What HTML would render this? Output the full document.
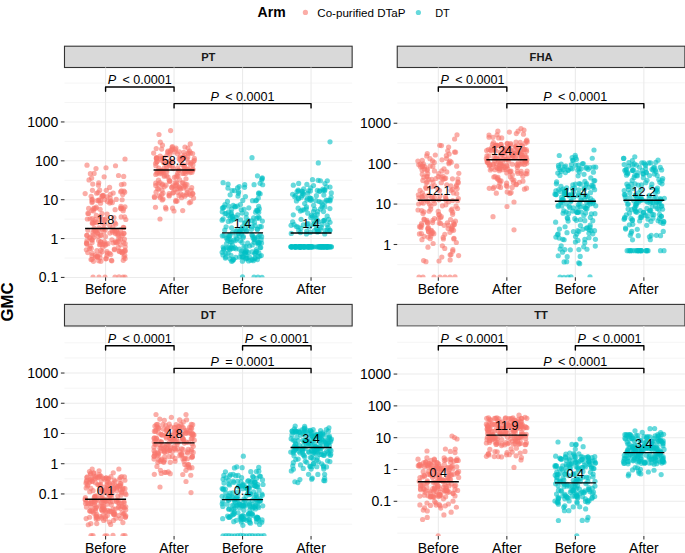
<!DOCTYPE html><html><head><meta charset="utf-8"><style>html,body{margin:0;padding:0;background:#fff;}svg{display:block;}</style></head><body>
<svg width="685" height="553" viewBox="0 0 685 553" font-family='"Liberation Sans", sans-serif'>
<rect width="685" height="553" fill="#fff"/>
<defs>
<clipPath id="c0"><rect x="64.49" y="67.5" width="287.65999999999997" height="209.8"/></clipPath>
<clipPath id="c1"><rect x="397.24" y="67.5" width="287.65999999999997" height="209.8"/></clipPath>
<clipPath id="c2"><rect x="64.49" y="326.0" width="287.65999999999997" height="209.89999999999998"/></clipPath>
<clipPath id="c3"><rect x="397.24" y="326.0" width="287.65999999999997" height="209.89999999999998"/></clipPath>
</defs>
<text x="257.6" y="17.1" font-size="14" font-weight="bold" fill="#000">Arm</text>
<circle cx="305.4" cy="12.4" r="2.6" fill="#F8766D" fill-opacity="0.6"/>
<text x="317.3" y="16.5" font-size="11.8" textLength="88.2" lengthAdjust="spacingAndGlyphs" fill="#000">Co-purified DTaP</text>
<circle cx="418.4" cy="12.5" r="2.6" fill="#00BFC4" fill-opacity="0.6"/>
<text x="435.2" y="16.5" font-size="11.8" textLength="14.6" lengthAdjust="spacingAndGlyphs" fill="#000">DT</text>
<text transform="translate(12.9,302) rotate(-90)" text-anchor="middle" font-size="16.8" font-weight="bold" fill="#000">GMC</text>
<rect x="64.49" y="46.2" width="287.65999999999997" height="21.299999999999997" fill="#D9D9D9" stroke="#333" stroke-width="1.1"/>
<text x="208.32" y="61.1" text-anchor="middle" font-size="11.2" font-weight="bold" fill="#1a1a1a">PT</text>
<line x1="64.49" x2="352.15" y1="258" y2="258" stroke="#EBEBEB" stroke-width="0.55"/><line x1="64.49" x2="352.15" y1="219.12" y2="219.12" stroke="#EBEBEB" stroke-width="0.55"/><line x1="64.49" x2="352.15" y1="180.25" y2="180.25" stroke="#EBEBEB" stroke-width="0.55"/><line x1="64.49" x2="352.15" y1="141.38" y2="141.38" stroke="#EBEBEB" stroke-width="0.55"/><line x1="64.49" x2="352.15" y1="102.52" y2="102.52" stroke="#EBEBEB" stroke-width="0.55"/><line x1="64.49" x2="352.15" y1="83.08" y2="83.08" stroke="#EBEBEB" stroke-width="0.55"/><line x1="64.49" x2="352.15" y1="277.43" y2="277.43" stroke="#EBEBEB" stroke-width="1.1"/><line x1="64.49" x2="352.15" y1="238.56" y2="238.56" stroke="#EBEBEB" stroke-width="1.1"/><line x1="64.49" x2="352.15" y1="199.69" y2="199.69" stroke="#EBEBEB" stroke-width="1.1"/><line x1="64.49" x2="352.15" y1="160.82" y2="160.82" stroke="#EBEBEB" stroke-width="1.1"/><line x1="64.49" x2="352.15" y1="121.95" y2="121.95" stroke="#EBEBEB" stroke-width="1.1"/><line x1="105.58" x2="105.58" y1="67.5" y2="277.3" stroke="#EBEBEB" stroke-width="1.1"/><line x1="174.07" x2="174.07" y1="67.5" y2="277.3" stroke="#EBEBEB" stroke-width="1.1"/><line x1="242.56" x2="242.56" y1="67.5" y2="277.3" stroke="#EBEBEB" stroke-width="1.1"/><line x1="311.05" x2="311.05" y1="67.5" y2="277.3" stroke="#EBEBEB" stroke-width="1.1"/>
<line x1="60.88999999999999" x2="64.49" y1="277.43" y2="277.43" stroke="#333" stroke-width="1.07"/>
<text x="58.28999999999999" y="282.43" text-anchor="end" font-size="14" fill="#000">0.1</text>
<line x1="60.88999999999999" x2="64.49" y1="238.56" y2="238.56" stroke="#333" stroke-width="1.07"/>
<text x="58.28999999999999" y="243.56" text-anchor="end" font-size="14" fill="#000">1</text>
<line x1="60.88999999999999" x2="64.49" y1="199.69" y2="199.69" stroke="#333" stroke-width="1.07"/>
<text x="58.28999999999999" y="204.69" text-anchor="end" font-size="14" fill="#000">10</text>
<line x1="60.88999999999999" x2="64.49" y1="160.82" y2="160.82" stroke="#333" stroke-width="1.07"/>
<text x="58.28999999999999" y="165.82" text-anchor="end" font-size="14" fill="#000">100</text>
<line x1="60.88999999999999" x2="64.49" y1="121.95" y2="121.95" stroke="#333" stroke-width="1.07"/>
<text x="58.28999999999999" y="126.95" text-anchor="end" font-size="14" fill="#000">1000</text>
<line x1="105.58" x2="105.58" y1="277.3" y2="280.8" stroke="#333" stroke-width="1.07"/>
<text x="105.58" y="294.4" text-anchor="middle" font-size="14" fill="#000">Before</text>
<line x1="174.07" x2="174.07" y1="277.3" y2="280.8" stroke="#333" stroke-width="1.07"/>
<text x="174.07" y="294.4" text-anchor="middle" font-size="14" fill="#000">After</text>
<line x1="242.56" x2="242.56" y1="277.3" y2="280.8" stroke="#333" stroke-width="1.07"/>
<text x="242.56" y="294.4" text-anchor="middle" font-size="14" fill="#000">Before</text>
<line x1="311.05" x2="311.05" y1="277.3" y2="280.8" stroke="#333" stroke-width="1.07"/>
<text x="311.05" y="294.4" text-anchor="middle" font-size="14" fill="#000">After</text>
<g clip-path="url(#c0)" fill="#F8766D" fill-opacity="0.6"><circle cx="115.38" cy="233.53" r="2.6"/><circle cx="92.47" cy="222.76" r="2.6"/><circle cx="123.45" cy="242.19" r="2.6"/><circle cx="123.88" cy="233.16" r="2.6"/><circle cx="123" cy="277.18" r="2.6"/><circle cx="99.01" cy="199.84" r="2.6"/><circle cx="87.36" cy="218.99" r="2.6"/><circle cx="96.3" cy="207.17" r="2.6"/><circle cx="118.31" cy="241.12" r="2.6"/><circle cx="91.77" cy="239.77" r="2.6"/><circle cx="96.64" cy="193.24" r="2.6"/><circle cx="114.4" cy="249.76" r="2.6"/><circle cx="95.18" cy="221.86" r="2.6"/><circle cx="97.28" cy="200.6" r="2.6"/><circle cx="96.87" cy="250.65" r="2.6"/><circle cx="94.02" cy="208.02" r="2.6"/><circle cx="118.23" cy="247.47" r="2.6"/><circle cx="118.53" cy="175.48" r="2.6"/><circle cx="95.08" cy="230.72" r="2.6"/><circle cx="92.31" cy="201.57" r="2.6"/><circle cx="110.69" cy="254.47" r="2.6"/><circle cx="124.97" cy="206.79" r="2.6"/><circle cx="116.94" cy="242.52" r="2.6"/><circle cx="86.57" cy="242.79" r="2.6"/><circle cx="110.85" cy="200.73" r="2.6"/><circle cx="97.07" cy="232.4" r="2.6"/><circle cx="115.51" cy="241.53" r="2.6"/><circle cx="104.81" cy="219.74" r="2.6"/><circle cx="91.64" cy="178.12" r="2.6"/><circle cx="98.77" cy="260.84" r="2.6"/><circle cx="92.96" cy="232.65" r="2.6"/><circle cx="123.52" cy="208.81" r="2.6"/><circle cx="112.35" cy="202.57" r="2.6"/><circle cx="120.46" cy="229.93" r="2.6"/><circle cx="99.49" cy="244.64" r="2.6"/><circle cx="116.74" cy="231.29" r="2.6"/><circle cx="115.74" cy="224.07" r="2.6"/><circle cx="121.04" cy="208.79" r="2.6"/><circle cx="96.3" cy="215.46" r="2.6"/><circle cx="114.29" cy="230.26" r="2.6"/><circle cx="100.58" cy="203.18" r="2.6"/><circle cx="92.25" cy="240.06" r="2.6"/><circle cx="125" cy="277.01" r="2.6"/><circle cx="90.24" cy="246.23" r="2.6"/><circle cx="95.22" cy="255.12" r="2.6"/><circle cx="114.35" cy="249.04" r="2.6"/><circle cx="93.44" cy="261.36" r="2.6"/><circle cx="98.9" cy="230.43" r="2.6"/><circle cx="92.42" cy="190.37" r="2.6"/><circle cx="100.72" cy="241.67" r="2.6"/><circle cx="103.01" cy="195.44" r="2.6"/><circle cx="87" cy="165.22" r="2.6"/><circle cx="104.15" cy="176.8" r="2.6"/><circle cx="89.65" cy="238.02" r="2.6"/><circle cx="123.92" cy="191.04" r="2.6"/><circle cx="109.75" cy="225.42" r="2.6"/><circle cx="122.25" cy="252.8" r="2.6"/><circle cx="119.59" cy="251.55" r="2.6"/><circle cx="100.28" cy="216.44" r="2.6"/><circle cx="110.36" cy="194.37" r="2.6"/><circle cx="100.13" cy="209.28" r="2.6"/><circle cx="121.31" cy="208.05" r="2.6"/><circle cx="103.16" cy="195.71" r="2.6"/><circle cx="123.76" cy="233.58" r="2.6"/><circle cx="98.73" cy="182.77" r="2.6"/><circle cx="104.61" cy="199.7" r="2.6"/><circle cx="108.03" cy="243.65" r="2.6"/><circle cx="100.1" cy="257.79" r="2.6"/><circle cx="92.39" cy="218.52" r="2.6"/><circle cx="102.54" cy="196.2" r="2.6"/><circle cx="93.69" cy="223.06" r="2.6"/><circle cx="98.47" cy="185.21" r="2.6"/><circle cx="113.16" cy="193.07" r="2.6"/><circle cx="113.22" cy="242.8" r="2.6"/><circle cx="93.43" cy="210.98" r="2.6"/><circle cx="118.8" cy="238.59" r="2.6"/><circle cx="120.68" cy="208.13" r="2.6"/><circle cx="100.61" cy="200.49" r="2.6"/><circle cx="96.88" cy="256.64" r="2.6"/><circle cx="107.11" cy="196.75" r="2.6"/><circle cx="124.63" cy="216.87" r="2.6"/><circle cx="106.03" cy="244.24" r="2.6"/><circle cx="115.11" cy="209.66" r="2.6"/><circle cx="99" cy="277.07" r="2.6"/><circle cx="111.41" cy="260.28" r="2.6"/><circle cx="103.81" cy="231.94" r="2.6"/><circle cx="94.93" cy="219.64" r="2.6"/><circle cx="125.13" cy="243.5" r="2.6"/><circle cx="101.17" cy="235.16" r="2.6"/><circle cx="87.03" cy="240.62" r="2.6"/><circle cx="116.23" cy="199.47" r="2.6"/><circle cx="122.12" cy="199.77" r="2.6"/><circle cx="91.97" cy="202.6" r="2.6"/><circle cx="118.24" cy="233.17" r="2.6"/><circle cx="94.14" cy="228.01" r="2.6"/><circle cx="92.1" cy="242.51" r="2.6"/><circle cx="120.62" cy="191.75" r="2.6"/><circle cx="85.14" cy="193.53" r="2.6"/><circle cx="102.41" cy="219.05" r="2.6"/><circle cx="106.86" cy="255.8" r="2.6"/><circle cx="111.86" cy="239.75" r="2.6"/><circle cx="87.77" cy="252.56" r="2.6"/><circle cx="97.63" cy="257.27" r="2.6"/><circle cx="96" cy="168.58" r="2.6"/><circle cx="119" cy="276.89" r="2.6"/><circle cx="93.79" cy="230.26" r="2.6"/><circle cx="92.02" cy="259.27" r="2.6"/><circle cx="113.93" cy="217.48" r="2.6"/><circle cx="105.52" cy="236.59" r="2.6"/><circle cx="122.23" cy="235.56" r="2.6"/><circle cx="89.01" cy="179.95" r="2.6"/><circle cx="100.84" cy="242.44" r="2.6"/><circle cx="124.69" cy="192.21" r="2.6"/><circle cx="86.5" cy="243.4" r="2.6"/><circle cx="124.81" cy="255.53" r="2.6"/><circle cx="88.59" cy="213.49" r="2.6"/><circle cx="110.14" cy="197.95" r="2.6"/><circle cx="107.1" cy="214.11" r="2.6"/><circle cx="89.55" cy="248.5" r="2.6"/><circle cx="121.74" cy="251.36" r="2.6"/><circle cx="111.81" cy="260.83" r="2.6"/><circle cx="102.64" cy="229.17" r="2.6"/><circle cx="106.96" cy="251.55" r="2.6"/><circle cx="92.04" cy="253.31" r="2.6"/><circle cx="96.98" cy="222.77" r="2.6"/><circle cx="92.87" cy="235.26" r="2.6"/><circle cx="112.79" cy="227.15" r="2.6"/><circle cx="92.74" cy="184.11" r="2.6"/><circle cx="107.26" cy="253.46" r="2.6"/><circle cx="100.89" cy="261.35" r="2.6"/><circle cx="102" cy="251.72" r="2.6"/><circle cx="117.98" cy="235.2" r="2.6"/><circle cx="112.07" cy="230.5" r="2.6"/><circle cx="125.02" cy="251.2" r="2.6"/><circle cx="105.75" cy="258.78" r="2.6"/><circle cx="87.87" cy="213.44" r="2.6"/><circle cx="122.71" cy="194.62" r="2.6"/><circle cx="115.5" cy="165.74" r="2.6"/><circle cx="86.87" cy="235.47" r="2.6"/><circle cx="95.45" cy="257.02" r="2.6"/><circle cx="120.61" cy="244.86" r="2.6"/><circle cx="125.1" cy="250.44" r="2.6"/><circle cx="99.06" cy="227.97" r="2.6"/><circle cx="121.43" cy="184.55" r="2.6"/><circle cx="105" cy="277.04" r="2.6"/><circle cx="92.35" cy="223.35" r="2.6"/><circle cx="106.21" cy="258.62" r="2.6"/><circle cx="121.18" cy="216.96" r="2.6"/><circle cx="100.75" cy="250.25" r="2.6"/><circle cx="110.43" cy="201.9" r="2.6"/><circle cx="100.37" cy="235.52" r="2.6"/><circle cx="120.96" cy="206.29" r="2.6"/><circle cx="115.85" cy="242.67" r="2.6"/><circle cx="102.81" cy="247.3" r="2.6"/><circle cx="123.75" cy="227.5" r="2.6"/><circle cx="98.06" cy="236.27" r="2.6"/><circle cx="112.49" cy="232.12" r="2.6"/><circle cx="99.97" cy="254.32" r="2.6"/><circle cx="91.27" cy="248.42" r="2.6"/><circle cx="115.07" cy="232.14" r="2.6"/><circle cx="91.88" cy="199.81" r="2.6"/><circle cx="123.18" cy="210.76" r="2.6"/><circle cx="105.1" cy="245.18" r="2.6"/><circle cx="121.26" cy="234" r="2.6"/><circle cx="101.84" cy="196.41" r="2.6"/><circle cx="115.94" cy="230.66" r="2.6"/><circle cx="94.11" cy="173.47" r="2.6"/><circle cx="105.25" cy="229.75" r="2.6"/><circle cx="90.39" cy="173.65" r="2.6"/><circle cx="93.77" cy="208.83" r="2.6"/><circle cx="86.37" cy="249.74" r="2.6"/><circle cx="103.91" cy="228.36" r="2.6"/><circle cx="98.75" cy="200.74" r="2.6"/><circle cx="91.96" cy="255.65" r="2.6"/><circle cx="109.86" cy="233.1" r="2.6"/><circle cx="90.01" cy="218.81" r="2.6"/><circle cx="121.44" cy="190.84" r="2.6"/><circle cx="123.35" cy="227.24" r="2.6"/><circle cx="99.33" cy="219.19" r="2.6"/><circle cx="106" cy="167.73" r="2.6"/><circle cx="104.38" cy="241.59" r="2.6"/><circle cx="117.98" cy="233.91" r="2.6"/><circle cx="123.98" cy="184.01" r="2.6"/><circle cx="123.99" cy="256.95" r="2.6"/><circle cx="120.46" cy="239.35" r="2.6"/><circle cx="104.83" cy="223.57" r="2.6"/><circle cx="91.03" cy="259.57" r="2.6"/><circle cx="115" cy="277.03" r="2.6"/><circle cx="106.25" cy="190.34" r="2.6"/><circle cx="99.65" cy="190.19" r="2.6"/><circle cx="105.72" cy="218.79" r="2.6"/><circle cx="97.6" cy="256.1" r="2.6"/><circle cx="109.62" cy="187.39" r="2.6"/><circle cx="125.21" cy="246.84" r="2.6"/><circle cx="93" cy="277.14" r="2.6"/><circle cx="97.52" cy="233.52" r="2.6"/><circle cx="98.04" cy="192.57" r="2.6"/><circle cx="124.37" cy="239.2" r="2.6"/><circle cx="95.78" cy="231.82" r="2.6"/><circle cx="102.41" cy="223.35" r="2.6"/><circle cx="93.82" cy="237.36" r="2.6"/><circle cx="87.91" cy="230.25" r="2.6"/><circle cx="102.05" cy="213.56" r="2.6"/><circle cx="91.11" cy="196.3" r="2.6"/><circle cx="109.56" cy="253.23" r="2.6"/><circle cx="104.03" cy="243.57" r="2.6"/><circle cx="123.29" cy="260.37" r="2.6"/><circle cx="90.2" cy="237.4" r="2.6"/><circle cx="109.71" cy="203.08" r="2.6"/><circle cx="123.76" cy="251.24" r="2.6"/><circle cx="95.76" cy="208.34" r="2.6"/><circle cx="86.91" cy="235.32" r="2.6"/><circle cx="125" cy="159" r="2.6"/><circle cx="100.41" cy="244.29" r="2.6"/><circle cx="125.11" cy="258.52" r="2.6"/><circle cx="98.65" cy="240.49" r="2.6"/><circle cx="102.49" cy="244.5" r="2.6"/><circle cx="114.8" cy="222.7" r="2.6"/><circle cx="92" cy="210.29" r="2.6"/><circle cx="87.06" cy="244.29" r="2.6"/><circle cx="88.66" cy="208.4" r="2.6"/><circle cx="92.23" cy="199.43" r="2.6"/><circle cx="125.81" cy="219.49" r="2.6"/><circle cx="122.08" cy="252.73" r="2.6"/><circle cx="118.98" cy="250.94" r="2.6"/><circle cx="123.69" cy="176.47" r="2.6"/><circle cx="107.46" cy="201.53" r="2.6"/></g>
<g clip-path="url(#c0)" fill="#F8766D" fill-opacity="0.6"><circle cx="180" cy="188.33" r="2.6"/><circle cx="170.09" cy="151.99" r="2.6"/><circle cx="179.33" cy="151.78" r="2.6"/><circle cx="156.23" cy="148.54" r="2.6"/><circle cx="192.94" cy="169.8" r="2.6"/><circle cx="160" cy="219" r="2.6"/><circle cx="166.03" cy="208.9" r="2.6"/><circle cx="169.17" cy="180.22" r="2.6"/><circle cx="172.34" cy="166.16" r="2.6"/><circle cx="174.6" cy="151.89" r="2.6"/><circle cx="191.99" cy="172.14" r="2.6"/><circle cx="156.06" cy="192.19" r="2.6"/><circle cx="166.16" cy="164.33" r="2.6"/><circle cx="174.97" cy="189.39" r="2.6"/><circle cx="156.94" cy="161.58" r="2.6"/><circle cx="177.2" cy="192.36" r="2.6"/><circle cx="169.97" cy="180.99" r="2.6"/><circle cx="159.68" cy="172.17" r="2.6"/><circle cx="159.15" cy="196.01" r="2.6"/><circle cx="184.1" cy="185.99" r="2.6"/><circle cx="166.79" cy="171.8" r="2.6"/><circle cx="175.89" cy="200.38" r="2.6"/><circle cx="187.97" cy="171.8" r="2.6"/><circle cx="192.78" cy="194.11" r="2.6"/><circle cx="162.01" cy="190.18" r="2.6"/><circle cx="163.45" cy="157.74" r="2.6"/><circle cx="188.36" cy="168.82" r="2.6"/><circle cx="169.59" cy="181.43" r="2.6"/><circle cx="192.7" cy="193.33" r="2.6"/><circle cx="160.33" cy="197.68" r="2.6"/><circle cx="185.59" cy="173.58" r="2.6"/><circle cx="167.78" cy="152.22" r="2.6"/><circle cx="178.79" cy="169.98" r="2.6"/><circle cx="181.02" cy="160.45" r="2.6"/><circle cx="168.03" cy="177.11" r="2.6"/><circle cx="163.03" cy="199.02" r="2.6"/><circle cx="180.78" cy="158.89" r="2.6"/><circle cx="172.4" cy="146.54" r="2.6"/><circle cx="190.95" cy="195.35" r="2.6"/><circle cx="176.18" cy="177.21" r="2.6"/><circle cx="155.51" cy="207.24" r="2.6"/><circle cx="158.22" cy="184.11" r="2.6"/><circle cx="180.55" cy="189.11" r="2.6"/><circle cx="185.11" cy="186.26" r="2.6"/><circle cx="164.21" cy="176.31" r="2.6"/><circle cx="164.15" cy="168.1" r="2.6"/><circle cx="183.57" cy="157.85" r="2.6"/><circle cx="155.61" cy="163.34" r="2.6"/><circle cx="160.34" cy="158.67" r="2.6"/><circle cx="184.94" cy="147.02" r="2.6"/><circle cx="183.78" cy="167.08" r="2.6"/><circle cx="175.46" cy="149.65" r="2.6"/><circle cx="184.65" cy="166.68" r="2.6"/><circle cx="169.57" cy="166.02" r="2.6"/><circle cx="169.73" cy="164.95" r="2.6"/><circle cx="167.87" cy="151" r="2.6"/><circle cx="155.86" cy="165.69" r="2.6"/><circle cx="189.58" cy="170.85" r="2.6"/><circle cx="188" cy="148.03" r="2.6"/><circle cx="171.87" cy="187.61" r="2.6"/><circle cx="164.63" cy="160.99" r="2.6"/><circle cx="172.36" cy="161.32" r="2.6"/><circle cx="169.17" cy="193.54" r="2.6"/><circle cx="184.44" cy="165.01" r="2.6"/><circle cx="158.8" cy="189.12" r="2.6"/><circle cx="166.41" cy="169.98" r="2.6"/><circle cx="170.6" cy="130.6" r="2.6"/><circle cx="162.2" cy="199.91" r="2.6"/><circle cx="156.7" cy="157.52" r="2.6"/><circle cx="186.96" cy="184.7" r="2.6"/><circle cx="158.32" cy="170.92" r="2.6"/><circle cx="191.9" cy="170.1" r="2.6"/><circle cx="156.88" cy="173.18" r="2.6"/><circle cx="184.78" cy="196.19" r="2.6"/><circle cx="177.22" cy="175.03" r="2.6"/><circle cx="169.97" cy="154.29" r="2.6"/><circle cx="192.9" cy="164.9" r="2.6"/><circle cx="192.8" cy="169.15" r="2.6"/><circle cx="190.96" cy="190.36" r="2.6"/><circle cx="187.18" cy="170.51" r="2.6"/><circle cx="177.91" cy="176.15" r="2.6"/><circle cx="180.05" cy="160.34" r="2.6"/><circle cx="177.11" cy="201.07" r="2.6"/><circle cx="173.28" cy="168.57" r="2.6"/><circle cx="193.38" cy="161.58" r="2.6"/><circle cx="164.25" cy="186.64" r="2.6"/><circle cx="186.01" cy="178.82" r="2.6"/><circle cx="177.49" cy="153.78" r="2.6"/><circle cx="177.78" cy="167.83" r="2.6"/><circle cx="190.52" cy="164.43" r="2.6"/><circle cx="161.65" cy="194.57" r="2.6"/><circle cx="190.59" cy="152.81" r="2.6"/><circle cx="176.71" cy="182.78" r="2.6"/><circle cx="170.66" cy="150.38" r="2.6"/><circle cx="163.71" cy="162.71" r="2.6"/><circle cx="166.35" cy="167.79" r="2.6"/><circle cx="176.58" cy="184.67" r="2.6"/><circle cx="182.92" cy="195.12" r="2.6"/><circle cx="194.33" cy="160.47" r="2.6"/><circle cx="172.1" cy="147.7" r="2.6"/><circle cx="183.85" cy="157.15" r="2.6"/><circle cx="187.72" cy="169.33" r="2.6"/><circle cx="190.24" cy="172.56" r="2.6"/><circle cx="174.37" cy="177.36" r="2.6"/><circle cx="153.65" cy="153.08" r="2.6"/><circle cx="179.67" cy="179.82" r="2.6"/><circle cx="181.88" cy="157.83" r="2.6"/><circle cx="158.84" cy="168.02" r="2.6"/><circle cx="166.51" cy="175.77" r="2.6"/><circle cx="183.39" cy="187.97" r="2.6"/><circle cx="187.06" cy="192.6" r="2.6"/><circle cx="193.61" cy="198.12" r="2.6"/><circle cx="162.43" cy="145.18" r="2.6"/><circle cx="176.81" cy="188.71" r="2.6"/><circle cx="191.7" cy="187.68" r="2.6"/><circle cx="180.3" cy="156.74" r="2.6"/><circle cx="163.02" cy="193.22" r="2.6"/><circle cx="188.54" cy="153.69" r="2.6"/><circle cx="179.09" cy="158.48" r="2.6"/><circle cx="183.83" cy="173.13" r="2.6"/><circle cx="173.05" cy="185.8" r="2.6"/><circle cx="192.64" cy="153.56" r="2.6"/><circle cx="183.82" cy="152.28" r="2.6"/><circle cx="188.41" cy="162.22" r="2.6"/><circle cx="161.03" cy="170.77" r="2.6"/><circle cx="175.27" cy="182.65" r="2.6"/><circle cx="156.68" cy="158.41" r="2.6"/><circle cx="162.71" cy="171.65" r="2.6"/><circle cx="185.22" cy="184.38" r="2.6"/><circle cx="182.72" cy="210.56" r="2.6"/><circle cx="165.54" cy="207.41" r="2.6"/><circle cx="183.86" cy="169.77" r="2.6"/><circle cx="181.53" cy="197.74" r="2.6"/><circle cx="156.95" cy="161.63" r="2.6"/><circle cx="154.36" cy="196.72" r="2.6"/><circle cx="194.32" cy="158.38" r="2.6"/><circle cx="175.45" cy="185.68" r="2.6"/><circle cx="162.24" cy="185.04" r="2.6"/><circle cx="169.13" cy="195.27" r="2.6"/><circle cx="179.38" cy="187.25" r="2.6"/><circle cx="185.06" cy="171.43" r="2.6"/><circle cx="159.87" cy="182.6" r="2.6"/><circle cx="169.22" cy="195.9" r="2.6"/><circle cx="171.84" cy="187.17" r="2.6"/><circle cx="180.83" cy="194.22" r="2.6"/><circle cx="186.77" cy="194.53" r="2.6"/><circle cx="161.67" cy="173.21" r="2.6"/><circle cx="174" cy="210.98" r="2.6"/><circle cx="157.22" cy="172.09" r="2.6"/><circle cx="159.84" cy="170.86" r="2.6"/><circle cx="156.29" cy="157.95" r="2.6"/><circle cx="179.35" cy="186.85" r="2.6"/><circle cx="161.59" cy="171.22" r="2.6"/><circle cx="157.44" cy="188.72" r="2.6"/><circle cx="155.73" cy="185.48" r="2.6"/><circle cx="162.44" cy="184.13" r="2.6"/><circle cx="154.51" cy="197.51" r="2.6"/><circle cx="160.17" cy="156.19" r="2.6"/><circle cx="182.37" cy="182.76" r="2.6"/><circle cx="188.06" cy="152.74" r="2.6"/><circle cx="161.62" cy="160.19" r="2.6"/><circle cx="178.98" cy="195.71" r="2.6"/><circle cx="172.84" cy="193.05" r="2.6"/><circle cx="155.78" cy="174.49" r="2.6"/><circle cx="161.93" cy="170.34" r="2.6"/><circle cx="161.62" cy="149.04" r="2.6"/><circle cx="159" cy="134.5" r="2.6"/><circle cx="175.76" cy="201.44" r="2.6"/><circle cx="177.69" cy="172.82" r="2.6"/><circle cx="175.97" cy="148.06" r="2.6"/><circle cx="173.14" cy="192.41" r="2.6"/><circle cx="160.29" cy="142.15" r="2.6"/><circle cx="178.79" cy="170.58" r="2.6"/><circle cx="189.3" cy="202.79" r="2.6"/><circle cx="187.01" cy="158.98" r="2.6"/><circle cx="163.16" cy="172.24" r="2.6"/><circle cx="189.54" cy="150.98" r="2.6"/><circle cx="159.62" cy="173.72" r="2.6"/><circle cx="190.74" cy="201.88" r="2.6"/><circle cx="169.14" cy="161.89" r="2.6"/><circle cx="164.23" cy="175.05" r="2.6"/><circle cx="183.7" cy="157.33" r="2.6"/><circle cx="170.29" cy="160.77" r="2.6"/><circle cx="166" cy="185.21" r="2.6"/><circle cx="155.74" cy="183.14" r="2.6"/><circle cx="184.23" cy="155.2" r="2.6"/><circle cx="183.16" cy="182.94" r="2.6"/><circle cx="167.03" cy="155.25" r="2.6"/><circle cx="181.88" cy="164.48" r="2.6"/><circle cx="190.25" cy="143.93" r="2.6"/><circle cx="156.41" cy="158.8" r="2.6"/><circle cx="172.58" cy="208.21" r="2.6"/><circle cx="189.21" cy="193.98" r="2.6"/><circle cx="190.91" cy="162.92" r="2.6"/><circle cx="172.16" cy="149.35" r="2.6"/><circle cx="187.04" cy="189.61" r="2.6"/><circle cx="158.46" cy="180.16" r="2.6"/><circle cx="187.76" cy="157.06" r="2.6"/><circle cx="182.52" cy="173.51" r="2.6"/></g>
<g clip-path="url(#c0)" fill="#00BFC4" fill-opacity="0.6"><circle cx="225" cy="213.71" r="2.6"/><circle cx="226.59" cy="243.54" r="2.6"/><circle cx="233.23" cy="248.51" r="2.6"/><circle cx="237.71" cy="214.88" r="2.6"/><circle cx="241.67" cy="251.18" r="2.6"/><circle cx="254.09" cy="184.71" r="2.6"/><circle cx="261.61" cy="236.72" r="2.6"/><circle cx="254.86" cy="257.93" r="2.6"/><circle cx="228.66" cy="206.17" r="2.6"/><circle cx="248.62" cy="225.91" r="2.6"/><circle cx="233.61" cy="259.6" r="2.6"/><circle cx="232.17" cy="216.52" r="2.6"/><circle cx="243.58" cy="256.84" r="2.6"/><circle cx="252.16" cy="220.9" r="2.6"/><circle cx="223.92" cy="235.53" r="2.6"/><circle cx="259.36" cy="208.85" r="2.6"/><circle cx="257.41" cy="259.57" r="2.6"/><circle cx="232.8" cy="216.31" r="2.6"/><circle cx="254.98" cy="258.64" r="2.6"/><circle cx="226.14" cy="248.07" r="2.6"/><circle cx="243.25" cy="236.27" r="2.6"/><circle cx="258.19" cy="236.66" r="2.6"/><circle cx="240.54" cy="229.58" r="2.6"/><circle cx="244.05" cy="209.29" r="2.6"/><circle cx="243.9" cy="251.53" r="2.6"/><circle cx="236.18" cy="217.36" r="2.6"/><circle cx="233.89" cy="240.1" r="2.6"/><circle cx="229.35" cy="236.38" r="2.6"/><circle cx="259.62" cy="256.13" r="2.6"/><circle cx="246.26" cy="213.82" r="2.6"/><circle cx="257.11" cy="229.16" r="2.6"/><circle cx="261.64" cy="179.83" r="2.6"/><circle cx="257.85" cy="242.66" r="2.6"/><circle cx="241.26" cy="209.73" r="2.6"/><circle cx="222.13" cy="220.15" r="2.6"/><circle cx="248.53" cy="220.45" r="2.6"/><circle cx="226.41" cy="238.17" r="2.6"/><circle cx="231.61" cy="227.82" r="2.6"/><circle cx="224.97" cy="204.64" r="2.6"/><circle cx="240.61" cy="219.83" r="2.6"/><circle cx="222.99" cy="254.97" r="2.6"/><circle cx="229.97" cy="249.86" r="2.6"/><circle cx="230.12" cy="239.57" r="2.6"/><circle cx="258.1" cy="256.51" r="2.6"/><circle cx="225.77" cy="256.96" r="2.6"/><circle cx="258.84" cy="252.95" r="2.6"/><circle cx="249.62" cy="245.99" r="2.6"/><circle cx="244.37" cy="223.11" r="2.6"/><circle cx="256.06" cy="251.68" r="2.6"/><circle cx="228.33" cy="247.65" r="2.6"/><circle cx="230.98" cy="255.36" r="2.6"/><circle cx="232.5" cy="232.67" r="2.6"/><circle cx="259.25" cy="218.19" r="2.6"/><circle cx="231.11" cy="212.69" r="2.6"/><circle cx="260.69" cy="247.46" r="2.6"/><circle cx="262" cy="277.27" r="2.6"/><circle cx="228.09" cy="184.19" r="2.6"/><circle cx="260.07" cy="183.32" r="2.6"/><circle cx="248.83" cy="207.83" r="2.6"/><circle cx="249.5" cy="257.13" r="2.6"/><circle cx="233.06" cy="259.44" r="2.6"/><circle cx="222.42" cy="208.08" r="2.6"/><circle cx="245.86" cy="246.63" r="2.6"/><circle cx="231.72" cy="209.21" r="2.6"/><circle cx="244.72" cy="184.71" r="2.6"/><circle cx="232.62" cy="219.19" r="2.6"/><circle cx="228.31" cy="221.43" r="2.6"/><circle cx="242.11" cy="213.08" r="2.6"/><circle cx="235.77" cy="257.38" r="2.6"/><circle cx="228.1" cy="253.22" r="2.6"/><circle cx="258.56" cy="193.63" r="2.6"/><circle cx="239.41" cy="249.22" r="2.6"/><circle cx="238.3" cy="233.62" r="2.6"/><circle cx="239.59" cy="257.11" r="2.6"/><circle cx="232.58" cy="260.78" r="2.6"/><circle cx="234.82" cy="247.69" r="2.6"/><circle cx="262.37" cy="221.05" r="2.6"/><circle cx="258" cy="277.18" r="2.6"/><circle cx="237.54" cy="187.97" r="2.6"/><circle cx="242.77" cy="200.41" r="2.6"/><circle cx="229.41" cy="248.67" r="2.6"/><circle cx="262.66" cy="184.75" r="2.6"/><circle cx="242.42" cy="261.21" r="2.6"/><circle cx="253.03" cy="237.68" r="2.6"/><circle cx="239.46" cy="236.21" r="2.6"/><circle cx="224.75" cy="230.01" r="2.6"/><circle cx="245.28" cy="222.33" r="2.6"/><circle cx="258.65" cy="206.34" r="2.6"/><circle cx="230.14" cy="241.85" r="2.6"/><circle cx="231.33" cy="214.17" r="2.6"/><circle cx="231.37" cy="248.03" r="2.6"/><circle cx="222.29" cy="211.73" r="2.6"/><circle cx="242.3" cy="256.88" r="2.6"/><circle cx="253.98" cy="239.4" r="2.6"/><circle cx="245.89" cy="258.95" r="2.6"/><circle cx="256.8" cy="218.21" r="2.6"/><circle cx="227.97" cy="238.31" r="2.6"/><circle cx="229.97" cy="258.8" r="2.6"/><circle cx="233.89" cy="219.33" r="2.6"/><circle cx="260.16" cy="247.87" r="2.6"/><circle cx="252" cy="157.7" r="2.6"/><circle cx="245.06" cy="253.09" r="2.6"/><circle cx="253.45" cy="260.74" r="2.6"/><circle cx="256.16" cy="249.52" r="2.6"/><circle cx="235.98" cy="236.03" r="2.6"/><circle cx="252.3" cy="244.89" r="2.6"/><circle cx="236.95" cy="230.97" r="2.6"/><circle cx="247.6" cy="243.03" r="2.6"/><circle cx="231.15" cy="220.79" r="2.6"/><circle cx="246.53" cy="251.21" r="2.6"/><circle cx="255.55" cy="212.26" r="2.6"/><circle cx="229.99" cy="235.34" r="2.6"/><circle cx="227.64" cy="240.34" r="2.6"/><circle cx="254" cy="277.16" r="2.6"/><circle cx="226.22" cy="213.59" r="2.6"/><circle cx="261.56" cy="243.06" r="2.6"/><circle cx="224.1" cy="207.07" r="2.6"/><circle cx="228.52" cy="211.79" r="2.6"/><circle cx="223.22" cy="207.67" r="2.6"/><circle cx="242.5" cy="276.87" r="2.6"/><circle cx="255.63" cy="200.73" r="2.6"/><circle cx="246.19" cy="217.64" r="2.6"/><circle cx="252.2" cy="226.65" r="2.6"/><circle cx="262.15" cy="178.64" r="2.6"/><circle cx="238.72" cy="191.53" r="2.6"/><circle cx="234.84" cy="206.52" r="2.6"/><circle cx="255" cy="225.5" r="2.6"/><circle cx="232.47" cy="244.9" r="2.6"/><circle cx="237.96" cy="196.1" r="2.6"/><circle cx="254.8" cy="239.95" r="2.6"/><circle cx="254.28" cy="242.34" r="2.6"/><circle cx="225.35" cy="258.1" r="2.6"/><circle cx="251.92" cy="234.8" r="2.6"/><circle cx="237.37" cy="206.06" r="2.6"/><circle cx="241.1" cy="253.82" r="2.6"/><circle cx="230.79" cy="247.12" r="2.6"/><circle cx="261.3" cy="226.67" r="2.6"/><circle cx="258.44" cy="217.11" r="2.6"/><circle cx="236.91" cy="238.82" r="2.6"/><circle cx="258.85" cy="242.93" r="2.6"/><circle cx="227.92" cy="188.08" r="2.6"/><circle cx="254.42" cy="237.66" r="2.6"/><circle cx="222.15" cy="252.32" r="2.6"/><circle cx="258.9" cy="192.95" r="2.6"/><circle cx="223.07" cy="182.63" r="2.6"/><circle cx="255.13" cy="253.27" r="2.6"/><circle cx="242.27" cy="226.95" r="2.6"/><circle cx="242.14" cy="256.63" r="2.6"/><circle cx="232.04" cy="190.56" r="2.6"/><circle cx="241.43" cy="233.92" r="2.6"/><circle cx="257" cy="237.91" r="2.6"/><circle cx="262.27" cy="177.78" r="2.6"/><circle cx="260.04" cy="234.87" r="2.6"/><circle cx="246.86" cy="230.93" r="2.6"/><circle cx="260.18" cy="193.8" r="2.6"/><circle cx="261.3" cy="255.48" r="2.6"/><circle cx="223.17" cy="247.03" r="2.6"/><circle cx="235.38" cy="206.82" r="2.6"/><circle cx="242.59" cy="231.7" r="2.6"/><circle cx="235.93" cy="248.85" r="2.6"/><circle cx="254.92" cy="253.62" r="2.6"/><circle cx="257.45" cy="175.82" r="2.6"/><circle cx="261.15" cy="239.71" r="2.6"/><circle cx="239.23" cy="186.5" r="2.6"/><circle cx="235.89" cy="230.77" r="2.6"/><circle cx="238.44" cy="193.3" r="2.6"/><circle cx="246.06" cy="254.55" r="2.6"/><circle cx="258.3" cy="198.05" r="2.6"/><circle cx="250.75" cy="260.13" r="2.6"/><circle cx="254.43" cy="222.2" r="2.6"/><circle cx="227.45" cy="201.41" r="2.6"/><circle cx="225.87" cy="253.38" r="2.6"/><circle cx="256.3" cy="210.29" r="2.6"/><circle cx="251.46" cy="229.32" r="2.6"/><circle cx="248.61" cy="260.89" r="2.6"/><circle cx="259.68" cy="226.66" r="2.6"/><circle cx="256.52" cy="200.28" r="2.6"/><circle cx="223.52" cy="249.85" r="2.6"/><circle cx="235.6" cy="240.58" r="2.6"/><circle cx="231.55" cy="261.37" r="2.6"/><circle cx="222.31" cy="235.8" r="2.6"/><circle cx="248.12" cy="252.43" r="2.6"/><circle cx="230.11" cy="194.87" r="2.6"/><circle cx="245.46" cy="196.55" r="2.6"/><circle cx="259.49" cy="242.75" r="2.6"/><circle cx="230.36" cy="217.39" r="2.6"/><circle cx="231.41" cy="242.06" r="2.6"/><circle cx="252.55" cy="235.79" r="2.6"/><circle cx="252.55" cy="259.56" r="2.6"/><circle cx="228.49" cy="215.77" r="2.6"/><circle cx="234.41" cy="190.6" r="2.6"/><circle cx="239.36" cy="231.85" r="2.6"/><circle cx="252.53" cy="200.7" r="2.6"/><circle cx="252.07" cy="251.93" r="2.6"/><circle cx="241.6" cy="229.2" r="2.6"/><circle cx="257.55" cy="229.23" r="2.6"/><circle cx="240.38" cy="204.62" r="2.6"/><circle cx="246.28" cy="230.86" r="2.6"/><circle cx="245.55" cy="251.22" r="2.6"/><circle cx="243.18" cy="237.62" r="2.6"/><circle cx="243.99" cy="246.71" r="2.6"/><circle cx="258.73" cy="212.33" r="2.6"/><circle cx="256.81" cy="251.62" r="2.6"/><circle cx="253.61" cy="217.93" r="2.6"/><circle cx="257.38" cy="210.7" r="2.6"/><circle cx="223.14" cy="218.9" r="2.6"/><circle cx="247.02" cy="258.04" r="2.6"/><circle cx="244.57" cy="187.32" r="2.6"/><circle cx="223.82" cy="248.55" r="2.6"/><circle cx="258.4" cy="242.68" r="2.6"/><circle cx="245.19" cy="228.32" r="2.6"/><circle cx="233.28" cy="205.44" r="2.6"/><circle cx="245.41" cy="252.79" r="2.6"/><circle cx="226.09" cy="226.76" r="2.6"/><circle cx="257.96" cy="244.13" r="2.6"/><circle cx="240.33" cy="240.71" r="2.6"/><circle cx="242.11" cy="242.38" r="2.6"/><circle cx="228.29" cy="235.51" r="2.6"/><circle cx="257.83" cy="210.72" r="2.6"/><circle cx="246.2" cy="258.24" r="2.6"/></g>
<g clip-path="url(#c0)" fill="#00BFC4" fill-opacity="0.6"><circle cx="313.49" cy="185.59" r="2.6"/><circle cx="326.59" cy="186.94" r="2.6"/><circle cx="330.08" cy="199.8" r="2.6"/><circle cx="302.25" cy="193.29" r="2.6"/><circle cx="292.49" cy="246.8" r="2.6"/><circle cx="304.35" cy="246.8" r="2.6"/><circle cx="316.75" cy="246.8" r="2.6"/><circle cx="330.01" cy="222.3" r="2.6"/><circle cx="303.68" cy="188.97" r="2.6"/><circle cx="295.44" cy="246.8" r="2.6"/><circle cx="318.3" cy="162.9" r="2.6"/><circle cx="326.64" cy="246.8" r="2.6"/><circle cx="308.57" cy="246.8" r="2.6"/><circle cx="318.63" cy="221.58" r="2.6"/><circle cx="318.3" cy="231.42" r="2.6"/><circle cx="311.74" cy="246.8" r="2.6"/><circle cx="311.32" cy="246.8" r="2.6"/><circle cx="319.76" cy="190.94" r="2.6"/><circle cx="314.45" cy="230.66" r="2.6"/><circle cx="301.73" cy="191.04" r="2.6"/><circle cx="311.49" cy="215.36" r="2.6"/><circle cx="321.24" cy="227.44" r="2.6"/><circle cx="291.01" cy="246.8" r="2.6"/><circle cx="327.46" cy="246.8" r="2.6"/><circle cx="295.74" cy="246.8" r="2.6"/><circle cx="296.44" cy="200.93" r="2.6"/><circle cx="312.51" cy="216.27" r="2.6"/><circle cx="324.73" cy="233.93" r="2.6"/><circle cx="317.7" cy="211.72" r="2.6"/><circle cx="320.41" cy="209.11" r="2.6"/><circle cx="315.89" cy="200.66" r="2.6"/><circle cx="312.79" cy="246.8" r="2.6"/><circle cx="298.66" cy="183.43" r="2.6"/><circle cx="325.08" cy="202.2" r="2.6"/><circle cx="327.47" cy="246.8" r="2.6"/><circle cx="326.69" cy="246.8" r="2.6"/><circle cx="324.75" cy="206.94" r="2.6"/><circle cx="301.01" cy="246.8" r="2.6"/><circle cx="327.31" cy="230.09" r="2.6"/><circle cx="323.35" cy="220.78" r="2.6"/><circle cx="303.2" cy="246.8" r="2.6"/><circle cx="322.04" cy="224.44" r="2.6"/><circle cx="307.76" cy="193.25" r="2.6"/><circle cx="322.02" cy="206.82" r="2.6"/><circle cx="301.27" cy="197.25" r="2.6"/><circle cx="326.27" cy="200.05" r="2.6"/><circle cx="300.8" cy="228.4" r="2.6"/><circle cx="304.15" cy="246.8" r="2.6"/><circle cx="318.11" cy="180.37" r="2.6"/><circle cx="331.45" cy="246.8" r="2.6"/><circle cx="294.7" cy="196.64" r="2.6"/><circle cx="295.69" cy="195.3" r="2.6"/><circle cx="291.08" cy="225.35" r="2.6"/><circle cx="322.44" cy="246.8" r="2.6"/><circle cx="309.54" cy="246.8" r="2.6"/><circle cx="300.43" cy="232.57" r="2.6"/><circle cx="327.19" cy="216.03" r="2.6"/><circle cx="320.9" cy="202.35" r="2.6"/><circle cx="306.19" cy="208.76" r="2.6"/><circle cx="302.33" cy="246.8" r="2.6"/><circle cx="307.74" cy="213.15" r="2.6"/><circle cx="294.1" cy="224.71" r="2.6"/><circle cx="292.08" cy="246.8" r="2.6"/><circle cx="319.46" cy="246.8" r="2.6"/><circle cx="310.26" cy="232.39" r="2.6"/><circle cx="299.66" cy="246.8" r="2.6"/><circle cx="321.28" cy="246.8" r="2.6"/><circle cx="320.59" cy="246.8" r="2.6"/><circle cx="327.3" cy="180.76" r="2.6"/><circle cx="304.65" cy="203.6" r="2.6"/><circle cx="300.4" cy="211.08" r="2.6"/><circle cx="298.12" cy="246.8" r="2.6"/><circle cx="319.01" cy="246.8" r="2.6"/><circle cx="301.94" cy="210.2" r="2.6"/><circle cx="308.1" cy="246.8" r="2.6"/><circle cx="310.11" cy="200.05" r="2.6"/><circle cx="313.51" cy="211.5" r="2.6"/><circle cx="319.09" cy="201.52" r="2.6"/><circle cx="321.1" cy="246.8" r="2.6"/><circle cx="314.36" cy="223.7" r="2.6"/><circle cx="300.8" cy="246.8" r="2.6"/><circle cx="306.88" cy="184.43" r="2.6"/><circle cx="312.52" cy="179.72" r="2.6"/><circle cx="300.65" cy="246.8" r="2.6"/><circle cx="329.95" cy="200.97" r="2.6"/><circle cx="320.42" cy="180.76" r="2.6"/><circle cx="327.95" cy="200.4" r="2.6"/><circle cx="291.27" cy="233.38" r="2.6"/><circle cx="322.73" cy="204.97" r="2.6"/><circle cx="298.73" cy="198.13" r="2.6"/><circle cx="307.99" cy="246.8" r="2.6"/><circle cx="317.33" cy="190.43" r="2.6"/><circle cx="330" cy="141.8" r="2.6"/><circle cx="313.66" cy="205.37" r="2.6"/><circle cx="303.67" cy="194.08" r="2.6"/><circle cx="303.44" cy="246.8" r="2.6"/><circle cx="325.3" cy="246.8" r="2.6"/><circle cx="313.82" cy="220.84" r="2.6"/><circle cx="303.35" cy="224.88" r="2.6"/><circle cx="319.38" cy="191.35" r="2.6"/><circle cx="313.48" cy="224.48" r="2.6"/><circle cx="306.44" cy="206.88" r="2.6"/><circle cx="298.04" cy="227.01" r="2.6"/><circle cx="324.95" cy="183.6" r="2.6"/><circle cx="292.62" cy="194.27" r="2.6"/><circle cx="330" cy="246.8" r="2.6"/><circle cx="325.27" cy="230.71" r="2.6"/><circle cx="310.65" cy="246.8" r="2.6"/><circle cx="302.23" cy="195.52" r="2.6"/><circle cx="297.07" cy="191.52" r="2.6"/><circle cx="325.89" cy="246.8" r="2.6"/><circle cx="306.85" cy="199.98" r="2.6"/><circle cx="323.7" cy="246.8" r="2.6"/><circle cx="324.14" cy="246.8" r="2.6"/><circle cx="300.2" cy="246.8" r="2.6"/><circle cx="324.7" cy="220.08" r="2.6"/><circle cx="303.92" cy="209.83" r="2.6"/><circle cx="321.8" cy="246.8" r="2.6"/><circle cx="324.64" cy="246.8" r="2.6"/><circle cx="331.12" cy="246.8" r="2.6"/><circle cx="298.34" cy="198.82" r="2.6"/><circle cx="303.96" cy="246.8" r="2.6"/><circle cx="311.29" cy="198.63" r="2.6"/><circle cx="311.07" cy="246.8" r="2.6"/><circle cx="324.83" cy="189.87" r="2.6"/><circle cx="327" cy="246.8" r="2.6"/><circle cx="331.3" cy="192.9" r="2.6"/><circle cx="295.08" cy="246.8" r="2.6"/><circle cx="291.77" cy="246.8" r="2.6"/><circle cx="298.12" cy="190.05" r="2.6"/><circle cx="307.04" cy="224.11" r="2.6"/><circle cx="302.86" cy="191.67" r="2.6"/><circle cx="299.43" cy="246.8" r="2.6"/><circle cx="314.58" cy="209.13" r="2.6"/><circle cx="298.81" cy="246.8" r="2.6"/><circle cx="308.53" cy="190.79" r="2.6"/><circle cx="292.66" cy="221.74" r="2.6"/><circle cx="327.25" cy="224.86" r="2.6"/><circle cx="295.37" cy="246.8" r="2.6"/><circle cx="309.73" cy="246.8" r="2.6"/><circle cx="290.92" cy="246.8" r="2.6"/><circle cx="303.87" cy="246.8" r="2.6"/><circle cx="319.01" cy="246.8" r="2.6"/><circle cx="316.39" cy="195.64" r="2.6"/><circle cx="298.7" cy="230.57" r="2.6"/><circle cx="328.02" cy="227.33" r="2.6"/><circle cx="310.39" cy="190.97" r="2.6"/><circle cx="331.02" cy="197.32" r="2.6"/><circle cx="294.15" cy="246.8" r="2.6"/><circle cx="327.04" cy="246.8" r="2.6"/><circle cx="314.22" cy="246.8" r="2.6"/><circle cx="310.66" cy="187.76" r="2.6"/><circle cx="323.54" cy="211.59" r="2.6"/><circle cx="328.69" cy="246.8" r="2.6"/><circle cx="323.24" cy="190.37" r="2.6"/><circle cx="310.78" cy="217.49" r="2.6"/><circle cx="296.89" cy="246.8" r="2.6"/><circle cx="306.67" cy="231.1" r="2.6"/><circle cx="321.83" cy="246.8" r="2.6"/><circle cx="323.83" cy="195.11" r="2.6"/><circle cx="316.53" cy="228.18" r="2.6"/><circle cx="310.15" cy="198.01" r="2.6"/><circle cx="324.08" cy="220.71" r="2.6"/><circle cx="323.83" cy="246.8" r="2.6"/><circle cx="320.3" cy="229.47" r="2.6"/><circle cx="317.2" cy="214.38" r="2.6"/><circle cx="324.25" cy="246.8" r="2.6"/><circle cx="317.73" cy="246.8" r="2.6"/><circle cx="293.31" cy="185.21" r="2.6"/><circle cx="300.17" cy="246.8" r="2.6"/><circle cx="324.61" cy="190.71" r="2.6"/><circle cx="327.32" cy="246.8" r="2.6"/><circle cx="315.93" cy="218.33" r="2.6"/><circle cx="301.07" cy="219.31" r="2.6"/><circle cx="323.39" cy="246.8" r="2.6"/><circle cx="317.15" cy="219.9" r="2.6"/><circle cx="296.39" cy="226.56" r="2.6"/><circle cx="307.15" cy="246.8" r="2.6"/><circle cx="308.5" cy="246.8" r="2.6"/><circle cx="298.49" cy="191.1" r="2.6"/><circle cx="329.95" cy="230.02" r="2.6"/><circle cx="308.19" cy="223.51" r="2.6"/><circle cx="295.47" cy="246.8" r="2.6"/><circle cx="306.4" cy="233.93" r="2.6"/><circle cx="308.53" cy="246.8" r="2.6"/><circle cx="322.6" cy="246.8" r="2.6"/><circle cx="299.53" cy="246.8" r="2.6"/><circle cx="319.73" cy="246.8" r="2.6"/><circle cx="294.68" cy="246.8" r="2.6"/><circle cx="311.25" cy="200.27" r="2.6"/><circle cx="330.02" cy="187.07" r="2.6"/><circle cx="309.23" cy="246.8" r="2.6"/><circle cx="299.86" cy="246.8" r="2.6"/><circle cx="318.26" cy="231.55" r="2.6"/><circle cx="306.56" cy="246.8" r="2.6"/><circle cx="293.31" cy="214.82" r="2.6"/><circle cx="309.73" cy="198.08" r="2.6"/><circle cx="298.16" cy="208.15" r="2.6"/><circle cx="328.82" cy="246.8" r="2.6"/><circle cx="317.32" cy="229.08" r="2.6"/><circle cx="301.23" cy="246.8" r="2.6"/><circle cx="295.59" cy="246.8" r="2.6"/><circle cx="314.68" cy="215.72" r="2.6"/><circle cx="328.59" cy="219.28" r="2.6"/><circle cx="320.88" cy="246.8" r="2.6"/><circle cx="317.18" cy="231.88" r="2.6"/><circle cx="329.89" cy="208.55" r="2.6"/><circle cx="311.83" cy="246.8" r="2.6"/><circle cx="305.62" cy="246.8" r="2.6"/><circle cx="304.91" cy="246.8" r="2.6"/><circle cx="300.75" cy="246.8" r="2.6"/><circle cx="297.23" cy="246.8" r="2.6"/><circle cx="322.82" cy="189.08" r="2.6"/><circle cx="329.46" cy="246.8" r="2.6"/><circle cx="307.18" cy="198.29" r="2.6"/><circle cx="309.39" cy="226.97" r="2.6"/><circle cx="329.78" cy="230.58" r="2.6"/><circle cx="291.23" cy="246.8" r="2.6"/></g>
<line x1="85.08" x2="126.08" y1="228.5" y2="228.5" stroke="#000" stroke-width="1.4"/>
<text x="105.58" y="223.7" text-anchor="middle" font-size="12.6" fill="#000">1.8</text>
<line x1="153.57" x2="194.57" y1="170.0" y2="170.0" stroke="#000" stroke-width="1.4"/>
<text x="174.07" y="165.2" text-anchor="middle" font-size="12.6" fill="#000">58.2</text>
<line x1="222.06" x2="263.06" y1="232.9" y2="232.9" stroke="#000" stroke-width="1.4"/>
<text x="242.56" y="228.1" text-anchor="middle" font-size="12.6" fill="#000">1.4</text>
<line x1="290.55" x2="331.55" y1="233.0" y2="233.0" stroke="#000" stroke-width="1.4"/>
<text x="311.05" y="228.2" text-anchor="middle" font-size="12.6" fill="#000">1.4</text>
<path d="M105.58 91.3V87.0H174.07V91.3" fill="none" stroke="#000" stroke-width="1.4" stroke-linecap="round" stroke-linejoin="round"/>
<text x="139.825" y="84.1" text-anchor="middle" font-size="12.6" fill="#000"><tspan font-style="italic">P</tspan><tspan dx="6.2">< 0.0001</tspan></text>
<path d="M174.07 107.89999999999999V103.6H311.05V107.89999999999999" fill="none" stroke="#000" stroke-width="1.4" stroke-linecap="round" stroke-linejoin="round"/>
<text x="242.56" y="100.7" text-anchor="middle" font-size="12.6" fill="#000"><tspan font-style="italic">P</tspan><tspan dx="6.2">< 0.0001</tspan></text>
<rect x="397.24" y="46.2" width="287.65999999999997" height="21.299999999999997" fill="#D9D9D9" stroke="#333" stroke-width="1.1"/>
<text x="541.0699999999999" y="61.1" text-anchor="middle" font-size="11.2" font-weight="bold" fill="#1a1a1a">FHA</text>
<line x1="397.24" x2="684.9" y1="264.71" y2="264.71" stroke="#EBEBEB" stroke-width="0.55"/><line x1="397.24" x2="684.9" y1="224.29" y2="224.29" stroke="#EBEBEB" stroke-width="0.55"/><line x1="397.24" x2="684.9" y1="183.87" y2="183.87" stroke="#EBEBEB" stroke-width="0.55"/><line x1="397.24" x2="684.9" y1="143.45" y2="143.45" stroke="#EBEBEB" stroke-width="0.55"/><line x1="397.24" x2="684.9" y1="103.03" y2="103.03" stroke="#EBEBEB" stroke-width="0.55"/><line x1="397.24" x2="684.9" y1="82.82" y2="82.82" stroke="#EBEBEB" stroke-width="0.55"/><line x1="397.24" x2="684.9" y1="244.5" y2="244.5" stroke="#EBEBEB" stroke-width="1.1"/><line x1="397.24" x2="684.9" y1="204.08" y2="204.08" stroke="#EBEBEB" stroke-width="1.1"/><line x1="397.24" x2="684.9" y1="163.66" y2="163.66" stroke="#EBEBEB" stroke-width="1.1"/><line x1="397.24" x2="684.9" y1="123.24" y2="123.24" stroke="#EBEBEB" stroke-width="1.1"/><line x1="438.33" x2="438.33" y1="67.5" y2="277.3" stroke="#EBEBEB" stroke-width="1.1"/><line x1="506.84" x2="506.84" y1="67.5" y2="277.3" stroke="#EBEBEB" stroke-width="1.1"/><line x1="575.36" x2="575.36" y1="67.5" y2="277.3" stroke="#EBEBEB" stroke-width="1.1"/><line x1="643.87" x2="643.87" y1="67.5" y2="277.3" stroke="#EBEBEB" stroke-width="1.1"/>
<line x1="393.64" x2="397.24" y1="244.5" y2="244.5" stroke="#333" stroke-width="1.07"/>
<text x="391.04" y="249.5" text-anchor="end" font-size="14" fill="#000">1</text>
<line x1="393.64" x2="397.24" y1="204.08" y2="204.08" stroke="#333" stroke-width="1.07"/>
<text x="391.04" y="209.08" text-anchor="end" font-size="14" fill="#000">10</text>
<line x1="393.64" x2="397.24" y1="163.66" y2="163.66" stroke="#333" stroke-width="1.07"/>
<text x="391.04" y="168.66" text-anchor="end" font-size="14" fill="#000">100</text>
<line x1="393.64" x2="397.24" y1="123.24" y2="123.24" stroke="#333" stroke-width="1.07"/>
<text x="391.04" y="128.24" text-anchor="end" font-size="14" fill="#000">1000</text>
<line x1="438.33" x2="438.33" y1="277.3" y2="280.8" stroke="#333" stroke-width="1.07"/>
<text x="438.33" y="294.4" text-anchor="middle" font-size="14" fill="#000">Before</text>
<line x1="506.84" x2="506.84" y1="277.3" y2="280.8" stroke="#333" stroke-width="1.07"/>
<text x="506.84" y="294.4" text-anchor="middle" font-size="14" fill="#000">After</text>
<line x1="575.36" x2="575.36" y1="277.3" y2="280.8" stroke="#333" stroke-width="1.07"/>
<text x="575.36" y="294.4" text-anchor="middle" font-size="14" fill="#000">Before</text>
<line x1="643.87" x2="643.87" y1="277.3" y2="280.8" stroke="#333" stroke-width="1.07"/>
<text x="643.87" y="294.4" text-anchor="middle" font-size="14" fill="#000">After</text>
<g clip-path="url(#c1)" fill="#F8766D" fill-opacity="0.6"><circle cx="422.29" cy="160.47" r="2.6"/><circle cx="445.87" cy="198.49" r="2.6"/><circle cx="448.13" cy="228.49" r="2.6"/><circle cx="444.61" cy="178.7" r="2.6"/><circle cx="446.36" cy="155.72" r="2.6"/><circle cx="433.14" cy="243.51" r="2.6"/><circle cx="451" cy="190.33" r="2.6"/><circle cx="452.63" cy="214.29" r="2.6"/><circle cx="441.34" cy="182.67" r="2.6"/><circle cx="440.47" cy="217.86" r="2.6"/><circle cx="454.12" cy="224.28" r="2.6"/><circle cx="442.36" cy="245.77" r="2.6"/><circle cx="434.42" cy="203.61" r="2.6"/><circle cx="417.89" cy="161.07" r="2.6"/><circle cx="430.19" cy="166.04" r="2.6"/><circle cx="418.66" cy="203.98" r="2.6"/><circle cx="423" cy="277.19" r="2.6"/><circle cx="422.45" cy="166.38" r="2.6"/><circle cx="422.26" cy="197.1" r="2.6"/><circle cx="456.7" cy="166.15" r="2.6"/><circle cx="455.54" cy="152.18" r="2.6"/><circle cx="439.04" cy="214.48" r="2.6"/><circle cx="426.25" cy="182.85" r="2.6"/><circle cx="444.81" cy="234.29" r="2.6"/><circle cx="457.57" cy="208.48" r="2.6"/><circle cx="439.6" cy="190.5" r="2.6"/><circle cx="447.74" cy="150.79" r="2.6"/><circle cx="438.96" cy="214.48" r="2.6"/><circle cx="438.04" cy="189.66" r="2.6"/><circle cx="458.25" cy="182.63" r="2.6"/><circle cx="452.72" cy="212.32" r="2.6"/><circle cx="445" cy="277" r="2.6"/><circle cx="431.77" cy="179.43" r="2.6"/><circle cx="430.5" cy="230.52" r="2.6"/><circle cx="435.32" cy="155.02" r="2.6"/><circle cx="430.86" cy="233.98" r="2.6"/><circle cx="451.31" cy="228.78" r="2.6"/><circle cx="431.76" cy="198.06" r="2.6"/><circle cx="418.36" cy="194.85" r="2.6"/><circle cx="450.6" cy="219.5" r="2.6"/><circle cx="439.94" cy="195.94" r="2.6"/><circle cx="446.08" cy="200.2" r="2.6"/><circle cx="421.38" cy="202.41" r="2.6"/><circle cx="423.01" cy="213.59" r="2.6"/><circle cx="423.86" cy="177.17" r="2.6"/><circle cx="428.69" cy="179.35" r="2.6"/><circle cx="424.01" cy="236.37" r="2.6"/><circle cx="452.68" cy="189.41" r="2.6"/><circle cx="432.83" cy="220.33" r="2.6"/><circle cx="427.7" cy="173.68" r="2.6"/><circle cx="434" cy="277.22" r="2.6"/><circle cx="427.15" cy="170.38" r="2.6"/><circle cx="424.43" cy="169.2" r="2.6"/><circle cx="450.14" cy="259.95" r="2.6"/><circle cx="428.33" cy="195.47" r="2.6"/><circle cx="452.02" cy="228.22" r="2.6"/><circle cx="432.79" cy="232.08" r="2.6"/><circle cx="441.46" cy="145.57" r="2.6"/><circle cx="423.84" cy="195.71" r="2.6"/><circle cx="434.47" cy="218.6" r="2.6"/><circle cx="426.97" cy="220.3" r="2.6"/><circle cx="448.62" cy="147.1" r="2.6"/><circle cx="441.71" cy="170.89" r="2.6"/><circle cx="432.86" cy="166.38" r="2.6"/><circle cx="452.22" cy="226.56" r="2.6"/><circle cx="426.86" cy="176.88" r="2.6"/><circle cx="439.75" cy="145.34" r="2.6"/><circle cx="443.05" cy="179.19" r="2.6"/><circle cx="449.13" cy="162.38" r="2.6"/><circle cx="427.97" cy="228.22" r="2.6"/><circle cx="443.41" cy="238.98" r="2.6"/><circle cx="421.96" cy="239.68" r="2.6"/><circle cx="450.13" cy="254.78" r="2.6"/><circle cx="426.74" cy="221.77" r="2.6"/><circle cx="420.07" cy="190.4" r="2.6"/><circle cx="432.51" cy="160.92" r="2.6"/><circle cx="449.98" cy="161.03" r="2.6"/><circle cx="431.92" cy="233.38" r="2.6"/><circle cx="445.62" cy="178.18" r="2.6"/><circle cx="448.35" cy="225.22" r="2.6"/><circle cx="446.77" cy="171.95" r="2.6"/><circle cx="451.03" cy="254.48" r="2.6"/><circle cx="440" cy="277.07" r="2.6"/><circle cx="427.29" cy="181.91" r="2.6"/><circle cx="427.85" cy="229.01" r="2.6"/><circle cx="429.96" cy="158.67" r="2.6"/><circle cx="434.23" cy="162.45" r="2.6"/><circle cx="443.18" cy="237.42" r="2.6"/><circle cx="424.75" cy="166.48" r="2.6"/><circle cx="447.43" cy="222.86" r="2.6"/><circle cx="427.21" cy="169.13" r="2.6"/><circle cx="427.71" cy="222.46" r="2.6"/><circle cx="428.48" cy="231.55" r="2.6"/><circle cx="457" cy="134.8" r="2.6"/><circle cx="438.6" cy="218.52" r="2.6"/><circle cx="432.63" cy="222.62" r="2.6"/><circle cx="452.45" cy="178.8" r="2.6"/><circle cx="420.58" cy="164.2" r="2.6"/><circle cx="454.6" cy="139" r="2.6"/><circle cx="418.79" cy="164.83" r="2.6"/><circle cx="433.83" cy="233.68" r="2.6"/><circle cx="449.19" cy="154.07" r="2.6"/><circle cx="441.97" cy="159.85" r="2.6"/><circle cx="421.01" cy="227.63" r="2.6"/><circle cx="420.57" cy="226.49" r="2.6"/><circle cx="452.9" cy="249.63" r="2.6"/><circle cx="422.36" cy="192.86" r="2.6"/><circle cx="421.97" cy="196.8" r="2.6"/><circle cx="455.45" cy="221.13" r="2.6"/><circle cx="425.97" cy="261.67" r="2.6"/><circle cx="451.19" cy="162.13" r="2.6"/><circle cx="457.55" cy="200.72" r="2.6"/><circle cx="421.5" cy="223.71" r="2.6"/><circle cx="422.07" cy="170.05" r="2.6"/><circle cx="446.74" cy="184.73" r="2.6"/><circle cx="456.08" cy="206.13" r="2.6"/><circle cx="439.01" cy="260.99" r="2.6"/><circle cx="427.69" cy="223.21" r="2.6"/><circle cx="455.98" cy="186.49" r="2.6"/><circle cx="422.86" cy="180.4" r="2.6"/><circle cx="432.33" cy="196.99" r="2.6"/><circle cx="431.43" cy="230.4" r="2.6"/><circle cx="452.68" cy="251.18" r="2.6"/><circle cx="448.95" cy="163.63" r="2.6"/><circle cx="434.47" cy="170.89" r="2.6"/><circle cx="456.63" cy="185.04" r="2.6"/><circle cx="422.64" cy="165.95" r="2.6"/><circle cx="451.19" cy="210.3" r="2.6"/><circle cx="427.27" cy="153.67" r="2.6"/><circle cx="450" cy="277.03" r="2.6"/><circle cx="444.1" cy="225.31" r="2.6"/><circle cx="420.68" cy="166.99" r="2.6"/><circle cx="427.94" cy="247.15" r="2.6"/><circle cx="457.83" cy="178.85" r="2.6"/><circle cx="442.94" cy="176.26" r="2.6"/><circle cx="428.03" cy="237.06" r="2.6"/><circle cx="450.79" cy="185.79" r="2.6"/><circle cx="453.58" cy="222.81" r="2.6"/><circle cx="456.74" cy="193.69" r="2.6"/><circle cx="428.65" cy="231.56" r="2.6"/><circle cx="430.78" cy="236.16" r="2.6"/><circle cx="456.31" cy="242.51" r="2.6"/><circle cx="455" cy="276.97" r="2.6"/><circle cx="421.67" cy="210.57" r="2.6"/><circle cx="441.29" cy="216.66" r="2.6"/><circle cx="433.04" cy="182.05" r="2.6"/><circle cx="427.49" cy="201.6" r="2.6"/><circle cx="441.81" cy="257.03" r="2.6"/><circle cx="435.88" cy="178.52" r="2.6"/><circle cx="453.57" cy="230.35" r="2.6"/><circle cx="458.82" cy="173.29" r="2.6"/><circle cx="431.38" cy="186.66" r="2.6"/><circle cx="422.29" cy="174.2" r="2.6"/><circle cx="448.72" cy="201.69" r="2.6"/><circle cx="438.77" cy="173.58" r="2.6"/><circle cx="454.52" cy="151.98" r="2.6"/><circle cx="425.83" cy="187.32" r="2.6"/><circle cx="430.2" cy="238.77" r="2.6"/><circle cx="419" cy="277.17" r="2.6"/><circle cx="453.96" cy="238.24" r="2.6"/><circle cx="451.89" cy="230.04" r="2.6"/><circle cx="434.39" cy="197.32" r="2.6"/><circle cx="457.85" cy="181.89" r="2.6"/><circle cx="418.8" cy="197.89" r="2.6"/><circle cx="429.45" cy="203.89" r="2.6"/><circle cx="426.98" cy="176.21" r="2.6"/><circle cx="429.17" cy="211.27" r="2.6"/><circle cx="419.42" cy="233.88" r="2.6"/><circle cx="453.37" cy="192.88" r="2.6"/><circle cx="441.13" cy="177.43" r="2.6"/><circle cx="458.61" cy="255.53" r="2.6"/><circle cx="430.72" cy="209.2" r="2.6"/><circle cx="424.39" cy="219.69" r="2.6"/><circle cx="426.09" cy="188.44" r="2.6"/><circle cx="426.22" cy="199.96" r="2.6"/><circle cx="454.16" cy="224.85" r="2.6"/><circle cx="457.16" cy="188.58" r="2.6"/><circle cx="452.03" cy="209" r="2.6"/><circle cx="452.69" cy="200.52" r="2.6"/><circle cx="444.03" cy="168.83" r="2.6"/><circle cx="423.8" cy="211.83" r="2.6"/><circle cx="430.87" cy="206.15" r="2.6"/><circle cx="434.64" cy="185.91" r="2.6"/><circle cx="449.95" cy="232.28" r="2.6"/><circle cx="438.35" cy="176.7" r="2.6"/><circle cx="418.03" cy="210.02" r="2.6"/><circle cx="419.5" cy="226.72" r="2.6"/><circle cx="428.45" cy="227.72" r="2.6"/><circle cx="458.36" cy="198.6" r="2.6"/><circle cx="421.77" cy="225.17" r="2.6"/><circle cx="423.13" cy="203.2" r="2.6"/><circle cx="445.55" cy="196.8" r="2.6"/><circle cx="421.4" cy="233.51" r="2.6"/><circle cx="444.74" cy="248.43" r="2.6"/><circle cx="442.42" cy="205.84" r="2.6"/><circle cx="453.86" cy="238.88" r="2.6"/><circle cx="423.94" cy="219.13" r="2.6"/><circle cx="445.88" cy="204.8" r="2.6"/><circle cx="440.56" cy="223.45" r="2.6"/><circle cx="423.59" cy="260.59" r="2.6"/><circle cx="433.66" cy="200.59" r="2.6"/><circle cx="426.7" cy="155.94" r="2.6"/><circle cx="438.24" cy="211.43" r="2.6"/><circle cx="423.35" cy="163.89" r="2.6"/><circle cx="446.66" cy="158.49" r="2.6"/><circle cx="439.27" cy="223.02" r="2.6"/><circle cx="438.9" cy="199.84" r="2.6"/></g>
<g clip-path="url(#c1)" fill="#F8766D" fill-opacity="0.6"><circle cx="524.76" cy="154.98" r="2.6"/><circle cx="495.79" cy="150.97" r="2.6"/><circle cx="526.69" cy="163.28" r="2.6"/><circle cx="514" cy="202" r="2.6"/><circle cx="516.31" cy="133.57" r="2.6"/><circle cx="524.26" cy="149.26" r="2.6"/><circle cx="489.56" cy="164.8" r="2.6"/><circle cx="509.86" cy="171.85" r="2.6"/><circle cx="507.09" cy="143.75" r="2.6"/><circle cx="522.2" cy="161.92" r="2.6"/><circle cx="489.32" cy="165.65" r="2.6"/><circle cx="501.13" cy="144.38" r="2.6"/><circle cx="524" cy="130" r="2.6"/><circle cx="499.4" cy="170.69" r="2.6"/><circle cx="526.57" cy="151.32" r="2.6"/><circle cx="512.66" cy="156.35" r="2.6"/><circle cx="504.98" cy="167.47" r="2.6"/><circle cx="520.13" cy="150.63" r="2.6"/><circle cx="526.2" cy="156.73" r="2.6"/><circle cx="522.78" cy="157.36" r="2.6"/><circle cx="493.92" cy="149.14" r="2.6"/><circle cx="497.6" cy="168.21" r="2.6"/><circle cx="509.36" cy="132.12" r="2.6"/><circle cx="516.08" cy="146.13" r="2.6"/><circle cx="514.18" cy="153.39" r="2.6"/><circle cx="494.67" cy="160.44" r="2.6"/><circle cx="493.16" cy="188.47" r="2.6"/><circle cx="496.33" cy="193.13" r="2.6"/><circle cx="494.98" cy="169.67" r="2.6"/><circle cx="507.4" cy="143.36" r="2.6"/><circle cx="513.46" cy="182.41" r="2.6"/><circle cx="494.07" cy="187" r="2.6"/><circle cx="526.33" cy="149.69" r="2.6"/><circle cx="511.9" cy="151.13" r="2.6"/><circle cx="492.98" cy="137.33" r="2.6"/><circle cx="497.85" cy="131.13" r="2.6"/><circle cx="506.31" cy="185.59" r="2.6"/><circle cx="500.61" cy="163.26" r="2.6"/><circle cx="524.44" cy="189.13" r="2.6"/><circle cx="501.99" cy="165.87" r="2.6"/><circle cx="504.93" cy="148.54" r="2.6"/><circle cx="502.28" cy="165.5" r="2.6"/><circle cx="490.3" cy="169.98" r="2.6"/><circle cx="518.09" cy="131.14" r="2.6"/><circle cx="512.7" cy="155.56" r="2.6"/><circle cx="498.27" cy="159.37" r="2.6"/><circle cx="513.49" cy="153.5" r="2.6"/><circle cx="490.54" cy="150.09" r="2.6"/><circle cx="521.13" cy="171.29" r="2.6"/><circle cx="503.04" cy="163.55" r="2.6"/><circle cx="517.19" cy="152.2" r="2.6"/><circle cx="508.39" cy="148.05" r="2.6"/><circle cx="518.47" cy="153.28" r="2.6"/><circle cx="498.44" cy="161.88" r="2.6"/><circle cx="492.58" cy="144.28" r="2.6"/><circle cx="504.27" cy="152.69" r="2.6"/><circle cx="487.99" cy="162.42" r="2.6"/><circle cx="500.41" cy="151.95" r="2.6"/><circle cx="497.2" cy="178.44" r="2.6"/><circle cx="508.16" cy="158.95" r="2.6"/><circle cx="515.44" cy="156.49" r="2.6"/><circle cx="518.2" cy="162.88" r="2.6"/><circle cx="514" cy="229.8" r="2.6"/><circle cx="516.86" cy="164.64" r="2.6"/><circle cx="493.8" cy="177.02" r="2.6"/><circle cx="500.72" cy="144.55" r="2.6"/><circle cx="511" cy="171.02" r="2.6"/><circle cx="520.89" cy="145.24" r="2.6"/><circle cx="500.51" cy="156.96" r="2.6"/><circle cx="516.12" cy="151.89" r="2.6"/><circle cx="516.02" cy="142.13" r="2.6"/><circle cx="511.08" cy="192.4" r="2.6"/><circle cx="521.66" cy="157.31" r="2.6"/><circle cx="521" cy="128.6" r="2.6"/><circle cx="522.92" cy="181.13" r="2.6"/><circle cx="509.91" cy="193.47" r="2.6"/><circle cx="521.61" cy="151.07" r="2.6"/><circle cx="506.39" cy="152.34" r="2.6"/><circle cx="494.01" cy="157.38" r="2.6"/><circle cx="522.88" cy="176.14" r="2.6"/><circle cx="493.22" cy="164.63" r="2.6"/><circle cx="500.07" cy="168.88" r="2.6"/><circle cx="487.06" cy="161.64" r="2.6"/><circle cx="499.27" cy="168.92" r="2.6"/><circle cx="501.92" cy="154.29" r="2.6"/><circle cx="514.94" cy="146.87" r="2.6"/><circle cx="504.8" cy="148.73" r="2.6"/><circle cx="526.31" cy="141.05" r="2.6"/><circle cx="495.06" cy="176.67" r="2.6"/><circle cx="524.1" cy="149.53" r="2.6"/><circle cx="499.34" cy="168.23" r="2.6"/><circle cx="495.49" cy="145.45" r="2.6"/><circle cx="524.94" cy="161.27" r="2.6"/><circle cx="521.07" cy="173.55" r="2.6"/><circle cx="517.67" cy="148.6" r="2.6"/><circle cx="493.4" cy="164.1" r="2.6"/><circle cx="512.53" cy="155.07" r="2.6"/><circle cx="510.67" cy="143.52" r="2.6"/><circle cx="488.8" cy="155.89" r="2.6"/><circle cx="521.09" cy="155.17" r="2.6"/><circle cx="506.64" cy="183.08" r="2.6"/><circle cx="496.47" cy="167.43" r="2.6"/><circle cx="510.22" cy="176.87" r="2.6"/><circle cx="519.89" cy="164.35" r="2.6"/><circle cx="512.43" cy="164.23" r="2.6"/><circle cx="498.56" cy="186.43" r="2.6"/><circle cx="526.92" cy="173.82" r="2.6"/><circle cx="498.14" cy="179.56" r="2.6"/><circle cx="487.27" cy="160.35" r="2.6"/><circle cx="504.63" cy="156.35" r="2.6"/><circle cx="511.02" cy="150.21" r="2.6"/><circle cx="525.85" cy="161.29" r="2.6"/><circle cx="499.26" cy="165.67" r="2.6"/><circle cx="491.34" cy="150.91" r="2.6"/><circle cx="525.97" cy="158.15" r="2.6"/><circle cx="503.29" cy="159.2" r="2.6"/><circle cx="517.89" cy="165.73" r="2.6"/><circle cx="510.81" cy="144.85" r="2.6"/><circle cx="523.47" cy="134.19" r="2.6"/><circle cx="499.69" cy="180.87" r="2.6"/><circle cx="516" cy="147.41" r="2.6"/><circle cx="509.68" cy="149.31" r="2.6"/><circle cx="511.84" cy="154.84" r="2.6"/><circle cx="508.66" cy="161.24" r="2.6"/><circle cx="510.18" cy="171.55" r="2.6"/><circle cx="515.25" cy="157.76" r="2.6"/><circle cx="486.36" cy="158.54" r="2.6"/><circle cx="517.85" cy="173.28" r="2.6"/><circle cx="491.74" cy="147.5" r="2.6"/><circle cx="488.35" cy="149.5" r="2.6"/><circle cx="522.39" cy="163.84" r="2.6"/><circle cx="512.82" cy="156.28" r="2.6"/><circle cx="500.22" cy="164.4" r="2.6"/><circle cx="500.53" cy="187.47" r="2.6"/><circle cx="499.84" cy="183.02" r="2.6"/><circle cx="497.07" cy="134.8" r="2.6"/><circle cx="527.2" cy="141.94" r="2.6"/><circle cx="489.99" cy="164.77" r="2.6"/><circle cx="509.03" cy="145.3" r="2.6"/><circle cx="522.4" cy="146.21" r="2.6"/><circle cx="517.3" cy="171.29" r="2.6"/><circle cx="494.67" cy="149.79" r="2.6"/><circle cx="507.17" cy="186.52" r="2.6"/><circle cx="526.82" cy="140" r="2.6"/><circle cx="504.49" cy="151.16" r="2.6"/><circle cx="520.17" cy="142.36" r="2.6"/><circle cx="525.71" cy="173.59" r="2.6"/><circle cx="517.29" cy="167.3" r="2.6"/><circle cx="505.87" cy="159.53" r="2.6"/><circle cx="526.87" cy="159.75" r="2.6"/><circle cx="501.7" cy="137.93" r="2.6"/><circle cx="486.93" cy="155.96" r="2.6"/><circle cx="506.89" cy="165.54" r="2.6"/><circle cx="512.11" cy="179.32" r="2.6"/><circle cx="513.91" cy="180.22" r="2.6"/><circle cx="519.91" cy="157.89" r="2.6"/><circle cx="503.82" cy="167.22" r="2.6"/><circle cx="506.2" cy="150.37" r="2.6"/><circle cx="487.9" cy="162.68" r="2.6"/><circle cx="496.43" cy="157.51" r="2.6"/><circle cx="524.49" cy="164.38" r="2.6"/><circle cx="489.08" cy="137.27" r="2.6"/><circle cx="493.43" cy="142.57" r="2.6"/><circle cx="508.45" cy="156.98" r="2.6"/><circle cx="497.3" cy="145.35" r="2.6"/><circle cx="498.66" cy="137.92" r="2.6"/><circle cx="522.49" cy="155.47" r="2.6"/><circle cx="489.25" cy="188.35" r="2.6"/><circle cx="501.69" cy="147.08" r="2.6"/><circle cx="504.27" cy="151.89" r="2.6"/><circle cx="496.3" cy="145.12" r="2.6"/><circle cx="502.91" cy="169.67" r="2.6"/><circle cx="489.02" cy="135.03" r="2.6"/><circle cx="486.65" cy="150.56" r="2.6"/><circle cx="493" cy="216.7" r="2.6"/><circle cx="525.54" cy="161.87" r="2.6"/><circle cx="506.99" cy="165.98" r="2.6"/><circle cx="506.07" cy="169.6" r="2.6"/><circle cx="507" cy="206.5" r="2.6"/><circle cx="526.53" cy="188.2" r="2.6"/><circle cx="496.48" cy="163.74" r="2.6"/><circle cx="497.96" cy="177.4" r="2.6"/><circle cx="512.32" cy="174.92" r="2.6"/><circle cx="519.3" cy="182.32" r="2.6"/><circle cx="495.89" cy="145.49" r="2.6"/><circle cx="521.23" cy="153.22" r="2.6"/><circle cx="502.58" cy="153.57" r="2.6"/><circle cx="501.03" cy="180.97" r="2.6"/><circle cx="495.84" cy="158.31" r="2.6"/><circle cx="516.06" cy="184.65" r="2.6"/><circle cx="507.8" cy="168.92" r="2.6"/><circle cx="507.18" cy="191.91" r="2.6"/><circle cx="512.16" cy="187.45" r="2.6"/><circle cx="506.81" cy="172.95" r="2.6"/><circle cx="516.3" cy="184.27" r="2.6"/><circle cx="491.53" cy="168.62" r="2.6"/><circle cx="525.24" cy="143.2" r="2.6"/><circle cx="527.07" cy="171.09" r="2.6"/></g>
<g clip-path="url(#c1)" fill="#00BFC4" fill-opacity="0.6"><circle cx="580.44" cy="219.67" r="2.6"/><circle cx="563.33" cy="169.46" r="2.6"/><circle cx="561.18" cy="164.19" r="2.6"/><circle cx="572.35" cy="168.84" r="2.6"/><circle cx="586.93" cy="208.68" r="2.6"/><circle cx="560.15" cy="249.1" r="2.6"/><circle cx="574.82" cy="218.64" r="2.6"/><circle cx="575.65" cy="165.14" r="2.6"/><circle cx="581.16" cy="168.78" r="2.6"/><circle cx="583.82" cy="206.57" r="2.6"/><circle cx="574.62" cy="188.07" r="2.6"/><circle cx="590" cy="276.87" r="2.6"/><circle cx="587.72" cy="196.53" r="2.6"/><circle cx="564.49" cy="167.14" r="2.6"/><circle cx="556.37" cy="183.87" r="2.6"/><circle cx="581.18" cy="199.79" r="2.6"/><circle cx="577.27" cy="212.41" r="2.6"/><circle cx="578.89" cy="249.57" r="2.6"/><circle cx="593.54" cy="202.07" r="2.6"/><circle cx="587.27" cy="227.95" r="2.6"/><circle cx="577.82" cy="170.06" r="2.6"/><circle cx="582.39" cy="163.75" r="2.6"/><circle cx="560.96" cy="186.46" r="2.6"/><circle cx="592.77" cy="220.67" r="2.6"/><circle cx="581.57" cy="194.69" r="2.6"/><circle cx="583.68" cy="246.82" r="2.6"/><circle cx="561.48" cy="200.25" r="2.6"/><circle cx="569.9" cy="207.69" r="2.6"/><circle cx="592.71" cy="203.56" r="2.6"/><circle cx="578.36" cy="204.51" r="2.6"/><circle cx="560" cy="277.22" r="2.6"/><circle cx="592.86" cy="200.49" r="2.6"/><circle cx="572.76" cy="211.1" r="2.6"/><circle cx="594" cy="150" r="2.6"/><circle cx="568.04" cy="170.34" r="2.6"/><circle cx="584.08" cy="188.17" r="2.6"/><circle cx="572.14" cy="157.61" r="2.6"/><circle cx="591.16" cy="230.52" r="2.6"/><circle cx="579.18" cy="183.56" r="2.6"/><circle cx="572.48" cy="195.04" r="2.6"/><circle cx="555.87" cy="237.07" r="2.6"/><circle cx="581.08" cy="212" r="2.6"/><circle cx="588.22" cy="169.3" r="2.6"/><circle cx="563.76" cy="210.85" r="2.6"/><circle cx="590.22" cy="225.16" r="2.6"/><circle cx="558.29" cy="205.26" r="2.6"/><circle cx="589.22" cy="229.97" r="2.6"/><circle cx="588.93" cy="233.27" r="2.6"/><circle cx="587.68" cy="205.66" r="2.6"/><circle cx="590.36" cy="217.46" r="2.6"/><circle cx="579.7" cy="263.63" r="2.6"/><circle cx="594.77" cy="180.49" r="2.6"/><circle cx="564.15" cy="239.77" r="2.6"/><circle cx="590.48" cy="192.66" r="2.6"/><circle cx="589.95" cy="227.19" r="2.6"/><circle cx="589.99" cy="167.53" r="2.6"/><circle cx="562.64" cy="199.47" r="2.6"/><circle cx="575.49" cy="157.47" r="2.6"/><circle cx="568.65" cy="213.38" r="2.6"/><circle cx="570.72" cy="201.55" r="2.6"/><circle cx="571.08" cy="194.16" r="2.6"/><circle cx="595.73" cy="205.86" r="2.6"/><circle cx="576.14" cy="211.49" r="2.6"/><circle cx="558.25" cy="255.73" r="2.6"/><circle cx="564.75" cy="192.88" r="2.6"/><circle cx="590.82" cy="177.96" r="2.6"/><circle cx="572.79" cy="160.33" r="2.6"/><circle cx="585.97" cy="168.09" r="2.6"/><circle cx="576.78" cy="234.07" r="2.6"/><circle cx="555.61" cy="222.2" r="2.6"/><circle cx="567" cy="232.67" r="2.6"/><circle cx="579.05" cy="168.41" r="2.6"/><circle cx="563.03" cy="200.74" r="2.6"/><circle cx="564.15" cy="194.59" r="2.6"/><circle cx="559.93" cy="169.68" r="2.6"/><circle cx="564.79" cy="249.6" r="2.6"/><circle cx="556.63" cy="181.93" r="2.6"/><circle cx="588.89" cy="187.32" r="2.6"/><circle cx="570.76" cy="168.3" r="2.6"/><circle cx="561.66" cy="197.13" r="2.6"/><circle cx="564.48" cy="190.73" r="2.6"/><circle cx="562.49" cy="252.15" r="2.6"/><circle cx="563.1" cy="199.32" r="2.6"/><circle cx="555.89" cy="194.6" r="2.6"/><circle cx="581.05" cy="199.81" r="2.6"/><circle cx="590.73" cy="198.49" r="2.6"/><circle cx="573.22" cy="160.36" r="2.6"/><circle cx="567.28" cy="217.68" r="2.6"/><circle cx="554.95" cy="194.15" r="2.6"/><circle cx="563.12" cy="189.05" r="2.6"/><circle cx="584.34" cy="189.28" r="2.6"/><circle cx="583.26" cy="163.54" r="2.6"/><circle cx="565.69" cy="166.09" r="2.6"/><circle cx="572.85" cy="184.97" r="2.6"/><circle cx="578.14" cy="175.8" r="2.6"/><circle cx="584.76" cy="242.69" r="2.6"/><circle cx="568.12" cy="221.06" r="2.6"/><circle cx="578.02" cy="207.18" r="2.6"/><circle cx="584.35" cy="199.28" r="2.6"/><circle cx="559.93" cy="175.45" r="2.6"/><circle cx="573.44" cy="231.56" r="2.6"/><circle cx="564.91" cy="193.94" r="2.6"/><circle cx="586.74" cy="202.49" r="2.6"/><circle cx="564" cy="277.28" r="2.6"/><circle cx="555.89" cy="190.93" r="2.6"/><circle cx="556.13" cy="194.57" r="2.6"/><circle cx="560.97" cy="201.58" r="2.6"/><circle cx="569.61" cy="195.26" r="2.6"/><circle cx="571.46" cy="164.49" r="2.6"/><circle cx="559.47" cy="229.12" r="2.6"/><circle cx="563.1" cy="213.25" r="2.6"/><circle cx="561.18" cy="171.47" r="2.6"/><circle cx="569.03" cy="195.94" r="2.6"/><circle cx="566.1" cy="212.08" r="2.6"/><circle cx="580.14" cy="206.78" r="2.6"/><circle cx="594.55" cy="230.69" r="2.6"/><circle cx="575.41" cy="242.08" r="2.6"/><circle cx="589.07" cy="201.51" r="2.6"/><circle cx="575.51" cy="236.58" r="2.6"/><circle cx="576.47" cy="159.36" r="2.6"/><circle cx="562.77" cy="239.23" r="2.6"/><circle cx="557.49" cy="234.56" r="2.6"/><circle cx="573.6" cy="191.83" r="2.6"/><circle cx="571" cy="276.94" r="2.6"/><circle cx="586.7" cy="167.25" r="2.6"/><circle cx="557.77" cy="173.06" r="2.6"/><circle cx="565.08" cy="226.76" r="2.6"/><circle cx="579.25" cy="172.11" r="2.6"/><circle cx="585.61" cy="196.63" r="2.6"/><circle cx="577.82" cy="230.63" r="2.6"/><circle cx="578.35" cy="194.03" r="2.6"/><circle cx="570.3" cy="249.78" r="2.6"/><circle cx="582.84" cy="229.37" r="2.6"/><circle cx="595.43" cy="239.35" r="2.6"/><circle cx="558.23" cy="233.89" r="2.6"/><circle cx="565.42" cy="172.59" r="2.6"/><circle cx="584.84" cy="220.65" r="2.6"/><circle cx="578.34" cy="165.19" r="2.6"/><circle cx="586.96" cy="249.25" r="2.6"/><circle cx="586.05" cy="184.89" r="2.6"/><circle cx="572.53" cy="188.69" r="2.6"/><circle cx="578.81" cy="189.77" r="2.6"/><circle cx="593.64" cy="167.11" r="2.6"/><circle cx="561.81" cy="206.07" r="2.6"/><circle cx="588.98" cy="237.75" r="2.6"/><circle cx="577.41" cy="212.5" r="2.6"/><circle cx="592.99" cy="185.54" r="2.6"/><circle cx="592.28" cy="158.26" r="2.6"/><circle cx="573.32" cy="207.84" r="2.6"/><circle cx="594.63" cy="189.67" r="2.6"/><circle cx="580.43" cy="225.6" r="2.6"/><circle cx="575.37" cy="184.08" r="2.6"/><circle cx="576.32" cy="220.28" r="2.6"/><circle cx="595.29" cy="246.11" r="2.6"/><circle cx="593.21" cy="187.21" r="2.6"/><circle cx="585.88" cy="208.15" r="2.6"/><circle cx="585.6" cy="212.96" r="2.6"/><circle cx="586.04" cy="195" r="2.6"/><circle cx="565.96" cy="190.25" r="2.6"/><circle cx="566.38" cy="193.76" r="2.6"/><circle cx="560.41" cy="191.45" r="2.6"/><circle cx="561.2" cy="245.86" r="2.6"/><circle cx="561.26" cy="202.57" r="2.6"/><circle cx="595.71" cy="167.15" r="2.6"/><circle cx="567.21" cy="256.64" r="2.6"/><circle cx="585.1" cy="208.12" r="2.6"/><circle cx="578.82" cy="231.54" r="2.6"/><circle cx="569.17" cy="206.22" r="2.6"/><circle cx="568.45" cy="170.07" r="2.6"/><circle cx="558.05" cy="206.38" r="2.6"/><circle cx="578.41" cy="211.97" r="2.6"/><circle cx="594.93" cy="213.71" r="2.6"/><circle cx="584.84" cy="239.4" r="2.6"/><circle cx="558.51" cy="165.41" r="2.6"/><circle cx="566.67" cy="187.89" r="2.6"/><circle cx="583.83" cy="215.61" r="2.6"/><circle cx="580.49" cy="184.21" r="2.6"/><circle cx="567.66" cy="218.59" r="2.6"/><circle cx="577.94" cy="240.4" r="2.6"/><circle cx="580.2" cy="256.38" r="2.6"/><circle cx="575.2" cy="155.26" r="2.6"/><circle cx="566.7" cy="261.71" r="2.6"/><circle cx="573.74" cy="197.18" r="2.6"/><circle cx="571.22" cy="200.62" r="2.6"/><circle cx="586.49" cy="228.2" r="2.6"/><circle cx="584.03" cy="174.28" r="2.6"/><circle cx="593.41" cy="172.19" r="2.6"/><circle cx="592.81" cy="233.86" r="2.6"/><circle cx="559.26" cy="155.51" r="2.6"/><circle cx="586.54" cy="183.49" r="2.6"/><circle cx="559.1" cy="238.04" r="2.6"/><circle cx="591.46" cy="213.82" r="2.6"/><circle cx="568" cy="277.17" r="2.6"/><circle cx="578.36" cy="195.79" r="2.6"/><circle cx="593.98" cy="180.91" r="2.6"/><circle cx="584.87" cy="181.39" r="2.6"/><circle cx="578.69" cy="262.81" r="2.6"/><circle cx="590.2" cy="203.99" r="2.6"/><circle cx="590.25" cy="201.92" r="2.6"/><circle cx="558.74" cy="167.43" r="2.6"/><circle cx="566.25" cy="203.84" r="2.6"/><circle cx="564.11" cy="261.9" r="2.6"/><circle cx="558.65" cy="189.78" r="2.6"/><circle cx="591.76" cy="185.37" r="2.6"/><circle cx="579.87" cy="203.49" r="2.6"/></g>
<g clip-path="url(#c1)" fill="#00BFC4" fill-opacity="0.6"><circle cx="638.34" cy="185.07" r="2.6"/><circle cx="641.76" cy="162.79" r="2.6"/><circle cx="645.62" cy="168.85" r="2.6"/><circle cx="634.77" cy="250.7" r="2.6"/><circle cx="635.5" cy="204.82" r="2.6"/><circle cx="631.02" cy="218.39" r="2.6"/><circle cx="647.25" cy="215.88" r="2.6"/><circle cx="648.93" cy="162.95" r="2.6"/><circle cx="659.95" cy="182.29" r="2.6"/><circle cx="658.45" cy="202.24" r="2.6"/><circle cx="636.48" cy="175.24" r="2.6"/><circle cx="659.2" cy="203.9" r="2.6"/><circle cx="634.51" cy="208.75" r="2.6"/><circle cx="658.05" cy="160.22" r="2.6"/><circle cx="627.64" cy="204.48" r="2.6"/><circle cx="660.79" cy="199.54" r="2.6"/><circle cx="662.68" cy="178.49" r="2.6"/><circle cx="655.65" cy="206.33" r="2.6"/><circle cx="641.01" cy="250.7" r="2.6"/><circle cx="663.26" cy="231.4" r="2.6"/><circle cx="660.63" cy="222.16" r="2.6"/><circle cx="635.38" cy="195.18" r="2.6"/><circle cx="653.77" cy="214.72" r="2.6"/><circle cx="645.59" cy="165.6" r="2.6"/><circle cx="646.92" cy="208.42" r="2.6"/><circle cx="650.58" cy="201.32" r="2.6"/><circle cx="660.28" cy="167.38" r="2.6"/><circle cx="647.03" cy="180.35" r="2.6"/><circle cx="652.1" cy="214.39" r="2.6"/><circle cx="653.72" cy="167.82" r="2.6"/><circle cx="635.05" cy="183.87" r="2.6"/><circle cx="641.62" cy="199.17" r="2.6"/><circle cx="660.34" cy="198.62" r="2.6"/><circle cx="631.16" cy="184.21" r="2.6"/><circle cx="660.5" cy="250.7" r="2.6"/><circle cx="656.1" cy="190.03" r="2.6"/><circle cx="656.6" cy="202.19" r="2.6"/><circle cx="636.33" cy="203.7" r="2.6"/><circle cx="650.05" cy="202.94" r="2.6"/><circle cx="645.21" cy="215.22" r="2.6"/><circle cx="649.38" cy="195.42" r="2.6"/><circle cx="646.19" cy="201.03" r="2.6"/><circle cx="636.1" cy="205.78" r="2.6"/><circle cx="628.3" cy="203.73" r="2.6"/><circle cx="647.72" cy="202.11" r="2.6"/><circle cx="657.19" cy="175.51" r="2.6"/><circle cx="658.1" cy="220.75" r="2.6"/><circle cx="635.66" cy="211.77" r="2.6"/><circle cx="624.22" cy="164.51" r="2.6"/><circle cx="643.37" cy="177.65" r="2.6"/><circle cx="643.45" cy="174.07" r="2.6"/><circle cx="645.21" cy="164.25" r="2.6"/><circle cx="626.22" cy="169.26" r="2.6"/><circle cx="632.73" cy="224.37" r="2.6"/><circle cx="624.41" cy="194.51" r="2.6"/><circle cx="632.4" cy="165.15" r="2.6"/><circle cx="662.03" cy="183.86" r="2.6"/><circle cx="645.67" cy="182.67" r="2.6"/><circle cx="628.72" cy="166.01" r="2.6"/><circle cx="650.76" cy="210.81" r="2.6"/><circle cx="636.89" cy="212.32" r="2.6"/><circle cx="643.46" cy="212.7" r="2.6"/><circle cx="642.5" cy="170.4" r="2.6"/><circle cx="632.32" cy="170.49" r="2.6"/><circle cx="658.96" cy="209.54" r="2.6"/><circle cx="648.03" cy="219.15" r="2.6"/><circle cx="630.63" cy="250.7" r="2.6"/><circle cx="623.53" cy="158.38" r="2.6"/><circle cx="630.25" cy="250.7" r="2.6"/><circle cx="664" cy="250.7" r="2.6"/><circle cx="651.95" cy="169.24" r="2.6"/><circle cx="634.23" cy="163.88" r="2.6"/><circle cx="661.63" cy="169.96" r="2.6"/><circle cx="653.04" cy="169.89" r="2.6"/><circle cx="635.34" cy="195.61" r="2.6"/><circle cx="660.54" cy="235.64" r="2.6"/><circle cx="628.89" cy="250.7" r="2.6"/><circle cx="632.51" cy="239.83" r="2.6"/><circle cx="640.31" cy="217.47" r="2.6"/><circle cx="635.87" cy="210.81" r="2.6"/><circle cx="650.31" cy="239.66" r="2.6"/><circle cx="632.23" cy="220.38" r="2.6"/><circle cx="625.17" cy="194.94" r="2.6"/><circle cx="655.27" cy="169.98" r="2.6"/><circle cx="664.32" cy="198.33" r="2.6"/><circle cx="659.44" cy="218.38" r="2.6"/><circle cx="657.09" cy="201.72" r="2.6"/><circle cx="628.53" cy="189.58" r="2.6"/><circle cx="624.69" cy="217.41" r="2.6"/><circle cx="661.14" cy="206.16" r="2.6"/><circle cx="636.82" cy="203" r="2.6"/><circle cx="623.8" cy="158.34" r="2.6"/><circle cx="634.82" cy="207.67" r="2.6"/><circle cx="638.28" cy="235.72" r="2.6"/><circle cx="636.66" cy="250.7" r="2.6"/><circle cx="637.32" cy="197.61" r="2.6"/><circle cx="630.06" cy="197.5" r="2.6"/><circle cx="624.77" cy="170.27" r="2.6"/><circle cx="655.31" cy="192.45" r="2.6"/><circle cx="651.27" cy="187.46" r="2.6"/><circle cx="654.29" cy="174" r="2.6"/><circle cx="638.58" cy="201.89" r="2.6"/><circle cx="639.65" cy="221" r="2.6"/><circle cx="631.71" cy="231.34" r="2.6"/><circle cx="646.33" cy="250.7" r="2.6"/><circle cx="634.71" cy="175.41" r="2.6"/><circle cx="646.04" cy="250.7" r="2.6"/><circle cx="631.1" cy="233.04" r="2.6"/><circle cx="655.95" cy="171.7" r="2.6"/><circle cx="650.63" cy="162.88" r="2.6"/><circle cx="625.67" cy="229.11" r="2.6"/><circle cx="651.19" cy="235.44" r="2.6"/><circle cx="631.75" cy="209.64" r="2.6"/><circle cx="650.96" cy="221.38" r="2.6"/><circle cx="625.52" cy="228" r="2.6"/><circle cx="656.73" cy="189.81" r="2.6"/><circle cx="654.4" cy="167.09" r="2.6"/><circle cx="636.46" cy="165.11" r="2.6"/><circle cx="659.66" cy="201.14" r="2.6"/><circle cx="624.68" cy="218.26" r="2.6"/><circle cx="634.78" cy="156.76" r="2.6"/><circle cx="636.98" cy="198.76" r="2.6"/><circle cx="656.44" cy="235.34" r="2.6"/><circle cx="628.08" cy="209.06" r="2.6"/><circle cx="641.35" cy="250.7" r="2.6"/><circle cx="627.84" cy="186.43" r="2.6"/><circle cx="643.65" cy="212.32" r="2.6"/><circle cx="646.29" cy="172.33" r="2.6"/><circle cx="640.74" cy="189.73" r="2.6"/><circle cx="661.2" cy="216.32" r="2.6"/><circle cx="641.47" cy="184.88" r="2.6"/><circle cx="662.11" cy="180.59" r="2.6"/><circle cx="637.26" cy="229.34" r="2.6"/><circle cx="648.09" cy="250.7" r="2.6"/><circle cx="629.45" cy="213.22" r="2.6"/><circle cx="628.63" cy="186.39" r="2.6"/><circle cx="640.19" cy="200.41" r="2.6"/><circle cx="640.92" cy="196.69" r="2.6"/><circle cx="639.43" cy="167.23" r="2.6"/><circle cx="652.14" cy="206.59" r="2.6"/><circle cx="634.03" cy="177.53" r="2.6"/><circle cx="626.12" cy="169.94" r="2.6"/><circle cx="640.25" cy="210.54" r="2.6"/><circle cx="649.23" cy="197.18" r="2.6"/><circle cx="654.19" cy="198.45" r="2.6"/><circle cx="661.41" cy="216.24" r="2.6"/><circle cx="653.22" cy="202.62" r="2.6"/><circle cx="632.19" cy="180.45" r="2.6"/><circle cx="661.81" cy="205.93" r="2.6"/><circle cx="626.28" cy="200.6" r="2.6"/><circle cx="632.42" cy="250.7" r="2.6"/><circle cx="637.87" cy="250.7" r="2.6"/><circle cx="649.43" cy="236.79" r="2.6"/><circle cx="649.52" cy="175.57" r="2.6"/><circle cx="637.84" cy="172.58" r="2.6"/><circle cx="638.43" cy="192.8" r="2.6"/><circle cx="627.71" cy="173.85" r="2.6"/><circle cx="650.13" cy="210.26" r="2.6"/><circle cx="626.51" cy="175.23" r="2.6"/><circle cx="630.27" cy="235.33" r="2.6"/><circle cx="651.84" cy="184.15" r="2.6"/><circle cx="657.61" cy="191.86" r="2.6"/><circle cx="639.74" cy="198.85" r="2.6"/><circle cx="633.58" cy="170.22" r="2.6"/><circle cx="628.89" cy="162.51" r="2.6"/><circle cx="642.31" cy="200.04" r="2.6"/><circle cx="627.13" cy="250.7" r="2.6"/><circle cx="626.33" cy="214.79" r="2.6"/><circle cx="632.98" cy="188.62" r="2.6"/><circle cx="655.96" cy="197.3" r="2.6"/><circle cx="643.9" cy="162.84" r="2.6"/><circle cx="638.9" cy="250.7" r="2.6"/><circle cx="642.87" cy="173.44" r="2.6"/><circle cx="663.06" cy="223.48" r="2.6"/><circle cx="663.5" cy="221.47" r="2.6"/><circle cx="663.91" cy="221.82" r="2.6"/><circle cx="637.42" cy="175.81" r="2.6"/><circle cx="624.09" cy="219.37" r="2.6"/><circle cx="627.74" cy="172.79" r="2.6"/><circle cx="633.69" cy="200.8" r="2.6"/><circle cx="652.97" cy="218.18" r="2.6"/><circle cx="626.82" cy="183.99" r="2.6"/><circle cx="647.19" cy="250.7" r="2.6"/><circle cx="659.63" cy="214.43" r="2.6"/><circle cx="641.51" cy="215.93" r="2.6"/><circle cx="632.49" cy="219.94" r="2.6"/><circle cx="637.72" cy="250.7" r="2.6"/><circle cx="662.58" cy="209.24" r="2.6"/><circle cx="652.55" cy="202.22" r="2.6"/><circle cx="657.45" cy="188.09" r="2.6"/><circle cx="624.2" cy="190.57" r="2.6"/><circle cx="625.26" cy="196.96" r="2.6"/><circle cx="641.39" cy="250.7" r="2.6"/><circle cx="658.83" cy="179.62" r="2.6"/><circle cx="629.37" cy="224.8" r="2.6"/><circle cx="639.71" cy="250.7" r="2.6"/><circle cx="655.8" cy="162.31" r="2.6"/><circle cx="657.11" cy="208.41" r="2.6"/><circle cx="632.36" cy="160.66" r="2.6"/><circle cx="625.98" cy="172.47" r="2.6"/><circle cx="646.73" cy="225.36" r="2.6"/><circle cx="649.48" cy="210.88" r="2.6"/><circle cx="629.82" cy="192.74" r="2.6"/><circle cx="632.67" cy="170.36" r="2.6"/><circle cx="641.39" cy="217.46" r="2.6"/><circle cx="646.22" cy="172.79" r="2.6"/></g>
<line x1="417.83" x2="458.83" y1="200.2" y2="200.2" stroke="#000" stroke-width="1.4"/>
<text x="438.33" y="195.4" text-anchor="middle" font-size="12.6" fill="#000">12.1</text>
<line x1="486.34" x2="527.3399999999999" y1="159.7" y2="159.7" stroke="#000" stroke-width="1.4"/>
<text x="506.84" y="154.9" text-anchor="middle" font-size="12.6" fill="#000">124.7</text>
<line x1="554.86" x2="595.86" y1="201.3" y2="201.3" stroke="#000" stroke-width="1.4"/>
<text x="575.36" y="196.5" text-anchor="middle" font-size="12.6" fill="#000">11.4</text>
<line x1="623.37" x2="664.37" y1="200.3" y2="200.3" stroke="#000" stroke-width="1.4"/>
<text x="643.87" y="195.5" text-anchor="middle" font-size="12.6" fill="#000">12.2</text>
<path d="M438.33 91.3V87.0H506.84V91.3" fill="none" stroke="#000" stroke-width="1.4" stroke-linecap="round" stroke-linejoin="round"/>
<text x="472.585" y="84.1" text-anchor="middle" font-size="12.6" fill="#000"><tspan font-style="italic">P</tspan><tspan dx="6.2">< 0.0001</tspan></text>
<path d="M506.84 107.89999999999999V103.6H643.87V107.89999999999999" fill="none" stroke="#000" stroke-width="1.4" stroke-linecap="round" stroke-linejoin="round"/>
<text x="575.355" y="100.7" text-anchor="middle" font-size="12.6" fill="#000"><tspan font-style="italic">P</tspan><tspan dx="6.2">< 0.0001</tspan></text>
<rect x="64.49" y="304.4" width="287.65999999999997" height="21.600000000000023" fill="#D9D9D9" stroke="#333" stroke-width="1.1"/>
<text x="208.32" y="319.29999999999995" text-anchor="middle" font-size="11.2" font-weight="bold" fill="#1a1a1a">DT</text>
<line x1="64.49" x2="352.15" y1="524.18" y2="524.18" stroke="#EBEBEB" stroke-width="0.55"/><line x1="64.49" x2="352.15" y1="509.07" y2="509.07" stroke="#EBEBEB" stroke-width="0.55"/><line x1="64.49" x2="352.15" y1="478.84" y2="478.84" stroke="#EBEBEB" stroke-width="0.55"/><line x1="64.49" x2="352.15" y1="448.61" y2="448.61" stroke="#EBEBEB" stroke-width="0.55"/><line x1="64.49" x2="352.15" y1="418.38" y2="418.38" stroke="#EBEBEB" stroke-width="0.55"/><line x1="64.49" x2="352.15" y1="388.15" y2="388.15" stroke="#EBEBEB" stroke-width="0.55"/><line x1="64.49" x2="352.15" y1="357.92" y2="357.92" stroke="#EBEBEB" stroke-width="0.55"/><line x1="64.49" x2="352.15" y1="342.8" y2="342.8" stroke="#EBEBEB" stroke-width="0.55"/><line x1="64.49" x2="352.15" y1="327.69" y2="327.69" stroke="#EBEBEB" stroke-width="0.55"/><line x1="64.49" x2="352.15" y1="493.95" y2="493.95" stroke="#EBEBEB" stroke-width="1.1"/><line x1="64.49" x2="352.15" y1="463.72" y2="463.72" stroke="#EBEBEB" stroke-width="1.1"/><line x1="64.49" x2="352.15" y1="433.49" y2="433.49" stroke="#EBEBEB" stroke-width="1.1"/><line x1="64.49" x2="352.15" y1="403.26" y2="403.26" stroke="#EBEBEB" stroke-width="1.1"/><line x1="64.49" x2="352.15" y1="373.03" y2="373.03" stroke="#EBEBEB" stroke-width="1.1"/><line x1="105.58" x2="105.58" y1="326.0" y2="535.9" stroke="#EBEBEB" stroke-width="1.1"/><line x1="174.07" x2="174.07" y1="326.0" y2="535.9" stroke="#EBEBEB" stroke-width="1.1"/><line x1="242.56" x2="242.56" y1="326.0" y2="535.9" stroke="#EBEBEB" stroke-width="1.1"/><line x1="311.05" x2="311.05" y1="326.0" y2="535.9" stroke="#EBEBEB" stroke-width="1.1"/>
<line x1="60.88999999999999" x2="64.49" y1="493.95" y2="493.95" stroke="#333" stroke-width="1.07"/>
<text x="58.28999999999999" y="498.95" text-anchor="end" font-size="14" fill="#000">0.1</text>
<line x1="60.88999999999999" x2="64.49" y1="463.72" y2="463.72" stroke="#333" stroke-width="1.07"/>
<text x="58.28999999999999" y="468.72" text-anchor="end" font-size="14" fill="#000">1</text>
<line x1="60.88999999999999" x2="64.49" y1="433.49" y2="433.49" stroke="#333" stroke-width="1.07"/>
<text x="58.28999999999999" y="438.49" text-anchor="end" font-size="14" fill="#000">10</text>
<line x1="60.88999999999999" x2="64.49" y1="403.26" y2="403.26" stroke="#333" stroke-width="1.07"/>
<text x="58.28999999999999" y="408.26" text-anchor="end" font-size="14" fill="#000">100</text>
<line x1="60.88999999999999" x2="64.49" y1="373.03" y2="373.03" stroke="#333" stroke-width="1.07"/>
<text x="58.28999999999999" y="378.03" text-anchor="end" font-size="14" fill="#000">1000</text>
<line x1="105.58" x2="105.58" y1="535.9" y2="539.4" stroke="#333" stroke-width="1.07"/>
<text x="105.58" y="553" text-anchor="middle" font-size="14" fill="#000">Before</text>
<line x1="174.07" x2="174.07" y1="535.9" y2="539.4" stroke="#333" stroke-width="1.07"/>
<text x="174.07" y="553" text-anchor="middle" font-size="14" fill="#000">After</text>
<line x1="242.56" x2="242.56" y1="535.9" y2="539.4" stroke="#333" stroke-width="1.07"/>
<text x="242.56" y="553" text-anchor="middle" font-size="14" fill="#000">Before</text>
<line x1="311.05" x2="311.05" y1="535.9" y2="539.4" stroke="#333" stroke-width="1.07"/>
<text x="311.05" y="553" text-anchor="middle" font-size="14" fill="#000">After</text>
<g clip-path="url(#c2)" fill="#F8766D" fill-opacity="0.6"><circle cx="98.37" cy="477.15" r="2.6"/><circle cx="116.03" cy="485.9" r="2.6"/><circle cx="111.98" cy="485.32" r="2.6"/><circle cx="110.37" cy="501.98" r="2.6"/><circle cx="101.29" cy="480.51" r="2.6"/><circle cx="99.06" cy="470.81" r="2.6"/><circle cx="93.05" cy="490.63" r="2.6"/><circle cx="91.03" cy="506.64" r="2.6"/><circle cx="99.68" cy="476.47" r="2.6"/><circle cx="90.87" cy="488.23" r="2.6"/><circle cx="103.75" cy="502.49" r="2.6"/><circle cx="118.85" cy="469" r="2.6"/><circle cx="123.33" cy="514.27" r="2.6"/><circle cx="122.75" cy="489.25" r="2.6"/><circle cx="107.35" cy="515.56" r="2.6"/><circle cx="102.13" cy="496.24" r="2.6"/><circle cx="110.61" cy="510.99" r="2.6"/><circle cx="120.44" cy="508.52" r="2.6"/><circle cx="123.9" cy="507.19" r="2.6"/><circle cx="118" cy="486.07" r="2.6"/><circle cx="107.77" cy="510.31" r="2.6"/><circle cx="101.77" cy="510.08" r="2.6"/><circle cx="114.13" cy="512.38" r="2.6"/><circle cx="100.94" cy="476.1" r="2.6"/><circle cx="86.17" cy="488" r="2.6"/><circle cx="124.87" cy="480.24" r="2.6"/><circle cx="125.37" cy="517.23" r="2.6"/><circle cx="86.8" cy="477.61" r="2.6"/><circle cx="113.12" cy="508.73" r="2.6"/><circle cx="120.38" cy="483.65" r="2.6"/><circle cx="91.41" cy="501.43" r="2.6"/><circle cx="122.98" cy="488.07" r="2.6"/><circle cx="102.97" cy="478.11" r="2.6"/><circle cx="117.31" cy="486.61" r="2.6"/><circle cx="104.7" cy="487.22" r="2.6"/><circle cx="120.53" cy="518.62" r="2.6"/><circle cx="106.03" cy="478.06" r="2.6"/><circle cx="103.22" cy="490.68" r="2.6"/><circle cx="114.24" cy="480.17" r="2.6"/><circle cx="94.77" cy="504.72" r="2.6"/><circle cx="90.63" cy="474.04" r="2.6"/><circle cx="103.12" cy="500.46" r="2.6"/><circle cx="120.96" cy="495.24" r="2.6"/><circle cx="86.44" cy="507.11" r="2.6"/><circle cx="90.81" cy="523.56" r="2.6"/><circle cx="105.49" cy="516.5" r="2.6"/><circle cx="110.66" cy="492.22" r="2.6"/><circle cx="93" cy="535.55" r="2.6"/><circle cx="109.47" cy="511.47" r="2.6"/><circle cx="109.33" cy="491.01" r="2.6"/><circle cx="89.73" cy="491.76" r="2.6"/><circle cx="93.7" cy="473.26" r="2.6"/><circle cx="113.65" cy="489.2" r="2.6"/><circle cx="109.42" cy="522.11" r="2.6"/><circle cx="125.69" cy="509.78" r="2.6"/><circle cx="85.09" cy="499.43" r="2.6"/><circle cx="110.64" cy="524.46" r="2.6"/><circle cx="123" cy="535.61" r="2.6"/><circle cx="122.07" cy="512.79" r="2.6"/><circle cx="86.14" cy="518.56" r="2.6"/><circle cx="100.53" cy="497.48" r="2.6"/><circle cx="102.76" cy="490.99" r="2.6"/><circle cx="105.5" cy="518.96" r="2.6"/><circle cx="86.89" cy="480.45" r="2.6"/><circle cx="108.03" cy="479.1" r="2.6"/><circle cx="112.02" cy="493.63" r="2.6"/><circle cx="96.22" cy="506.81" r="2.6"/><circle cx="94.91" cy="496.47" r="2.6"/><circle cx="100.66" cy="484.51" r="2.6"/><circle cx="85.56" cy="503.46" r="2.6"/><circle cx="108.04" cy="488.68" r="2.6"/><circle cx="110.95" cy="476.67" r="2.6"/><circle cx="89.63" cy="482.07" r="2.6"/><circle cx="124.46" cy="476.82" r="2.6"/><circle cx="119.76" cy="485.9" r="2.6"/><circle cx="100" cy="506.07" r="2.6"/><circle cx="105.53" cy="501.47" r="2.6"/><circle cx="108.58" cy="500.63" r="2.6"/><circle cx="120.3" cy="489.94" r="2.6"/><circle cx="90.07" cy="480.2" r="2.6"/><circle cx="94.15" cy="502.23" r="2.6"/><circle cx="89.6" cy="517.24" r="2.6"/><circle cx="112.79" cy="483.58" r="2.6"/><circle cx="103.81" cy="506.67" r="2.6"/><circle cx="121.83" cy="492.86" r="2.6"/><circle cx="91.67" cy="501.42" r="2.6"/><circle cx="118.78" cy="515.49" r="2.6"/><circle cx="98.01" cy="518.69" r="2.6"/><circle cx="99.24" cy="474.71" r="2.6"/><circle cx="122.91" cy="522.54" r="2.6"/><circle cx="91.87" cy="481.09" r="2.6"/><circle cx="96.74" cy="523.61" r="2.6"/><circle cx="101.93" cy="498.18" r="2.6"/><circle cx="124.09" cy="502.96" r="2.6"/><circle cx="117.92" cy="502.56" r="2.6"/><circle cx="106.9" cy="490.72" r="2.6"/><circle cx="98.86" cy="484.99" r="2.6"/><circle cx="125.34" cy="516.78" r="2.6"/><circle cx="100.48" cy="491.07" r="2.6"/><circle cx="116.88" cy="500.26" r="2.6"/><circle cx="122.12" cy="506.51" r="2.6"/><circle cx="104.22" cy="499.34" r="2.6"/><circle cx="121.83" cy="503.34" r="2.6"/><circle cx="125.15" cy="493.19" r="2.6"/><circle cx="86.05" cy="483.24" r="2.6"/><circle cx="108.7" cy="478.3" r="2.6"/><circle cx="107.89" cy="498.74" r="2.6"/><circle cx="123.88" cy="501.49" r="2.6"/><circle cx="104.7" cy="500.67" r="2.6"/><circle cx="94.32" cy="497.38" r="2.6"/><circle cx="125.77" cy="506.73" r="2.6"/><circle cx="89.47" cy="471.58" r="2.6"/><circle cx="103.86" cy="508.28" r="2.6"/><circle cx="95.72" cy="476.44" r="2.6"/><circle cx="119.41" cy="503.6" r="2.6"/><circle cx="124.1" cy="513.72" r="2.6"/><circle cx="95.44" cy="510.39" r="2.6"/><circle cx="113" cy="535.43" r="2.6"/><circle cx="110.06" cy="496.29" r="2.6"/><circle cx="87" cy="502.83" r="2.6"/><circle cx="113.98" cy="488.45" r="2.6"/><circle cx="111.32" cy="504.69" r="2.6"/><circle cx="94.6" cy="477.13" r="2.6"/><circle cx="113.92" cy="513.68" r="2.6"/><circle cx="112.6" cy="501.5" r="2.6"/><circle cx="118.94" cy="506.35" r="2.6"/><circle cx="101.58" cy="518.09" r="2.6"/><circle cx="95.13" cy="496.26" r="2.6"/><circle cx="116.89" cy="490.75" r="2.6"/><circle cx="94.53" cy="500.31" r="2.6"/><circle cx="111.83" cy="497.72" r="2.6"/><circle cx="90.36" cy="503.44" r="2.6"/><circle cx="97.22" cy="477.71" r="2.6"/><circle cx="102.59" cy="511.05" r="2.6"/><circle cx="96.92" cy="516.55" r="2.6"/><circle cx="85.39" cy="497.56" r="2.6"/><circle cx="92.76" cy="511.19" r="2.6"/><circle cx="95" cy="501.97" r="2.6"/><circle cx="96.23" cy="517.39" r="2.6"/><circle cx="95.01" cy="497.97" r="2.6"/><circle cx="116.34" cy="501.38" r="2.6"/><circle cx="105" cy="535.86" r="2.6"/><circle cx="113.72" cy="514.2" r="2.6"/><circle cx="115.86" cy="518.15" r="2.6"/><circle cx="87.27" cy="476.76" r="2.6"/><circle cx="89.8" cy="511.1" r="2.6"/><circle cx="121.62" cy="476.48" r="2.6"/><circle cx="113.52" cy="520.45" r="2.6"/><circle cx="95.1" cy="508.57" r="2.6"/><circle cx="125" cy="535.57" r="2.6"/><circle cx="108.03" cy="494.12" r="2.6"/><circle cx="87.94" cy="484.85" r="2.6"/><circle cx="96.17" cy="518.98" r="2.6"/><circle cx="100.13" cy="485.15" r="2.6"/><circle cx="99.19" cy="501.1" r="2.6"/><circle cx="100.28" cy="489.3" r="2.6"/><circle cx="92.09" cy="503.34" r="2.6"/><circle cx="107.32" cy="486.56" r="2.6"/><circle cx="110.43" cy="494.62" r="2.6"/><circle cx="117.78" cy="495.98" r="2.6"/><circle cx="106.26" cy="477.75" r="2.6"/><circle cx="85.78" cy="499.98" r="2.6"/><circle cx="115.32" cy="509.08" r="2.6"/><circle cx="93.67" cy="513.12" r="2.6"/><circle cx="95.44" cy="482.69" r="2.6"/><circle cx="97.7" cy="484.49" r="2.6"/><circle cx="95.81" cy="515.72" r="2.6"/><circle cx="96.78" cy="499.51" r="2.6"/><circle cx="88.52" cy="503.43" r="2.6"/><circle cx="106.28" cy="491.89" r="2.6"/><circle cx="120.28" cy="485.85" r="2.6"/><circle cx="124.93" cy="488.66" r="2.6"/><circle cx="104.52" cy="479.07" r="2.6"/><circle cx="120.15" cy="477.56" r="2.6"/><circle cx="119.5" cy="479.51" r="2.6"/><circle cx="96.65" cy="514.42" r="2.6"/><circle cx="109.79" cy="495.24" r="2.6"/><circle cx="101.59" cy="502.3" r="2.6"/><circle cx="107.02" cy="481.95" r="2.6"/><circle cx="91.81" cy="478.18" r="2.6"/><circle cx="115.1" cy="481.54" r="2.6"/><circle cx="118.37" cy="500.37" r="2.6"/><circle cx="124.33" cy="507.98" r="2.6"/><circle cx="86.35" cy="481.44" r="2.6"/><circle cx="109.58" cy="483.45" r="2.6"/><circle cx="113.27" cy="472.74" r="2.6"/><circle cx="107" cy="504.14" r="2.6"/><circle cx="87.37" cy="485.94" r="2.6"/><circle cx="120.95" cy="483.55" r="2.6"/><circle cx="104.03" cy="509.72" r="2.6"/><circle cx="96.15" cy="507.97" r="2.6"/><circle cx="88.31" cy="524.77" r="2.6"/><circle cx="125.79" cy="515.77" r="2.6"/><circle cx="101.75" cy="509.44" r="2.6"/><circle cx="95.32" cy="478.71" r="2.6"/><circle cx="103.67" cy="520.48" r="2.6"/><circle cx="92.45" cy="481.44" r="2.6"/><circle cx="102" cy="505.49" r="2.6"/><circle cx="107.18" cy="484.61" r="2.6"/><circle cx="104.98" cy="511.15" r="2.6"/><circle cx="93.95" cy="472.94" r="2.6"/><circle cx="91" cy="535.51" r="2.6"/><circle cx="102.81" cy="507.03" r="2.6"/><circle cx="114" cy="514.39" r="2.6"/><circle cx="105.95" cy="512.06" r="2.6"/><circle cx="114.89" cy="514.03" r="2.6"/><circle cx="92.18" cy="469" r="2.6"/><circle cx="90" cy="510.85" r="2.6"/><circle cx="108.13" cy="481.97" r="2.6"/><circle cx="117.03" cy="487.99" r="2.6"/><circle cx="112.95" cy="490.24" r="2.6"/><circle cx="111.29" cy="511.97" r="2.6"/><circle cx="121.77" cy="491.76" r="2.6"/><circle cx="126.01" cy="494.54" r="2.6"/><circle cx="107" cy="535.86" r="2.6"/><circle cx="118.2" cy="507.75" r="2.6"/><circle cx="90.87" cy="479.51" r="2.6"/><circle cx="90.58" cy="473.41" r="2.6"/><circle cx="102.48" cy="490.36" r="2.6"/><circle cx="104.71" cy="492.1" r="2.6"/><circle cx="96.57" cy="495.96" r="2.6"/><circle cx="102.82" cy="515.81" r="2.6"/><circle cx="100.41" cy="516.58" r="2.6"/><circle cx="91.51" cy="511.15" r="2.6"/><circle cx="106.51" cy="488.84" r="2.6"/></g>
<g clip-path="url(#c2)" fill="#F8766D" fill-opacity="0.6"><circle cx="176.99" cy="434.1" r="2.6"/><circle cx="159.82" cy="419.07" r="2.6"/><circle cx="161.09" cy="442.09" r="2.6"/><circle cx="179.22" cy="429.5" r="2.6"/><circle cx="160.01" cy="444.79" r="2.6"/><circle cx="182.77" cy="474.49" r="2.6"/><circle cx="183.41" cy="427.8" r="2.6"/><circle cx="156" cy="414.5" r="2.6"/><circle cx="191.29" cy="438.68" r="2.6"/><circle cx="182.29" cy="437.78" r="2.6"/><circle cx="175.69" cy="450.02" r="2.6"/><circle cx="175.1" cy="458.4" r="2.6"/><circle cx="193.9" cy="434.93" r="2.6"/><circle cx="182.61" cy="438.33" r="2.6"/><circle cx="181.57" cy="434.9" r="2.6"/><circle cx="191.65" cy="457.61" r="2.6"/><circle cx="178.46" cy="441.63" r="2.6"/><circle cx="154.05" cy="456.18" r="2.6"/><circle cx="166.08" cy="472.51" r="2.6"/><circle cx="173.98" cy="439.85" r="2.6"/><circle cx="160.74" cy="450.78" r="2.6"/><circle cx="185.79" cy="433.19" r="2.6"/><circle cx="186.63" cy="430.41" r="2.6"/><circle cx="170.23" cy="462.28" r="2.6"/><circle cx="192.21" cy="443.98" r="2.6"/><circle cx="163.75" cy="462.31" r="2.6"/><circle cx="172.38" cy="456.42" r="2.6"/><circle cx="177.05" cy="433.04" r="2.6"/><circle cx="180.93" cy="424.46" r="2.6"/><circle cx="166.08" cy="447.57" r="2.6"/><circle cx="181.81" cy="453.63" r="2.6"/><circle cx="166.95" cy="429.64" r="2.6"/><circle cx="160.93" cy="460.01" r="2.6"/><circle cx="178.36" cy="426.38" r="2.6"/><circle cx="177.24" cy="444.1" r="2.6"/><circle cx="179.62" cy="419.94" r="2.6"/><circle cx="176.15" cy="424.69" r="2.6"/><circle cx="173.11" cy="440" r="2.6"/><circle cx="155.89" cy="444.64" r="2.6"/><circle cx="192.94" cy="435.22" r="2.6"/><circle cx="185.94" cy="470.34" r="2.6"/><circle cx="184.1" cy="461.46" r="2.6"/><circle cx="192.18" cy="438.47" r="2.6"/><circle cx="167.5" cy="428.2" r="2.6"/><circle cx="169.84" cy="450.41" r="2.6"/><circle cx="191.66" cy="428.46" r="2.6"/><circle cx="181.82" cy="454.52" r="2.6"/><circle cx="172.16" cy="451.53" r="2.6"/><circle cx="193.16" cy="452.41" r="2.6"/><circle cx="157.12" cy="426.81" r="2.6"/><circle cx="154.34" cy="474.29" r="2.6"/><circle cx="174.44" cy="446.08" r="2.6"/><circle cx="182.94" cy="449.47" r="2.6"/><circle cx="161.89" cy="434.65" r="2.6"/><circle cx="159.04" cy="441.07" r="2.6"/><circle cx="183.52" cy="439.15" r="2.6"/><circle cx="189.75" cy="468" r="2.6"/><circle cx="190.78" cy="475.25" r="2.6"/><circle cx="164.73" cy="446.96" r="2.6"/><circle cx="185.99" cy="433.13" r="2.6"/><circle cx="165.75" cy="425.27" r="2.6"/><circle cx="161.55" cy="459.15" r="2.6"/><circle cx="187.7" cy="432.14" r="2.6"/><circle cx="193.27" cy="446.35" r="2.6"/><circle cx="177.36" cy="431.24" r="2.6"/><circle cx="187.4" cy="458.73" r="2.6"/><circle cx="184.78" cy="430.84" r="2.6"/><circle cx="189.83" cy="433.23" r="2.6"/><circle cx="184.28" cy="458.52" r="2.6"/><circle cx="179.75" cy="455.64" r="2.6"/><circle cx="160" cy="487" r="2.6"/><circle cx="166.36" cy="434.13" r="2.6"/><circle cx="153.99" cy="459.12" r="2.6"/><circle cx="162.38" cy="445.45" r="2.6"/><circle cx="174.15" cy="448.34" r="2.6"/><circle cx="161.27" cy="473.42" r="2.6"/><circle cx="164.36" cy="450.65" r="2.6"/><circle cx="157.89" cy="462.31" r="2.6"/><circle cx="191.41" cy="451.4" r="2.6"/><circle cx="188.7" cy="467.11" r="2.6"/><circle cx="188.53" cy="464.54" r="2.6"/><circle cx="191.29" cy="449.5" r="2.6"/><circle cx="154.13" cy="438.4" r="2.6"/><circle cx="186.51" cy="442.14" r="2.6"/><circle cx="171.39" cy="417.32" r="2.6"/><circle cx="186.59" cy="419.85" r="2.6"/><circle cx="185.12" cy="458.05" r="2.6"/><circle cx="182.5" cy="439.04" r="2.6"/><circle cx="192.42" cy="456.67" r="2.6"/><circle cx="184.8" cy="464.55" r="2.6"/><circle cx="174.3" cy="431.87" r="2.6"/><circle cx="166.21" cy="436.65" r="2.6"/><circle cx="191.27" cy="424.43" r="2.6"/><circle cx="155.9" cy="430.01" r="2.6"/><circle cx="191.69" cy="434.35" r="2.6"/><circle cx="164.48" cy="472.33" r="2.6"/><circle cx="169.16" cy="456.71" r="2.6"/><circle cx="175.26" cy="431.87" r="2.6"/><circle cx="167.36" cy="448.91" r="2.6"/><circle cx="170.56" cy="426.9" r="2.6"/><circle cx="154.88" cy="454.06" r="2.6"/><circle cx="154.98" cy="452.58" r="2.6"/><circle cx="164.69" cy="452.36" r="2.6"/><circle cx="158.72" cy="428.43" r="2.6"/><circle cx="191" cy="492.6" r="2.6"/><circle cx="190.05" cy="430.57" r="2.6"/><circle cx="154.35" cy="437.82" r="2.6"/><circle cx="161.3" cy="441.8" r="2.6"/><circle cx="188.75" cy="442.24" r="2.6"/><circle cx="183.3" cy="421.94" r="2.6"/><circle cx="169.3" cy="450.3" r="2.6"/><circle cx="157.46" cy="452.83" r="2.6"/><circle cx="154.93" cy="426.04" r="2.6"/><circle cx="181.07" cy="454.85" r="2.6"/><circle cx="188.12" cy="464.71" r="2.6"/><circle cx="153.98" cy="447.18" r="2.6"/><circle cx="164.33" cy="420.32" r="2.6"/><circle cx="175.07" cy="461.24" r="2.6"/><circle cx="179.44" cy="426.76" r="2.6"/><circle cx="155.5" cy="431.4" r="2.6"/><circle cx="179.96" cy="451.79" r="2.6"/><circle cx="169.42" cy="442.51" r="2.6"/><circle cx="162.3" cy="435.27" r="2.6"/><circle cx="183" cy="458.94" r="2.6"/><circle cx="191.01" cy="427.54" r="2.6"/><circle cx="159.86" cy="448.17" r="2.6"/><circle cx="181.89" cy="434.14" r="2.6"/><circle cx="192.69" cy="424.63" r="2.6"/><circle cx="157.55" cy="424.27" r="2.6"/><circle cx="169.2" cy="424.17" r="2.6"/><circle cx="167.45" cy="451.87" r="2.6"/><circle cx="170.58" cy="447.19" r="2.6"/><circle cx="174.99" cy="448.63" r="2.6"/><circle cx="168.29" cy="471.9" r="2.6"/><circle cx="192.09" cy="433.47" r="2.6"/><circle cx="183.61" cy="440.45" r="2.6"/><circle cx="176.48" cy="438.6" r="2.6"/><circle cx="164.06" cy="451.3" r="2.6"/><circle cx="158.37" cy="454.78" r="2.6"/><circle cx="186.93" cy="466.13" r="2.6"/><circle cx="192.74" cy="433.97" r="2.6"/><circle cx="163.57" cy="461.54" r="2.6"/><circle cx="175.36" cy="433.87" r="2.6"/><circle cx="161.11" cy="448.09" r="2.6"/><circle cx="170.19" cy="473.65" r="2.6"/><circle cx="182.15" cy="426.79" r="2.6"/><circle cx="162.76" cy="424.65" r="2.6"/><circle cx="154.26" cy="441.94" r="2.6"/><circle cx="158.69" cy="433" r="2.6"/><circle cx="189.6" cy="427.3" r="2.6"/><circle cx="187.08" cy="451.88" r="2.6"/><circle cx="171.71" cy="435.02" r="2.6"/><circle cx="174.97" cy="427.39" r="2.6"/><circle cx="163.72" cy="448.91" r="2.6"/><circle cx="176.98" cy="442.55" r="2.6"/><circle cx="176.91" cy="430.35" r="2.6"/><circle cx="192.18" cy="456.38" r="2.6"/><circle cx="167.83" cy="444.98" r="2.6"/><circle cx="158.63" cy="453.22" r="2.6"/><circle cx="186" cy="481.5" r="2.6"/><circle cx="171.79" cy="435.63" r="2.6"/><circle cx="169.62" cy="438.38" r="2.6"/><circle cx="156.35" cy="438.14" r="2.6"/><circle cx="157.22" cy="455.74" r="2.6"/><circle cx="155.85" cy="440.4" r="2.6"/><circle cx="164.82" cy="459.98" r="2.6"/><circle cx="174.43" cy="437.98" r="2.6"/><circle cx="163.41" cy="429.27" r="2.6"/><circle cx="174.41" cy="427.93" r="2.6"/><circle cx="154.24" cy="456.17" r="2.6"/><circle cx="166.83" cy="444.3" r="2.6"/><circle cx="188.23" cy="449.45" r="2.6"/><circle cx="174.09" cy="438.53" r="2.6"/><circle cx="171.95" cy="440.7" r="2.6"/><circle cx="177.95" cy="432.36" r="2.6"/><circle cx="154.93" cy="444.02" r="2.6"/><circle cx="184.37" cy="443.06" r="2.6"/><circle cx="158.73" cy="459.91" r="2.6"/><circle cx="156.34" cy="438.62" r="2.6"/><circle cx="160.67" cy="461.39" r="2.6"/><circle cx="181.57" cy="448.74" r="2.6"/><circle cx="166.2" cy="430.32" r="2.6"/><circle cx="191.96" cy="467.65" r="2.6"/><circle cx="187.66" cy="453.05" r="2.6"/><circle cx="161" cy="434.31" r="2.6"/><circle cx="160.47" cy="470.37" r="2.6"/><circle cx="158.56" cy="427.88" r="2.6"/><circle cx="156.39" cy="424.63" r="2.6"/><circle cx="170.54" cy="438.03" r="2.6"/><circle cx="186" cy="414.5" r="2.6"/><circle cx="166.22" cy="438.06" r="2.6"/><circle cx="169.86" cy="437.97" r="2.6"/><circle cx="177.67" cy="448.44" r="2.6"/><circle cx="170.45" cy="448.5" r="2.6"/><circle cx="154.37" cy="431.22" r="2.6"/><circle cx="164.71" cy="456.86" r="2.6"/><circle cx="194.28" cy="440.21" r="2.6"/><circle cx="156.97" cy="466.42" r="2.6"/><circle cx="154.07" cy="450.7" r="2.6"/></g>
<g clip-path="url(#c2)" fill="#00BFC4" fill-opacity="0.6"><circle cx="258.58" cy="519.58" r="2.6"/><circle cx="262.75" cy="505.86" r="2.6"/><circle cx="260.14" cy="498.49" r="2.6"/><circle cx="257.77" cy="502.86" r="2.6"/><circle cx="239.02" cy="504.38" r="2.6"/><circle cx="237.6" cy="481.36" r="2.6"/><circle cx="250.44" cy="523.15" r="2.6"/><circle cx="232.34" cy="496.89" r="2.6"/><circle cx="243.07" cy="502.65" r="2.6"/><circle cx="234.71" cy="535.88" r="2.6"/><circle cx="250.68" cy="494.01" r="2.6"/><circle cx="233.18" cy="481.22" r="2.6"/><circle cx="247.65" cy="481.3" r="2.6"/><circle cx="238.02" cy="499.4" r="2.6"/><circle cx="232.83" cy="492.82" r="2.6"/><circle cx="247.61" cy="493.52" r="2.6"/><circle cx="222.11" cy="496.35" r="2.6"/><circle cx="232.29" cy="514.98" r="2.6"/><circle cx="255.21" cy="535.89" r="2.6"/><circle cx="243.3" cy="456.2" r="2.6"/><circle cx="257.77" cy="506.14" r="2.6"/><circle cx="236.82" cy="466.87" r="2.6"/><circle cx="227.57" cy="515.98" r="2.6"/><circle cx="238.19" cy="475.4" r="2.6"/><circle cx="245.33" cy="504.13" r="2.6"/><circle cx="250.49" cy="481.97" r="2.6"/><circle cx="255.49" cy="486.12" r="2.6"/><circle cx="240.1" cy="504.31" r="2.6"/><circle cx="262.29" cy="495.31" r="2.6"/><circle cx="243.5" cy="535.59" r="2.6"/><circle cx="236.33" cy="520.36" r="2.6"/><circle cx="259.52" cy="476" r="2.6"/><circle cx="261.76" cy="522.23" r="2.6"/><circle cx="256.38" cy="494.24" r="2.6"/><circle cx="249.72" cy="504.06" r="2.6"/><circle cx="242.71" cy="485.9" r="2.6"/><circle cx="243.74" cy="505.38" r="2.6"/><circle cx="252.18" cy="513.51" r="2.6"/><circle cx="222.77" cy="506.44" r="2.6"/><circle cx="243.92" cy="510.34" r="2.6"/><circle cx="263.03" cy="484.52" r="2.6"/><circle cx="260.49" cy="476.31" r="2.6"/><circle cx="231.62" cy="509.98" r="2.6"/><circle cx="246.1" cy="495.89" r="2.6"/><circle cx="228.76" cy="483.95" r="2.6"/><circle cx="257.58" cy="517.37" r="2.6"/><circle cx="245.24" cy="505.89" r="2.6"/><circle cx="228.65" cy="517.29" r="2.6"/><circle cx="253.34" cy="477.04" r="2.6"/><circle cx="259.74" cy="500.42" r="2.6"/><circle cx="260.58" cy="500.74" r="2.6"/><circle cx="226.08" cy="477.93" r="2.6"/><circle cx="237.72" cy="495.94" r="2.6"/><circle cx="252.52" cy="500.16" r="2.6"/><circle cx="222.7" cy="501.46" r="2.6"/><circle cx="230.11" cy="493.09" r="2.6"/><circle cx="232.45" cy="505.46" r="2.6"/><circle cx="250.79" cy="471.68" r="2.6"/><circle cx="234.71" cy="499.76" r="2.6"/><circle cx="262.5" cy="479.94" r="2.6"/><circle cx="254.93" cy="485.96" r="2.6"/><circle cx="237.64" cy="535.51" r="2.6"/><circle cx="249.51" cy="488.5" r="2.6"/><circle cx="238.98" cy="503.56" r="2.6"/><circle cx="246.48" cy="520.35" r="2.6"/><circle cx="231.79" cy="535.84" r="2.6"/><circle cx="255.45" cy="508.96" r="2.6"/><circle cx="254.45" cy="507.51" r="2.6"/><circle cx="239.79" cy="507.97" r="2.6"/><circle cx="249.36" cy="535.66" r="2.6"/><circle cx="258.7" cy="467.44" r="2.6"/><circle cx="227.19" cy="504.21" r="2.6"/><circle cx="256.35" cy="519.01" r="2.6"/><circle cx="225.2" cy="497.18" r="2.6"/><circle cx="248.5" cy="493.33" r="2.6"/><circle cx="255.14" cy="482.24" r="2.6"/><circle cx="240.19" cy="486.07" r="2.6"/><circle cx="258.81" cy="471.21" r="2.6"/><circle cx="246.43" cy="535.83" r="2.6"/><circle cx="241.69" cy="516.91" r="2.6"/><circle cx="225.71" cy="492.75" r="2.6"/><circle cx="248.72" cy="514.1" r="2.6"/><circle cx="241.61" cy="516.44" r="2.6"/><circle cx="249.68" cy="505.52" r="2.6"/><circle cx="259.66" cy="524.42" r="2.6"/><circle cx="233.49" cy="514.2" r="2.6"/><circle cx="225.45" cy="471.73" r="2.6"/><circle cx="228.86" cy="535.48" r="2.6"/><circle cx="244.1" cy="485.42" r="2.6"/><circle cx="222.18" cy="488.62" r="2.6"/><circle cx="227.78" cy="498.43" r="2.6"/><circle cx="245.56" cy="487.49" r="2.6"/><circle cx="233.91" cy="505.68" r="2.6"/><circle cx="225.38" cy="489.05" r="2.6"/><circle cx="256.61" cy="478.27" r="2.6"/><circle cx="242.97" cy="484.23" r="2.6"/><circle cx="240.12" cy="517.12" r="2.6"/><circle cx="242.15" cy="467.66" r="2.6"/><circle cx="257.96" cy="518.44" r="2.6"/><circle cx="243.05" cy="488.68" r="2.6"/><circle cx="223.1" cy="479.13" r="2.6"/><circle cx="256.84" cy="497.63" r="2.6"/><circle cx="234.1" cy="513.74" r="2.6"/><circle cx="230.41" cy="474.58" r="2.6"/><circle cx="249.59" cy="494.53" r="2.6"/><circle cx="256.36" cy="486.58" r="2.6"/><circle cx="247.37" cy="488.87" r="2.6"/><circle cx="261.07" cy="535.81" r="2.6"/><circle cx="257.43" cy="500.78" r="2.6"/><circle cx="229.12" cy="499.65" r="2.6"/><circle cx="240.95" cy="481.92" r="2.6"/><circle cx="254.93" cy="482.34" r="2.6"/><circle cx="233.23" cy="497.57" r="2.6"/><circle cx="222.2" cy="503.87" r="2.6"/><circle cx="258.14" cy="535.63" r="2.6"/><circle cx="228.73" cy="509.24" r="2.6"/><circle cx="250.33" cy="485.61" r="2.6"/><circle cx="257.76" cy="484.71" r="2.6"/><circle cx="253.63" cy="491.76" r="2.6"/><circle cx="252.72" cy="515.43" r="2.6"/><circle cx="253.28" cy="506.59" r="2.6"/><circle cx="250.19" cy="513.1" r="2.6"/><circle cx="234.3" cy="500.51" r="2.6"/><circle cx="223.15" cy="489.59" r="2.6"/><circle cx="251.95" cy="514.13" r="2.6"/><circle cx="243.48" cy="519.2" r="2.6"/><circle cx="241.19" cy="517.82" r="2.6"/><circle cx="257.63" cy="486.75" r="2.6"/><circle cx="247.67" cy="489.3" r="2.6"/><circle cx="255.1" cy="506.79" r="2.6"/><circle cx="241.26" cy="521.93" r="2.6"/><circle cx="236.86" cy="505.74" r="2.6"/><circle cx="264" cy="535.64" r="2.6"/><circle cx="228.48" cy="480.33" r="2.6"/><circle cx="233.54" cy="509.66" r="2.6"/><circle cx="223.39" cy="488.85" r="2.6"/><circle cx="249.88" cy="509.92" r="2.6"/><circle cx="257.69" cy="517.51" r="2.6"/><circle cx="248.72" cy="487.47" r="2.6"/><circle cx="243.89" cy="499.17" r="2.6"/><circle cx="244.99" cy="500.05" r="2.6"/><circle cx="242.19" cy="505.65" r="2.6"/><circle cx="254.31" cy="497.55" r="2.6"/><circle cx="238.7" cy="486.11" r="2.6"/><circle cx="230.36" cy="516.41" r="2.6"/><circle cx="242.8" cy="515.51" r="2.6"/><circle cx="223.96" cy="483.03" r="2.6"/><circle cx="252.29" cy="535.64" r="2.6"/><circle cx="259.4" cy="501.4" r="2.6"/><circle cx="248.57" cy="480.5" r="2.6"/><circle cx="241.64" cy="477.7" r="2.6"/><circle cx="249.64" cy="519.67" r="2.6"/><circle cx="222.66" cy="518.68" r="2.6"/><circle cx="228.21" cy="495.96" r="2.6"/><circle cx="243.51" cy="506.09" r="2.6"/><circle cx="241.9" cy="518.96" r="2.6"/><circle cx="234.31" cy="512.09" r="2.6"/><circle cx="248.79" cy="513.67" r="2.6"/><circle cx="255.49" cy="505.1" r="2.6"/><circle cx="256.11" cy="518.33" r="2.6"/><circle cx="236.48" cy="497.33" r="2.6"/><circle cx="229.45" cy="517.47" r="2.6"/><circle cx="253.04" cy="503.98" r="2.6"/><circle cx="223.85" cy="475.39" r="2.6"/><circle cx="233.75" cy="521.69" r="2.6"/><circle cx="235.15" cy="507.92" r="2.6"/><circle cx="235.74" cy="475.69" r="2.6"/><circle cx="250.23" cy="506.77" r="2.6"/><circle cx="255.89" cy="495.54" r="2.6"/><circle cx="255.87" cy="499.48" r="2.6"/><circle cx="233.15" cy="474.32" r="2.6"/><circle cx="248.65" cy="502.05" r="2.6"/><circle cx="238.01" cy="491.98" r="2.6"/><circle cx="234.44" cy="467.95" r="2.6"/><circle cx="238.37" cy="486.72" r="2.6"/><circle cx="229.47" cy="495.76" r="2.6"/><circle cx="254.04" cy="485.39" r="2.6"/><circle cx="252.62" cy="476.32" r="2.6"/><circle cx="252.21" cy="481.08" r="2.6"/><circle cx="241.29" cy="506.01" r="2.6"/><circle cx="242.87" cy="525.32" r="2.6"/><circle cx="240.57" cy="535.42" r="2.6"/><circle cx="254.3" cy="482.1" r="2.6"/><circle cx="233.69" cy="482.4" r="2.6"/><circle cx="261.9" cy="494.09" r="2.6"/><circle cx="256.57" cy="517.1" r="2.6"/><circle cx="240.9" cy="520.07" r="2.6"/><circle cx="225.93" cy="535.51" r="2.6"/><circle cx="223" cy="535.83" r="2.6"/><circle cx="259.06" cy="490.21" r="2.6"/><circle cx="256.32" cy="471.64" r="2.6"/><circle cx="248.57" cy="519.52" r="2.6"/><circle cx="258.56" cy="507.69" r="2.6"/><circle cx="250.03" cy="493.56" r="2.6"/><circle cx="244.44" cy="519.07" r="2.6"/><circle cx="262.06" cy="519.96" r="2.6"/><circle cx="248.09" cy="515.06" r="2.6"/><circle cx="228.47" cy="500.29" r="2.6"/><circle cx="243.54" cy="516.18" r="2.6"/><circle cx="236.92" cy="504.83" r="2.6"/><circle cx="229.54" cy="476.12" r="2.6"/><circle cx="238.02" cy="512.77" r="2.6"/><circle cx="229.12" cy="508.86" r="2.6"/><circle cx="236.38" cy="499.22" r="2.6"/><circle cx="256.47" cy="522.01" r="2.6"/><circle cx="252.47" cy="508.24" r="2.6"/><circle cx="229.57" cy="484.98" r="2.6"/><circle cx="235.25" cy="502.32" r="2.6"/><circle cx="249.57" cy="522.25" r="2.6"/></g>
<g clip-path="url(#c2)" fill="#00BFC4" fill-opacity="0.6"><circle cx="323.59" cy="455.33" r="2.6"/><circle cx="298.15" cy="459.04" r="2.6"/><circle cx="299.88" cy="479.62" r="2.6"/><circle cx="329.89" cy="461.58" r="2.6"/><circle cx="306.78" cy="462.29" r="2.6"/><circle cx="321.4" cy="438.58" r="2.6"/><circle cx="329.01" cy="437.44" r="2.6"/><circle cx="298.42" cy="448.44" r="2.6"/><circle cx="313.61" cy="463.56" r="2.6"/><circle cx="304.93" cy="440.58" r="2.6"/><circle cx="331.48" cy="439.02" r="2.6"/><circle cx="317.45" cy="435.22" r="2.6"/><circle cx="324.86" cy="434.64" r="2.6"/><circle cx="315.42" cy="435.32" r="2.6"/><circle cx="309.09" cy="442.64" r="2.6"/><circle cx="302.5" cy="450.24" r="2.6"/><circle cx="310.15" cy="466.59" r="2.6"/><circle cx="295.94" cy="447.34" r="2.6"/><circle cx="296.62" cy="431.7" r="2.6"/><circle cx="291.32" cy="470.96" r="2.6"/><circle cx="305.79" cy="431.53" r="2.6"/><circle cx="314.27" cy="438.43" r="2.6"/><circle cx="311.73" cy="479.18" r="2.6"/><circle cx="311.55" cy="431.81" r="2.6"/><circle cx="318.4" cy="461.73" r="2.6"/><circle cx="326.6" cy="444.91" r="2.6"/><circle cx="306.66" cy="430.11" r="2.6"/><circle cx="302.99" cy="433.78" r="2.6"/><circle cx="319.84" cy="442.15" r="2.6"/><circle cx="315.87" cy="451.65" r="2.6"/><circle cx="329.05" cy="438.02" r="2.6"/><circle cx="315.55" cy="447.16" r="2.6"/><circle cx="324.13" cy="442.12" r="2.6"/><circle cx="330.22" cy="439.95" r="2.6"/><circle cx="330.24" cy="455.48" r="2.6"/><circle cx="300.58" cy="435.26" r="2.6"/><circle cx="293.03" cy="432.25" r="2.6"/><circle cx="317.93" cy="447.31" r="2.6"/><circle cx="309.96" cy="466.01" r="2.6"/><circle cx="331.02" cy="450.65" r="2.6"/><circle cx="327.56" cy="460.81" r="2.6"/><circle cx="312.02" cy="466.71" r="2.6"/><circle cx="303.46" cy="431.95" r="2.6"/><circle cx="313.41" cy="463.77" r="2.6"/><circle cx="325.49" cy="442.68" r="2.6"/><circle cx="294.87" cy="481.76" r="2.6"/><circle cx="304.69" cy="456.84" r="2.6"/><circle cx="302.3" cy="452.08" r="2.6"/><circle cx="296.54" cy="448.2" r="2.6"/><circle cx="324.39" cy="453.44" r="2.6"/><circle cx="321.06" cy="435.4" r="2.6"/><circle cx="303.08" cy="448.67" r="2.6"/><circle cx="321.73" cy="463.86" r="2.6"/><circle cx="329.47" cy="436.04" r="2.6"/><circle cx="304.01" cy="455.42" r="2.6"/><circle cx="320.42" cy="451.71" r="2.6"/><circle cx="298.75" cy="431.17" r="2.6"/><circle cx="326.7" cy="450.8" r="2.6"/><circle cx="319.23" cy="437.88" r="2.6"/><circle cx="293.26" cy="452.93" r="2.6"/><circle cx="294.31" cy="446.03" r="2.6"/><circle cx="317.74" cy="452.5" r="2.6"/><circle cx="293.96" cy="447.61" r="2.6"/><circle cx="314.1" cy="451.1" r="2.6"/><circle cx="328.78" cy="453.76" r="2.6"/><circle cx="294.85" cy="441.08" r="2.6"/><circle cx="320.57" cy="430.6" r="2.6"/><circle cx="312.25" cy="444.51" r="2.6"/><circle cx="323.77" cy="480.54" r="2.6"/><circle cx="325.63" cy="441.31" r="2.6"/><circle cx="295.69" cy="449.21" r="2.6"/><circle cx="311.36" cy="435.6" r="2.6"/><circle cx="307.52" cy="440.17" r="2.6"/><circle cx="310.77" cy="444.95" r="2.6"/><circle cx="304.32" cy="441.49" r="2.6"/><circle cx="329.26" cy="445.31" r="2.6"/><circle cx="302.99" cy="454.4" r="2.6"/><circle cx="320.24" cy="437.38" r="2.6"/><circle cx="311.15" cy="439.3" r="2.6"/><circle cx="313.69" cy="452.17" r="2.6"/><circle cx="317.32" cy="457.48" r="2.6"/><circle cx="313.56" cy="459.26" r="2.6"/><circle cx="298.12" cy="440.56" r="2.6"/><circle cx="300.52" cy="464.89" r="2.6"/><circle cx="309.11" cy="434.02" r="2.6"/><circle cx="310.4" cy="430.76" r="2.6"/><circle cx="296.95" cy="437.34" r="2.6"/><circle cx="305.28" cy="461.28" r="2.6"/><circle cx="323.62" cy="466.92" r="2.6"/><circle cx="328.3" cy="431.22" r="2.6"/><circle cx="309.18" cy="452.21" r="2.6"/><circle cx="311.71" cy="457.58" r="2.6"/><circle cx="307.55" cy="441.28" r="2.6"/><circle cx="295.19" cy="426.11" r="2.6"/><circle cx="328.92" cy="442.73" r="2.6"/><circle cx="329.85" cy="449.68" r="2.6"/><circle cx="311.08" cy="469.03" r="2.6"/><circle cx="292.09" cy="431.08" r="2.6"/><circle cx="316.77" cy="460.08" r="2.6"/><circle cx="330.73" cy="454.33" r="2.6"/><circle cx="324.21" cy="455.17" r="2.6"/><circle cx="299.42" cy="432.28" r="2.6"/><circle cx="330.67" cy="441.58" r="2.6"/><circle cx="317.57" cy="435.92" r="2.6"/><circle cx="326.36" cy="429.54" r="2.6"/><circle cx="317.24" cy="448.81" r="2.6"/><circle cx="311.7" cy="450.64" r="2.6"/><circle cx="324.62" cy="474.33" r="2.6"/><circle cx="295.47" cy="443.48" r="2.6"/><circle cx="293.3" cy="462.69" r="2.6"/><circle cx="293.31" cy="451.22" r="2.6"/><circle cx="305.91" cy="437.12" r="2.6"/><circle cx="313.57" cy="436.52" r="2.6"/><circle cx="294" cy="455.67" r="2.6"/><circle cx="315.75" cy="446.3" r="2.6"/><circle cx="290.74" cy="452.06" r="2.6"/><circle cx="292.76" cy="465.88" r="2.6"/><circle cx="304.73" cy="431.85" r="2.6"/><circle cx="321.88" cy="439.37" r="2.6"/><circle cx="310.36" cy="430.38" r="2.6"/><circle cx="315.15" cy="453.16" r="2.6"/><circle cx="326.53" cy="466.95" r="2.6"/><circle cx="301.98" cy="449.19" r="2.6"/><circle cx="314.46" cy="443.27" r="2.6"/><circle cx="294.98" cy="431.11" r="2.6"/><circle cx="328.04" cy="452.07" r="2.6"/><circle cx="313.07" cy="454.29" r="2.6"/><circle cx="318.62" cy="436.45" r="2.6"/><circle cx="321.03" cy="442.4" r="2.6"/><circle cx="322.2" cy="446.91" r="2.6"/><circle cx="301.98" cy="429.97" r="2.6"/><circle cx="300.06" cy="452.98" r="2.6"/><circle cx="324.63" cy="478.18" r="2.6"/><circle cx="323.42" cy="465.82" r="2.6"/><circle cx="305.33" cy="441.14" r="2.6"/><circle cx="317.85" cy="474.41" r="2.6"/><circle cx="304.63" cy="426.37" r="2.6"/><circle cx="302.98" cy="440.32" r="2.6"/><circle cx="298.86" cy="432.36" r="2.6"/><circle cx="297.85" cy="482.59" r="2.6"/><circle cx="312.12" cy="436.24" r="2.6"/><circle cx="295.59" cy="431.22" r="2.6"/><circle cx="295.69" cy="432.53" r="2.6"/><circle cx="294.37" cy="428.79" r="2.6"/><circle cx="299.33" cy="445.34" r="2.6"/><circle cx="306.38" cy="441.84" r="2.6"/><circle cx="294.61" cy="450.59" r="2.6"/><circle cx="308.54" cy="474.36" r="2.6"/><circle cx="328.21" cy="442.95" r="2.6"/><circle cx="315.61" cy="434.01" r="2.6"/><circle cx="308.48" cy="451.79" r="2.6"/><circle cx="324.82" cy="480.63" r="2.6"/><circle cx="295.91" cy="444.61" r="2.6"/><circle cx="292.12" cy="431" r="2.6"/><circle cx="303.2" cy="445.71" r="2.6"/><circle cx="322.82" cy="434.13" r="2.6"/><circle cx="304.68" cy="428.17" r="2.6"/><circle cx="316.81" cy="466.77" r="2.6"/><circle cx="319.9" cy="446.96" r="2.6"/><circle cx="314.05" cy="449.1" r="2.6"/><circle cx="308.19" cy="444.2" r="2.6"/><circle cx="312.26" cy="478.09" r="2.6"/><circle cx="305.05" cy="448.6" r="2.6"/><circle cx="319.95" cy="440.32" r="2.6"/><circle cx="312.78" cy="436.36" r="2.6"/><circle cx="328.93" cy="427.83" r="2.6"/><circle cx="308.5" cy="442.92" r="2.6"/><circle cx="303.21" cy="468.44" r="2.6"/><circle cx="295.78" cy="459.62" r="2.6"/><circle cx="295.76" cy="447.99" r="2.6"/><circle cx="326.55" cy="445.54" r="2.6"/><circle cx="306.44" cy="444.2" r="2.6"/><circle cx="291.14" cy="438.67" r="2.6"/><circle cx="322.85" cy="432.93" r="2.6"/><circle cx="291.93" cy="435" r="2.6"/><circle cx="320.1" cy="434.14" r="2.6"/><circle cx="316.5" cy="449.9" r="2.6"/><circle cx="310.36" cy="457.56" r="2.6"/><circle cx="319.85" cy="454.42" r="2.6"/><circle cx="317.19" cy="434.79" r="2.6"/><circle cx="325.18" cy="439.88" r="2.6"/><circle cx="310.82" cy="433.11" r="2.6"/><circle cx="311.49" cy="450.72" r="2.6"/><circle cx="313.23" cy="440.38" r="2.6"/><circle cx="298.8" cy="451.21" r="2.6"/><circle cx="304" cy="428.73" r="2.6"/><circle cx="316.22" cy="447.07" r="2.6"/><circle cx="323.75" cy="469.07" r="2.6"/><circle cx="313.15" cy="429.56" r="2.6"/><circle cx="320.2" cy="433.87" r="2.6"/><circle cx="320.7" cy="448.77" r="2.6"/><circle cx="293.08" cy="439.99" r="2.6"/><circle cx="321.72" cy="454.6" r="2.6"/><circle cx="293.4" cy="469.25" r="2.6"/><circle cx="317.95" cy="448.72" r="2.6"/><circle cx="326.47" cy="444.12" r="2.6"/></g>
<line x1="85.08" x2="126.08" y1="499.3" y2="499.3" stroke="#000" stroke-width="1.4"/>
<text x="105.58" y="494.5" text-anchor="middle" font-size="12.6" fill="#000">0.1</text>
<line x1="153.57" x2="194.57" y1="442.9" y2="442.9" stroke="#000" stroke-width="1.4"/>
<text x="174.07" y="438.1" text-anchor="middle" font-size="12.6" fill="#000">4.8</text>
<line x1="222.06" x2="263.06" y1="499.6" y2="499.6" stroke="#000" stroke-width="1.4"/>
<text x="242.56" y="494.8" text-anchor="middle" font-size="12.6" fill="#000">0.1</text>
<line x1="290.55" x2="331.55" y1="447.5" y2="447.5" stroke="#000" stroke-width="1.4"/>
<text x="311.05" y="442.7" text-anchor="middle" font-size="12.6" fill="#000">3.4</text>
<path d="M105.58 350.1V345.8H174.07V350.1" fill="none" stroke="#000" stroke-width="1.4" stroke-linecap="round" stroke-linejoin="round"/>
<text x="139.825" y="342.9" text-anchor="middle" font-size="12.6" fill="#000"><tspan font-style="italic">P</tspan><tspan dx="6.2">< 0.0001</tspan></text>
<path d="M242.56 350.1V345.8H311.05V350.1" fill="none" stroke="#000" stroke-width="1.4" stroke-linecap="round" stroke-linejoin="round"/>
<text x="276.805" y="342.9" text-anchor="middle" font-size="12.6" fill="#000"><tspan font-style="italic">P</tspan><tspan dx="6.2">< 0.0001</tspan></text>
<path d="M174.07 372.7V368.4H311.05V372.7" fill="none" stroke="#000" stroke-width="1.4" stroke-linecap="round" stroke-linejoin="round"/>
<text x="242.56" y="365.5" text-anchor="middle" font-size="12.6" fill="#000"><tspan font-style="italic">P</tspan><tspan dx="6.2">= 0.0001</tspan></text>
<rect x="397.24" y="304.4" width="287.65999999999997" height="21.600000000000023" fill="#D9D9D9" stroke="#333" stroke-width="1.1"/>
<text x="541.0699999999999" y="319.29999999999995" text-anchor="middle" font-size="11.2" font-weight="bold" fill="#1a1a1a">TT</text>
<line x1="397.24" x2="684.9" y1="533.11" y2="533.11" stroke="#EBEBEB" stroke-width="0.55"/><line x1="397.24" x2="684.9" y1="517.21" y2="517.21" stroke="#EBEBEB" stroke-width="0.55"/><line x1="397.24" x2="684.9" y1="485.39" y2="485.39" stroke="#EBEBEB" stroke-width="0.55"/><line x1="397.24" x2="684.9" y1="453.59" y2="453.59" stroke="#EBEBEB" stroke-width="0.55"/><line x1="397.24" x2="684.9" y1="421.78" y2="421.78" stroke="#EBEBEB" stroke-width="0.55"/><line x1="397.24" x2="684.9" y1="389.97" y2="389.97" stroke="#EBEBEB" stroke-width="0.55"/><line x1="397.24" x2="684.9" y1="358.16" y2="358.16" stroke="#EBEBEB" stroke-width="0.55"/><line x1="397.24" x2="684.9" y1="342.25" y2="342.25" stroke="#EBEBEB" stroke-width="0.55"/><line x1="397.24" x2="684.9" y1="326.35" y2="326.35" stroke="#EBEBEB" stroke-width="0.55"/><line x1="397.24" x2="684.9" y1="501.3" y2="501.3" stroke="#EBEBEB" stroke-width="1.1"/><line x1="397.24" x2="684.9" y1="469.49" y2="469.49" stroke="#EBEBEB" stroke-width="1.1"/><line x1="397.24" x2="684.9" y1="437.68" y2="437.68" stroke="#EBEBEB" stroke-width="1.1"/><line x1="397.24" x2="684.9" y1="405.87" y2="405.87" stroke="#EBEBEB" stroke-width="1.1"/><line x1="397.24" x2="684.9" y1="374.06" y2="374.06" stroke="#EBEBEB" stroke-width="1.1"/><line x1="438.33" x2="438.33" y1="326.0" y2="535.9" stroke="#EBEBEB" stroke-width="1.1"/><line x1="506.84" x2="506.84" y1="326.0" y2="535.9" stroke="#EBEBEB" stroke-width="1.1"/><line x1="575.36" x2="575.36" y1="326.0" y2="535.9" stroke="#EBEBEB" stroke-width="1.1"/><line x1="643.87" x2="643.87" y1="326.0" y2="535.9" stroke="#EBEBEB" stroke-width="1.1"/>
<line x1="393.64" x2="397.24" y1="501.3" y2="501.3" stroke="#333" stroke-width="1.07"/>
<text x="391.04" y="506.3" text-anchor="end" font-size="14" fill="#000">0.1</text>
<line x1="393.64" x2="397.24" y1="469.49" y2="469.49" stroke="#333" stroke-width="1.07"/>
<text x="391.04" y="474.49" text-anchor="end" font-size="14" fill="#000">1</text>
<line x1="393.64" x2="397.24" y1="437.68" y2="437.68" stroke="#333" stroke-width="1.07"/>
<text x="391.04" y="442.68" text-anchor="end" font-size="14" fill="#000">10</text>
<line x1="393.64" x2="397.24" y1="405.87" y2="405.87" stroke="#333" stroke-width="1.07"/>
<text x="391.04" y="410.87" text-anchor="end" font-size="14" fill="#000">100</text>
<line x1="393.64" x2="397.24" y1="374.06" y2="374.06" stroke="#333" stroke-width="1.07"/>
<text x="391.04" y="379.06" text-anchor="end" font-size="14" fill="#000">1000</text>
<line x1="438.33" x2="438.33" y1="535.9" y2="539.4" stroke="#333" stroke-width="1.07"/>
<text x="438.33" y="553" text-anchor="middle" font-size="14" fill="#000">Before</text>
<line x1="506.84" x2="506.84" y1="535.9" y2="539.4" stroke="#333" stroke-width="1.07"/>
<text x="506.84" y="553" text-anchor="middle" font-size="14" fill="#000">After</text>
<line x1="575.36" x2="575.36" y1="535.9" y2="539.4" stroke="#333" stroke-width="1.07"/>
<text x="575.36" y="553" text-anchor="middle" font-size="14" fill="#000">Before</text>
<line x1="643.87" x2="643.87" y1="535.9" y2="539.4" stroke="#333" stroke-width="1.07"/>
<text x="643.87" y="553" text-anchor="middle" font-size="14" fill="#000">After</text>
<g clip-path="url(#c3)" fill="#F8766D" fill-opacity="0.6"><circle cx="446.67" cy="490.35" r="2.6"/><circle cx="419.9" cy="504.91" r="2.6"/><circle cx="427.23" cy="517.41" r="2.6"/><circle cx="454.95" cy="495.88" r="2.6"/><circle cx="434.47" cy="459.92" r="2.6"/><circle cx="431.05" cy="460.47" r="2.6"/><circle cx="440.87" cy="468.43" r="2.6"/><circle cx="458.66" cy="477.38" r="2.6"/><circle cx="437.6" cy="487.26" r="2.6"/><circle cx="420.58" cy="489.72" r="2.6"/><circle cx="432.78" cy="488.66" r="2.6"/><circle cx="437.18" cy="462.84" r="2.6"/><circle cx="439.26" cy="504.69" r="2.6"/><circle cx="457.22" cy="472.9" r="2.6"/><circle cx="442.46" cy="468.44" r="2.6"/><circle cx="424.51" cy="507.82" r="2.6"/><circle cx="440.17" cy="495.1" r="2.6"/><circle cx="418.27" cy="465.69" r="2.6"/><circle cx="451.07" cy="459.67" r="2.6"/><circle cx="447.65" cy="492.59" r="2.6"/><circle cx="443.28" cy="481.71" r="2.6"/><circle cx="419.94" cy="477.62" r="2.6"/><circle cx="423.27" cy="488.65" r="2.6"/><circle cx="452" cy="436" r="2.6"/><circle cx="428.65" cy="463.37" r="2.6"/><circle cx="431.44" cy="464.99" r="2.6"/><circle cx="437.62" cy="485.13" r="2.6"/><circle cx="446.01" cy="488.31" r="2.6"/><circle cx="447.58" cy="477.82" r="2.6"/><circle cx="433.18" cy="469.19" r="2.6"/><circle cx="427.26" cy="510.95" r="2.6"/><circle cx="445.65" cy="496.82" r="2.6"/><circle cx="434.54" cy="470.8" r="2.6"/><circle cx="425.66" cy="490.63" r="2.6"/><circle cx="445.31" cy="505.86" r="2.6"/><circle cx="443.41" cy="498.87" r="2.6"/><circle cx="455.01" cy="489.62" r="2.6"/><circle cx="456.76" cy="466.8" r="2.6"/><circle cx="443.57" cy="487.06" r="2.6"/><circle cx="455.67" cy="485.39" r="2.6"/><circle cx="426.87" cy="487.42" r="2.6"/><circle cx="440.11" cy="505.78" r="2.6"/><circle cx="453.02" cy="501.13" r="2.6"/><circle cx="438.83" cy="464.2" r="2.6"/><circle cx="431.4" cy="496.33" r="2.6"/><circle cx="438.94" cy="475.92" r="2.6"/><circle cx="428.04" cy="495.76" r="2.6"/><circle cx="437.71" cy="474.89" r="2.6"/><circle cx="448.94" cy="475.48" r="2.6"/><circle cx="455" cy="452.6" r="2.6"/><circle cx="419.24" cy="481.2" r="2.6"/><circle cx="430.21" cy="474.86" r="2.6"/><circle cx="452.56" cy="468.94" r="2.6"/><circle cx="434.53" cy="471.95" r="2.6"/><circle cx="448.96" cy="491.74" r="2.6"/><circle cx="439.7" cy="471.33" r="2.6"/><circle cx="426.96" cy="503" r="2.6"/><circle cx="435.73" cy="466.11" r="2.6"/><circle cx="419.85" cy="496.05" r="2.6"/><circle cx="422.43" cy="476.92" r="2.6"/><circle cx="449.16" cy="470.03" r="2.6"/><circle cx="444.14" cy="457.82" r="2.6"/><circle cx="454.48" cy="485.99" r="2.6"/><circle cx="423.29" cy="510.04" r="2.6"/><circle cx="439.64" cy="495.7" r="2.6"/><circle cx="430.65" cy="496.6" r="2.6"/><circle cx="438.68" cy="496.42" r="2.6"/><circle cx="428.07" cy="466.63" r="2.6"/><circle cx="433.99" cy="462.19" r="2.6"/><circle cx="423.19" cy="471.69" r="2.6"/><circle cx="452.9" cy="493.22" r="2.6"/><circle cx="445.4" cy="449" r="2.6"/><circle cx="439.26" cy="466.45" r="2.6"/><circle cx="436.01" cy="491.3" r="2.6"/><circle cx="451.49" cy="466.8" r="2.6"/><circle cx="434.69" cy="487.36" r="2.6"/><circle cx="444.97" cy="484.91" r="2.6"/><circle cx="448.09" cy="467.24" r="2.6"/><circle cx="439.79" cy="480.42" r="2.6"/><circle cx="444.32" cy="464.57" r="2.6"/><circle cx="434.59" cy="488.44" r="2.6"/><circle cx="447.08" cy="490.8" r="2.6"/><circle cx="456.78" cy="460.6" r="2.6"/><circle cx="420.49" cy="488.72" r="2.6"/><circle cx="452.39" cy="465.82" r="2.6"/><circle cx="434.29" cy="459.12" r="2.6"/><circle cx="454.12" cy="474.17" r="2.6"/><circle cx="449.58" cy="473.6" r="2.6"/><circle cx="427.65" cy="465.52" r="2.6"/><circle cx="437.58" cy="479.23" r="2.6"/><circle cx="430.52" cy="464.87" r="2.6"/><circle cx="436.98" cy="467.28" r="2.6"/><circle cx="425.08" cy="492.35" r="2.6"/><circle cx="424.25" cy="466.56" r="2.6"/><circle cx="439.36" cy="494.48" r="2.6"/><circle cx="423.88" cy="483.72" r="2.6"/><circle cx="424.35" cy="495.27" r="2.6"/><circle cx="443.91" cy="514.95" r="2.6"/><circle cx="434.66" cy="501.61" r="2.6"/><circle cx="458.61" cy="471.66" r="2.6"/><circle cx="440.77" cy="494.95" r="2.6"/><circle cx="420.59" cy="485.37" r="2.6"/><circle cx="433.67" cy="475.91" r="2.6"/><circle cx="435.83" cy="502.78" r="2.6"/><circle cx="450.16" cy="467.72" r="2.6"/><circle cx="447.74" cy="480.31" r="2.6"/><circle cx="450.57" cy="462.28" r="2.6"/><circle cx="420.69" cy="465.8" r="2.6"/><circle cx="438.83" cy="480.1" r="2.6"/><circle cx="450.3" cy="451.4" r="2.6"/><circle cx="430.13" cy="474.15" r="2.6"/><circle cx="439.66" cy="469.41" r="2.6"/><circle cx="430.46" cy="505.44" r="2.6"/><circle cx="448.05" cy="477.81" r="2.6"/><circle cx="428.09" cy="464.98" r="2.6"/><circle cx="456.23" cy="460.28" r="2.6"/><circle cx="420.72" cy="485.89" r="2.6"/><circle cx="446.3" cy="486.51" r="2.6"/><circle cx="443.67" cy="480.51" r="2.6"/><circle cx="454.5" cy="437.5" r="2.6"/><circle cx="451.15" cy="512.16" r="2.6"/><circle cx="424" cy="489.07" r="2.6"/><circle cx="439.89" cy="479.08" r="2.6"/><circle cx="419.2" cy="466.08" r="2.6"/><circle cx="433.34" cy="496.36" r="2.6"/><circle cx="432.92" cy="496.9" r="2.6"/><circle cx="433.81" cy="491.69" r="2.6"/><circle cx="457.61" cy="490.39" r="2.6"/><circle cx="422.43" cy="485.25" r="2.6"/><circle cx="436.62" cy="483" r="2.6"/><circle cx="456.37" cy="507.23" r="2.6"/><circle cx="457.26" cy="472.88" r="2.6"/><circle cx="439.5" cy="476.29" r="2.6"/><circle cx="450.49" cy="479.51" r="2.6"/><circle cx="437.02" cy="495.07" r="2.6"/><circle cx="436.15" cy="467.02" r="2.6"/><circle cx="440.74" cy="508.06" r="2.6"/><circle cx="438.03" cy="468.45" r="2.6"/><circle cx="427.02" cy="482.63" r="2.6"/><circle cx="443.4" cy="470.16" r="2.6"/><circle cx="448.35" cy="472.15" r="2.6"/><circle cx="445.7" cy="459.71" r="2.6"/><circle cx="419.41" cy="464.66" r="2.6"/><circle cx="457" cy="439" r="2.6"/><circle cx="422.6" cy="519.5" r="2.6"/><circle cx="427" cy="451" r="2.6"/><circle cx="438.82" cy="473.97" r="2.6"/><circle cx="426.92" cy="457.92" r="2.6"/><circle cx="451.62" cy="474.95" r="2.6"/><circle cx="448.04" cy="482.71" r="2.6"/><circle cx="436.15" cy="505.06" r="2.6"/><circle cx="423.57" cy="462.92" r="2.6"/><circle cx="433.96" cy="497.29" r="2.6"/><circle cx="453.18" cy="493.55" r="2.6"/><circle cx="448.46" cy="503.98" r="2.6"/><circle cx="449.81" cy="479.44" r="2.6"/><circle cx="444.48" cy="490.16" r="2.6"/><circle cx="445.54" cy="490.43" r="2.6"/><circle cx="444.44" cy="460.39" r="2.6"/><circle cx="420.05" cy="464.43" r="2.6"/><circle cx="433.1" cy="482.37" r="2.6"/><circle cx="448.99" cy="486.01" r="2.6"/><circle cx="443.25" cy="480.31" r="2.6"/><circle cx="457.09" cy="458.76" r="2.6"/><circle cx="458.26" cy="460.5" r="2.6"/><circle cx="450.39" cy="459.1" r="2.6"/><circle cx="418.04" cy="459.13" r="2.6"/><circle cx="444.7" cy="491.34" r="2.6"/><circle cx="426.17" cy="461.98" r="2.6"/><circle cx="434.45" cy="489.8" r="2.6"/><circle cx="427.62" cy="474.15" r="2.6"/><circle cx="425.59" cy="462.19" r="2.6"/><circle cx="451.42" cy="483.88" r="2.6"/><circle cx="430.02" cy="491.08" r="2.6"/><circle cx="446.93" cy="468.05" r="2.6"/><circle cx="430.28" cy="492.92" r="2.6"/><circle cx="424.51" cy="476.27" r="2.6"/><circle cx="436.86" cy="468.18" r="2.6"/><circle cx="424.2" cy="475.46" r="2.6"/><circle cx="432.55" cy="477.43" r="2.6"/><circle cx="453.88" cy="461.34" r="2.6"/><circle cx="436.92" cy="462.66" r="2.6"/><circle cx="438.8" cy="494.64" r="2.6"/><circle cx="450.58" cy="475.34" r="2.6"/><circle cx="431.63" cy="468.84" r="2.6"/><circle cx="440.02" cy="491.74" r="2.6"/><circle cx="427.42" cy="482.03" r="2.6"/><circle cx="438.29" cy="486.41" r="2.6"/><circle cx="430.18" cy="497.05" r="2.6"/><circle cx="446.89" cy="490.5" r="2.6"/><circle cx="434.91" cy="482.54" r="2.6"/><circle cx="425.18" cy="464.68" r="2.6"/><circle cx="429.64" cy="463.74" r="2.6"/><circle cx="427.24" cy="480.76" r="2.6"/><circle cx="428.64" cy="471.46" r="2.6"/><circle cx="455.2" cy="449" r="2.6"/><circle cx="438.2" cy="535.96" r="2.6"/><circle cx="439.72" cy="488.74" r="2.6"/><circle cx="442.64" cy="479.69" r="2.6"/><circle cx="440.53" cy="480.47" r="2.6"/></g>
<g clip-path="url(#c3)" fill="#F8766D" fill-opacity="0.6"><circle cx="488.73" cy="432.29" r="2.6"/><circle cx="495.64" cy="418.34" r="2.6"/><circle cx="488.92" cy="454.9" r="2.6"/><circle cx="494.48" cy="430.99" r="2.6"/><circle cx="506.98" cy="426.53" r="2.6"/><circle cx="486.99" cy="439.56" r="2.6"/><circle cx="515" cy="443.6" r="2.6"/><circle cx="509.34" cy="454.64" r="2.6"/><circle cx="517.97" cy="438" r="2.6"/><circle cx="493.48" cy="436.91" r="2.6"/><circle cx="520.98" cy="443.2" r="2.6"/><circle cx="489.18" cy="437.58" r="2.6"/><circle cx="505.63" cy="432.69" r="2.6"/><circle cx="486.44" cy="456.31" r="2.6"/><circle cx="496.1" cy="438.24" r="2.6"/><circle cx="525.07" cy="417.23" r="2.6"/><circle cx="515.28" cy="441.19" r="2.6"/><circle cx="500.51" cy="422.68" r="2.6"/><circle cx="510.95" cy="435.35" r="2.6"/><circle cx="490.75" cy="434.99" r="2.6"/><circle cx="505.49" cy="427.59" r="2.6"/><circle cx="486.7" cy="418.31" r="2.6"/><circle cx="499.72" cy="427.25" r="2.6"/><circle cx="498.48" cy="427.97" r="2.6"/><circle cx="525.97" cy="427.47" r="2.6"/><circle cx="507.04" cy="425.35" r="2.6"/><circle cx="492.24" cy="431.46" r="2.6"/><circle cx="520.57" cy="422.22" r="2.6"/><circle cx="505.16" cy="425.2" r="2.6"/><circle cx="506.57" cy="454.81" r="2.6"/><circle cx="492.62" cy="439.41" r="2.6"/><circle cx="526.92" cy="427.75" r="2.6"/><circle cx="503.01" cy="433.38" r="2.6"/><circle cx="514.36" cy="420.1" r="2.6"/><circle cx="509.86" cy="425.8" r="2.6"/><circle cx="510.37" cy="418.79" r="2.6"/><circle cx="497.83" cy="423.25" r="2.6"/><circle cx="488.61" cy="426.83" r="2.6"/><circle cx="487.81" cy="430.74" r="2.6"/><circle cx="525.68" cy="438.74" r="2.6"/><circle cx="495.1" cy="442.19" r="2.6"/><circle cx="487.02" cy="428.99" r="2.6"/><circle cx="525.11" cy="426.6" r="2.6"/><circle cx="488.95" cy="430.9" r="2.6"/><circle cx="513.9" cy="430.26" r="2.6"/><circle cx="521.64" cy="425.15" r="2.6"/><circle cx="494.85" cy="437.58" r="2.6"/><circle cx="487.66" cy="426.48" r="2.6"/><circle cx="513.47" cy="431.67" r="2.6"/><circle cx="516.73" cy="425.07" r="2.6"/><circle cx="500.86" cy="434.4" r="2.6"/><circle cx="508.06" cy="425.53" r="2.6"/><circle cx="507.03" cy="452.64" r="2.6"/><circle cx="519.29" cy="426.62" r="2.6"/><circle cx="512.21" cy="452.03" r="2.6"/><circle cx="512.92" cy="421.17" r="2.6"/><circle cx="487.83" cy="427.1" r="2.6"/><circle cx="507.36" cy="423.23" r="2.6"/><circle cx="502.27" cy="444.11" r="2.6"/><circle cx="514.81" cy="430.26" r="2.6"/><circle cx="514.83" cy="438.59" r="2.6"/><circle cx="517.17" cy="422.43" r="2.6"/><circle cx="520.05" cy="428.48" r="2.6"/><circle cx="496.94" cy="442.6" r="2.6"/><circle cx="486.36" cy="443.02" r="2.6"/><circle cx="505.61" cy="417.89" r="2.6"/><circle cx="510.63" cy="438.75" r="2.6"/><circle cx="511.4" cy="425.61" r="2.6"/><circle cx="521.45" cy="457.48" r="2.6"/><circle cx="526.24" cy="434.43" r="2.6"/><circle cx="522.88" cy="433.96" r="2.6"/><circle cx="488.11" cy="454.26" r="2.6"/><circle cx="521.45" cy="434.33" r="2.6"/><circle cx="498.19" cy="442.88" r="2.6"/><circle cx="505.15" cy="418.49" r="2.6"/><circle cx="503.33" cy="428.52" r="2.6"/><circle cx="486.41" cy="424.2" r="2.6"/><circle cx="507.63" cy="437.3" r="2.6"/><circle cx="521.93" cy="427.35" r="2.6"/><circle cx="505.55" cy="432.35" r="2.6"/><circle cx="489.4" cy="442.39" r="2.6"/><circle cx="511.72" cy="418.62" r="2.6"/><circle cx="525.33" cy="435.88" r="2.6"/><circle cx="514.4" cy="420.38" r="2.6"/><circle cx="489.65" cy="429.4" r="2.6"/><circle cx="512.9" cy="417.93" r="2.6"/><circle cx="489.62" cy="440.82" r="2.6"/><circle cx="516.13" cy="436.54" r="2.6"/><circle cx="504.98" cy="434.56" r="2.6"/><circle cx="514.24" cy="435.71" r="2.6"/><circle cx="511.71" cy="430.09" r="2.6"/><circle cx="521.32" cy="421.57" r="2.6"/><circle cx="497.03" cy="423.98" r="2.6"/><circle cx="488.98" cy="421.88" r="2.6"/><circle cx="508.96" cy="442.95" r="2.6"/><circle cx="502.41" cy="428.52" r="2.6"/><circle cx="521.39" cy="418.45" r="2.6"/><circle cx="522.34" cy="424.56" r="2.6"/><circle cx="521.68" cy="432.33" r="2.6"/><circle cx="507.68" cy="443.74" r="2.6"/><circle cx="506.22" cy="430.04" r="2.6"/><circle cx="515.62" cy="439.6" r="2.6"/><circle cx="498.34" cy="456.62" r="2.6"/><circle cx="494.55" cy="438.16" r="2.6"/><circle cx="494.24" cy="456.6" r="2.6"/><circle cx="490.82" cy="420.33" r="2.6"/><circle cx="516.94" cy="428.12" r="2.6"/><circle cx="517.37" cy="441.21" r="2.6"/><circle cx="515.48" cy="431.91" r="2.6"/><circle cx="497.2" cy="451.74" r="2.6"/><circle cx="491.27" cy="435.67" r="2.6"/><circle cx="501.07" cy="433.63" r="2.6"/><circle cx="487.76" cy="429.79" r="2.6"/><circle cx="495" cy="451.6" r="2.6"/><circle cx="490.09" cy="437.98" r="2.6"/><circle cx="493.02" cy="434.5" r="2.6"/><circle cx="487.62" cy="433.4" r="2.6"/><circle cx="492.94" cy="424.07" r="2.6"/><circle cx="507.82" cy="433.26" r="2.6"/><circle cx="506.82" cy="423.79" r="2.6"/><circle cx="489.83" cy="449.46" r="2.6"/><circle cx="496.07" cy="444.44" r="2.6"/><circle cx="517.77" cy="427.61" r="2.6"/><circle cx="496.93" cy="417.95" r="2.6"/><circle cx="500.57" cy="432.34" r="2.6"/><circle cx="514.18" cy="430.95" r="2.6"/><circle cx="518.5" cy="437.64" r="2.6"/><circle cx="492.12" cy="424.93" r="2.6"/><circle cx="521.68" cy="418.61" r="2.6"/><circle cx="496.76" cy="444.07" r="2.6"/><circle cx="518.4" cy="419.34" r="2.6"/><circle cx="492.27" cy="434.61" r="2.6"/><circle cx="505.9" cy="442.65" r="2.6"/><circle cx="526.84" cy="418.32" r="2.6"/><circle cx="521.15" cy="436.3" r="2.6"/><circle cx="520.6" cy="426.38" r="2.6"/><circle cx="514.49" cy="430.67" r="2.6"/><circle cx="523.51" cy="428.25" r="2.6"/><circle cx="496.65" cy="428.08" r="2.6"/><circle cx="526.38" cy="442.73" r="2.6"/><circle cx="511.45" cy="426.56" r="2.6"/><circle cx="515.31" cy="426.44" r="2.6"/><circle cx="518.48" cy="444.09" r="2.6"/><circle cx="497.75" cy="431.05" r="2.6"/><circle cx="521" cy="460" r="2.6"/><circle cx="487.21" cy="425.52" r="2.6"/><circle cx="525.15" cy="444.67" r="2.6"/><circle cx="497.89" cy="421.01" r="2.6"/><circle cx="492.58" cy="438.82" r="2.6"/><circle cx="489.84" cy="428.06" r="2.6"/><circle cx="488.37" cy="453.62" r="2.6"/><circle cx="512.42" cy="440.99" r="2.6"/><circle cx="520.21" cy="453" r="2.6"/><circle cx="516.35" cy="448.21" r="2.6"/><circle cx="504.74" cy="444.78" r="2.6"/><circle cx="520.57" cy="425.37" r="2.6"/><circle cx="502.85" cy="426.7" r="2.6"/><circle cx="515.99" cy="422.97" r="2.6"/><circle cx="489.95" cy="419.38" r="2.6"/><circle cx="520.97" cy="438.13" r="2.6"/><circle cx="489.13" cy="425.19" r="2.6"/><circle cx="499.71" cy="432.95" r="2.6"/><circle cx="511.04" cy="448.92" r="2.6"/><circle cx="525.78" cy="444.49" r="2.6"/><circle cx="509.81" cy="423.08" r="2.6"/><circle cx="514" cy="467.4" r="2.6"/><circle cx="502.27" cy="421.9" r="2.6"/><circle cx="498.91" cy="418.93" r="2.6"/><circle cx="508.46" cy="425.71" r="2.6"/><circle cx="515.77" cy="426.74" r="2.6"/><circle cx="499.69" cy="428.1" r="2.6"/><circle cx="494.58" cy="418.42" r="2.6"/><circle cx="489.69" cy="440.4" r="2.6"/><circle cx="487.4" cy="437.29" r="2.6"/><circle cx="519.71" cy="424.93" r="2.6"/><circle cx="522.12" cy="435.58" r="2.6"/><circle cx="501.59" cy="445.62" r="2.6"/><circle cx="519.53" cy="443.86" r="2.6"/><circle cx="513.4" cy="444.24" r="2.6"/><circle cx="501.75" cy="439.61" r="2.6"/><circle cx="520.1" cy="437.36" r="2.6"/><circle cx="521.1" cy="426.54" r="2.6"/><circle cx="494.34" cy="424.41" r="2.6"/><circle cx="508.58" cy="418.53" r="2.6"/><circle cx="497.6" cy="438.42" r="2.6"/><circle cx="524.97" cy="451.4" r="2.6"/><circle cx="518.79" cy="421.14" r="2.6"/><circle cx="516.09" cy="455.85" r="2.6"/><circle cx="488.53" cy="417.81" r="2.6"/><circle cx="519" cy="415.2" r="2.6"/><circle cx="492.67" cy="437.59" r="2.6"/><circle cx="517.76" cy="441.7" r="2.6"/><circle cx="501.51" cy="456.97" r="2.6"/></g>
<g clip-path="url(#c3)" fill="#00BFC4" fill-opacity="0.6"><circle cx="569.76" cy="453.2" r="2.6"/><circle cx="585.49" cy="501.47" r="2.6"/><circle cx="567.95" cy="498.1" r="2.6"/><circle cx="583" cy="471.41" r="2.6"/><circle cx="585.35" cy="498.83" r="2.6"/><circle cx="580.25" cy="481.36" r="2.6"/><circle cx="556.04" cy="465.87" r="2.6"/><circle cx="569.64" cy="458.17" r="2.6"/><circle cx="593.96" cy="468.6" r="2.6"/><circle cx="569.38" cy="486.07" r="2.6"/><circle cx="568.85" cy="510.69" r="2.6"/><circle cx="564.74" cy="505.8" r="2.6"/><circle cx="588.62" cy="461.86" r="2.6"/><circle cx="589.07" cy="461.74" r="2.6"/><circle cx="590.43" cy="472.35" r="2.6"/><circle cx="560.53" cy="458.73" r="2.6"/><circle cx="581.97" cy="459.44" r="2.6"/><circle cx="579.84" cy="493.7" r="2.6"/><circle cx="556.98" cy="477.49" r="2.6"/><circle cx="595" cy="481.33" r="2.6"/><circle cx="563.73" cy="507.45" r="2.6"/><circle cx="582.69" cy="467.31" r="2.6"/><circle cx="572.01" cy="486.04" r="2.6"/><circle cx="562.73" cy="465.81" r="2.6"/><circle cx="587.87" cy="481.66" r="2.6"/><circle cx="576.9" cy="501.9" r="2.6"/><circle cx="564.89" cy="494.36" r="2.6"/><circle cx="565.2" cy="495.59" r="2.6"/><circle cx="571.31" cy="464.23" r="2.6"/><circle cx="561.55" cy="491.21" r="2.6"/><circle cx="555.2" cy="466.79" r="2.6"/><circle cx="564.83" cy="473.98" r="2.6"/><circle cx="556.52" cy="494.1" r="2.6"/><circle cx="575.32" cy="449.1" r="2.6"/><circle cx="574.08" cy="483.16" r="2.6"/><circle cx="579.41" cy="489.15" r="2.6"/><circle cx="587.88" cy="456.95" r="2.6"/><circle cx="563.01" cy="470.11" r="2.6"/><circle cx="555.05" cy="465.53" r="2.6"/><circle cx="569.12" cy="500.88" r="2.6"/><circle cx="558" cy="442" r="2.6"/><circle cx="589.23" cy="464.3" r="2.6"/><circle cx="586.48" cy="477.37" r="2.6"/><circle cx="578.62" cy="469.52" r="2.6"/><circle cx="567.05" cy="484.47" r="2.6"/><circle cx="555.62" cy="483.76" r="2.6"/><circle cx="580.49" cy="478.16" r="2.6"/><circle cx="592.35" cy="497.44" r="2.6"/><circle cx="557.02" cy="474.51" r="2.6"/><circle cx="595.58" cy="462.73" r="2.6"/><circle cx="585.92" cy="483.6" r="2.6"/><circle cx="566.25" cy="464.63" r="2.6"/><circle cx="577.76" cy="497.98" r="2.6"/><circle cx="577.49" cy="485.7" r="2.6"/><circle cx="586.06" cy="457.52" r="2.6"/><circle cx="583.15" cy="446.66" r="2.6"/><circle cx="565.49" cy="457.6" r="2.6"/><circle cx="594.95" cy="486.06" r="2.6"/><circle cx="575.62" cy="444.84" r="2.6"/><circle cx="566.4" cy="460.82" r="2.6"/><circle cx="559.43" cy="480.99" r="2.6"/><circle cx="593.52" cy="492.18" r="2.6"/><circle cx="578.9" cy="453.81" r="2.6"/><circle cx="573.55" cy="490.68" r="2.6"/><circle cx="570.32" cy="492.32" r="2.6"/><circle cx="584.36" cy="492.57" r="2.6"/><circle cx="581.87" cy="492.29" r="2.6"/><circle cx="569.96" cy="467.24" r="2.6"/><circle cx="571.14" cy="490.42" r="2.6"/><circle cx="591.5" cy="467.99" r="2.6"/><circle cx="573.41" cy="474.48" r="2.6"/><circle cx="575.92" cy="481.42" r="2.6"/><circle cx="558.4" cy="520.49" r="2.6"/><circle cx="589.38" cy="489.86" r="2.6"/><circle cx="592.27" cy="493.46" r="2.6"/><circle cx="588.43" cy="477.7" r="2.6"/><circle cx="574.29" cy="486.8" r="2.6"/><circle cx="554.93" cy="500.99" r="2.6"/><circle cx="557.09" cy="502.35" r="2.6"/><circle cx="558.6" cy="498.59" r="2.6"/><circle cx="576.18" cy="444.38" r="2.6"/><circle cx="556.57" cy="480.7" r="2.6"/><circle cx="560.16" cy="473.56" r="2.6"/><circle cx="591.46" cy="466.82" r="2.6"/><circle cx="576.3" cy="473.39" r="2.6"/><circle cx="589.72" cy="491.62" r="2.6"/><circle cx="575.6" cy="462.56" r="2.6"/><circle cx="580.24" cy="460.87" r="2.6"/><circle cx="575.75" cy="461.8" r="2.6"/><circle cx="577.13" cy="495.26" r="2.6"/><circle cx="588.82" cy="487.57" r="2.6"/><circle cx="558.49" cy="490.22" r="2.6"/><circle cx="570.2" cy="468.38" r="2.6"/><circle cx="559.7" cy="458.05" r="2.6"/><circle cx="570" cy="463.73" r="2.6"/><circle cx="558.05" cy="474.4" r="2.6"/><circle cx="571.42" cy="463.45" r="2.6"/><circle cx="565.88" cy="454.2" r="2.6"/><circle cx="588" cy="517.38" r="2.6"/><circle cx="578.05" cy="480.22" r="2.6"/><circle cx="564.82" cy="498.84" r="2.6"/><circle cx="572.17" cy="496.18" r="2.6"/><circle cx="592.43" cy="488.24" r="2.6"/><circle cx="588.11" cy="456.98" r="2.6"/><circle cx="574.32" cy="459.65" r="2.6"/><circle cx="573.23" cy="506.97" r="2.6"/><circle cx="572.94" cy="489.75" r="2.6"/><circle cx="559.3" cy="468.76" r="2.6"/><circle cx="583.29" cy="477.03" r="2.6"/><circle cx="561.52" cy="459.17" r="2.6"/><circle cx="574.16" cy="492.14" r="2.6"/><circle cx="568.47" cy="475.6" r="2.6"/><circle cx="575.1" cy="496.13" r="2.6"/><circle cx="558.56" cy="498.56" r="2.6"/><circle cx="576.63" cy="495.86" r="2.6"/><circle cx="556.92" cy="477.13" r="2.6"/><circle cx="593.23" cy="468.41" r="2.6"/><circle cx="575.14" cy="487.24" r="2.6"/><circle cx="558.11" cy="485.87" r="2.6"/><circle cx="583.46" cy="492.22" r="2.6"/><circle cx="573.27" cy="480.23" r="2.6"/><circle cx="577.14" cy="463.04" r="2.6"/><circle cx="588.88" cy="461.88" r="2.6"/><circle cx="576.8" cy="535.91" r="2.6"/><circle cx="593.08" cy="476.87" r="2.6"/><circle cx="594.52" cy="460.97" r="2.6"/><circle cx="562.79" cy="495.83" r="2.6"/><circle cx="587.18" cy="520.05" r="2.6"/><circle cx="555.66" cy="456.18" r="2.6"/><circle cx="578.52" cy="461.9" r="2.6"/><circle cx="579.73" cy="506.89" r="2.6"/><circle cx="584.84" cy="490.77" r="2.6"/><circle cx="588.6" cy="458.35" r="2.6"/><circle cx="582.62" cy="496.74" r="2.6"/><circle cx="588.37" cy="489.41" r="2.6"/><circle cx="560.15" cy="482.11" r="2.6"/><circle cx="557.92" cy="501.46" r="2.6"/><circle cx="589.02" cy="460.7" r="2.6"/><circle cx="591.82" cy="498.44" r="2.6"/><circle cx="587.72" cy="500.7" r="2.6"/><circle cx="573.19" cy="473.89" r="2.6"/><circle cx="556.77" cy="472.19" r="2.6"/><circle cx="576.73" cy="496.4" r="2.6"/><circle cx="593.14" cy="474.11" r="2.6"/><circle cx="575.95" cy="466.51" r="2.6"/><circle cx="592.06" cy="457.49" r="2.6"/><circle cx="574.02" cy="454.91" r="2.6"/><circle cx="581.87" cy="459.61" r="2.6"/><circle cx="577.99" cy="468.27" r="2.6"/><circle cx="585.55" cy="466.69" r="2.6"/><circle cx="580" cy="439" r="2.6"/><circle cx="594.78" cy="456.71" r="2.6"/><circle cx="585.63" cy="508.9" r="2.6"/><circle cx="565.42" cy="456.53" r="2.6"/><circle cx="581.91" cy="467.7" r="2.6"/><circle cx="577.27" cy="479.23" r="2.6"/><circle cx="575.89" cy="483.21" r="2.6"/><circle cx="558.37" cy="504.18" r="2.6"/><circle cx="569.3" cy="459.86" r="2.6"/><circle cx="560.89" cy="490.73" r="2.6"/><circle cx="592.78" cy="460.93" r="2.6"/><circle cx="561.54" cy="468.67" r="2.6"/><circle cx="567.08" cy="486.12" r="2.6"/><circle cx="563.5" cy="483.26" r="2.6"/><circle cx="563.99" cy="486.68" r="2.6"/><circle cx="571.92" cy="444.43" r="2.6"/><circle cx="566.47" cy="471.12" r="2.6"/><circle cx="564.68" cy="484.61" r="2.6"/><circle cx="576.39" cy="478.61" r="2.6"/><circle cx="590.24" cy="464.77" r="2.6"/><circle cx="574.58" cy="456.45" r="2.6"/><circle cx="564.44" cy="510.66" r="2.6"/><circle cx="577.49" cy="496.93" r="2.6"/><circle cx="594.7" cy="496.52" r="2.6"/><circle cx="582.24" cy="520.4" r="2.6"/><circle cx="566.56" cy="496.66" r="2.6"/><circle cx="589.06" cy="500.86" r="2.6"/><circle cx="564.95" cy="474.32" r="2.6"/><circle cx="567.17" cy="497.26" r="2.6"/><circle cx="581.13" cy="456.5" r="2.6"/><circle cx="556.46" cy="465.88" r="2.6"/><circle cx="560.74" cy="480.98" r="2.6"/><circle cx="582.79" cy="457.1" r="2.6"/><circle cx="584.08" cy="461.77" r="2.6"/><circle cx="566.61" cy="466.69" r="2.6"/><circle cx="577.21" cy="503.04" r="2.6"/><circle cx="584.69" cy="465.14" r="2.6"/><circle cx="573.78" cy="453.72" r="2.6"/><circle cx="575.55" cy="457.57" r="2.6"/><circle cx="561.04" cy="459.12" r="2.6"/><circle cx="555.25" cy="475.2" r="2.6"/><circle cx="572.69" cy="490.9" r="2.6"/><circle cx="563.79" cy="480.15" r="2.6"/><circle cx="577.7" cy="467.29" r="2.6"/><circle cx="558.04" cy="497.47" r="2.6"/><circle cx="563.1" cy="478.22" r="2.6"/><circle cx="576.68" cy="488.19" r="2.6"/><circle cx="557.96" cy="502.79" r="2.6"/><circle cx="587.71" cy="502.14" r="2.6"/><circle cx="576.32" cy="493.73" r="2.6"/><circle cx="595.09" cy="463.24" r="2.6"/><circle cx="568.75" cy="464.68" r="2.6"/></g>
<g clip-path="url(#c3)" fill="#00BFC4" fill-opacity="0.6"><circle cx="634.44" cy="458.89" r="2.6"/><circle cx="631.11" cy="435.93" r="2.6"/><circle cx="637.99" cy="456.15" r="2.6"/><circle cx="641.38" cy="463.28" r="2.6"/><circle cx="628.84" cy="457.43" r="2.6"/><circle cx="640.46" cy="469.47" r="2.6"/><circle cx="654.02" cy="470.26" r="2.6"/><circle cx="645.78" cy="448.38" r="2.6"/><circle cx="624.89" cy="458.96" r="2.6"/><circle cx="627.37" cy="453" r="2.6"/><circle cx="638.69" cy="460.48" r="2.6"/><circle cx="657.75" cy="434.7" r="2.6"/><circle cx="634.31" cy="440.86" r="2.6"/><circle cx="657.16" cy="445.17" r="2.6"/><circle cx="639.21" cy="461.38" r="2.6"/><circle cx="633.15" cy="438.97" r="2.6"/><circle cx="658.36" cy="441.25" r="2.6"/><circle cx="656.56" cy="463.71" r="2.6"/><circle cx="646.26" cy="455.25" r="2.6"/><circle cx="662.79" cy="459.59" r="2.6"/><circle cx="633" cy="446.52" r="2.6"/><circle cx="654.04" cy="441.04" r="2.6"/><circle cx="645.76" cy="442" r="2.6"/><circle cx="635.01" cy="430.8" r="2.6"/><circle cx="648.83" cy="447.54" r="2.6"/><circle cx="637.09" cy="445.17" r="2.6"/><circle cx="655.22" cy="461.24" r="2.6"/><circle cx="650.01" cy="428.68" r="2.6"/><circle cx="629.19" cy="439.31" r="2.6"/><circle cx="633.61" cy="450.75" r="2.6"/><circle cx="638.64" cy="471.17" r="2.6"/><circle cx="637.47" cy="467.76" r="2.6"/><circle cx="663.96" cy="462.27" r="2.6"/><circle cx="655.82" cy="448.3" r="2.6"/><circle cx="646.73" cy="438.01" r="2.6"/><circle cx="626.2" cy="434.68" r="2.6"/><circle cx="655.73" cy="457.22" r="2.6"/><circle cx="641.39" cy="461.26" r="2.6"/><circle cx="624.92" cy="438.18" r="2.6"/><circle cx="634.87" cy="457.42" r="2.6"/><circle cx="651.74" cy="462.9" r="2.6"/><circle cx="628.06" cy="463.83" r="2.6"/><circle cx="641.95" cy="447.89" r="2.6"/><circle cx="634.25" cy="448.35" r="2.6"/><circle cx="644.43" cy="445.57" r="2.6"/><circle cx="641.06" cy="455.54" r="2.6"/><circle cx="646.94" cy="447.89" r="2.6"/><circle cx="627.77" cy="450.41" r="2.6"/><circle cx="624.31" cy="455.36" r="2.6"/><circle cx="649.99" cy="454.5" r="2.6"/><circle cx="649.13" cy="463.05" r="2.6"/><circle cx="651.88" cy="446.35" r="2.6"/><circle cx="664.06" cy="449.42" r="2.6"/><circle cx="635.2" cy="452.49" r="2.6"/><circle cx="644.68" cy="463.26" r="2.6"/><circle cx="663.18" cy="440.86" r="2.6"/><circle cx="632.65" cy="447.74" r="2.6"/><circle cx="661.86" cy="463.11" r="2.6"/><circle cx="659.94" cy="461.78" r="2.6"/><circle cx="660.65" cy="452.61" r="2.6"/><circle cx="663.22" cy="458.41" r="2.6"/><circle cx="663.2" cy="461.34" r="2.6"/><circle cx="654.62" cy="456.88" r="2.6"/><circle cx="661.63" cy="458.41" r="2.6"/><circle cx="652.29" cy="448.95" r="2.6"/><circle cx="651.43" cy="443.72" r="2.6"/><circle cx="661.65" cy="441.69" r="2.6"/><circle cx="649.91" cy="446.49" r="2.6"/><circle cx="657.8" cy="449.2" r="2.6"/><circle cx="626.95" cy="435.68" r="2.6"/><circle cx="638.35" cy="449.64" r="2.6"/><circle cx="638.55" cy="452.82" r="2.6"/><circle cx="624.88" cy="434.71" r="2.6"/><circle cx="627.84" cy="452.37" r="2.6"/><circle cx="627.19" cy="442" r="2.6"/><circle cx="635.38" cy="450.27" r="2.6"/><circle cx="628.3" cy="475.8" r="2.6"/><circle cx="652.86" cy="443.61" r="2.6"/><circle cx="639.03" cy="473.23" r="2.6"/><circle cx="644.18" cy="446.7" r="2.6"/><circle cx="641.25" cy="458.55" r="2.6"/><circle cx="642.07" cy="451.79" r="2.6"/><circle cx="631.63" cy="438.59" r="2.6"/><circle cx="637.69" cy="462.14" r="2.6"/><circle cx="642.25" cy="432.24" r="2.6"/><circle cx="641.09" cy="440.7" r="2.6"/><circle cx="624.23" cy="458.71" r="2.6"/><circle cx="644.85" cy="462.04" r="2.6"/><circle cx="660.27" cy="440.51" r="2.6"/><circle cx="633.2" cy="460.83" r="2.6"/><circle cx="632.51" cy="469.95" r="2.6"/><circle cx="646.56" cy="437.14" r="2.6"/><circle cx="658.64" cy="452.19" r="2.6"/><circle cx="635.92" cy="435.54" r="2.6"/><circle cx="660.13" cy="437.77" r="2.6"/><circle cx="653.44" cy="458.9" r="2.6"/><circle cx="637.83" cy="435.39" r="2.6"/><circle cx="638.94" cy="454.31" r="2.6"/><circle cx="632.18" cy="453.31" r="2.6"/><circle cx="648.38" cy="472.02" r="2.6"/><circle cx="641.17" cy="451.63" r="2.6"/><circle cx="653.54" cy="447.55" r="2.6"/><circle cx="656.99" cy="460.63" r="2.6"/><circle cx="627.94" cy="444.18" r="2.6"/><circle cx="663.02" cy="456.61" r="2.6"/><circle cx="659.15" cy="440.96" r="2.6"/><circle cx="630.44" cy="454.44" r="2.6"/><circle cx="635.16" cy="467.71" r="2.6"/><circle cx="651.83" cy="441.44" r="2.6"/><circle cx="649.09" cy="458.79" r="2.6"/><circle cx="639.11" cy="447.88" r="2.6"/><circle cx="630.29" cy="434.72" r="2.6"/><circle cx="624.42" cy="463.35" r="2.6"/><circle cx="653.92" cy="447.93" r="2.6"/><circle cx="663.04" cy="442.86" r="2.6"/><circle cx="629.79" cy="447.47" r="2.6"/><circle cx="651.87" cy="459.17" r="2.6"/><circle cx="644.5" cy="443.68" r="2.6"/><circle cx="660.14" cy="450.83" r="2.6"/><circle cx="663.58" cy="434.32" r="2.6"/><circle cx="655.36" cy="459.15" r="2.6"/><circle cx="660.1" cy="453.75" r="2.6"/><circle cx="633.33" cy="460.14" r="2.6"/><circle cx="662.99" cy="461.58" r="2.6"/><circle cx="645.82" cy="447.65" r="2.6"/><circle cx="636.31" cy="455.43" r="2.6"/><circle cx="656.79" cy="449.62" r="2.6"/><circle cx="655.11" cy="435.79" r="2.6"/><circle cx="658.03" cy="439.44" r="2.6"/><circle cx="627.93" cy="449.38" r="2.6"/><circle cx="629.65" cy="434.76" r="2.6"/><circle cx="656.17" cy="447.24" r="2.6"/><circle cx="661.1" cy="456.2" r="2.6"/><circle cx="640.5" cy="447.49" r="2.6"/><circle cx="623.52" cy="461.34" r="2.6"/><circle cx="649.92" cy="436.81" r="2.6"/><circle cx="647.87" cy="436.6" r="2.6"/><circle cx="657.42" cy="456.54" r="2.6"/><circle cx="649.11" cy="448.64" r="2.6"/><circle cx="658.16" cy="453.37" r="2.6"/><circle cx="637.09" cy="456.64" r="2.6"/><circle cx="654.13" cy="464.23" r="2.6"/><circle cx="662.04" cy="461.34" r="2.6"/><circle cx="635.71" cy="450.73" r="2.6"/><circle cx="632.1" cy="449.29" r="2.6"/><circle cx="640.56" cy="459.14" r="2.6"/><circle cx="634.56" cy="444.86" r="2.6"/><circle cx="661.31" cy="434.45" r="2.6"/><circle cx="660.89" cy="441.06" r="2.6"/><circle cx="658.5" cy="435.8" r="2.6"/><circle cx="649.26" cy="456.65" r="2.6"/><circle cx="662.41" cy="460.37" r="2.6"/><circle cx="626.94" cy="451.87" r="2.6"/><circle cx="628.29" cy="461.41" r="2.6"/><circle cx="654.02" cy="438.41" r="2.6"/><circle cx="623.85" cy="463.17" r="2.6"/><circle cx="643.94" cy="436.43" r="2.6"/><circle cx="627.98" cy="461.67" r="2.6"/><circle cx="657.96" cy="436.9" r="2.6"/><circle cx="660.59" cy="432.62" r="2.6"/><circle cx="659.12" cy="454.54" r="2.6"/><circle cx="660.3" cy="452.19" r="2.6"/><circle cx="661.16" cy="474.62" r="2.6"/><circle cx="640.27" cy="440.75" r="2.6"/><circle cx="628.71" cy="474.15" r="2.6"/><circle cx="629.3" cy="444.3" r="2.6"/><circle cx="643.04" cy="450.74" r="2.6"/><circle cx="654.62" cy="428.49" r="2.6"/><circle cx="634.24" cy="448.83" r="2.6"/><circle cx="655.56" cy="452.27" r="2.6"/><circle cx="637.8" cy="438.86" r="2.6"/><circle cx="640.85" cy="453.41" r="2.6"/><circle cx="632.7" cy="437.76" r="2.6"/><circle cx="628.13" cy="434.61" r="2.6"/><circle cx="651.28" cy="449.06" r="2.6"/><circle cx="644.56" cy="462.91" r="2.6"/><circle cx="637.3" cy="458.05" r="2.6"/><circle cx="644.92" cy="462.36" r="2.6"/><circle cx="662.95" cy="445.77" r="2.6"/><circle cx="654.67" cy="455.77" r="2.6"/><circle cx="625.98" cy="455.9" r="2.6"/><circle cx="628.73" cy="436.74" r="2.6"/><circle cx="627.22" cy="458.39" r="2.6"/><circle cx="640.76" cy="473.96" r="2.6"/><circle cx="650.98" cy="459.19" r="2.6"/><circle cx="632.17" cy="446.61" r="2.6"/><circle cx="632.04" cy="455.7" r="2.6"/><circle cx="625.71" cy="439.08" r="2.6"/><circle cx="646.81" cy="441.26" r="2.6"/><circle cx="662.91" cy="443.78" r="2.6"/></g>
<line x1="417.83" x2="458.83" y1="481.8" y2="481.8" stroke="#000" stroke-width="1.4"/>
<text x="438.33" y="477" text-anchor="middle" font-size="12.6" fill="#000">0.4</text>
<line x1="486.34" x2="527.3399999999999" y1="435.1" y2="435.1" stroke="#000" stroke-width="1.4"/>
<text x="506.84" y="430.3" text-anchor="middle" font-size="12.6" fill="#000">11.9</text>
<line x1="554.86" x2="595.86" y1="482.9" y2="482.9" stroke="#000" stroke-width="1.4"/>
<text x="575.36" y="478.1" text-anchor="middle" font-size="12.6" fill="#000">0.4</text>
<line x1="623.37" x2="664.37" y1="452.6" y2="452.6" stroke="#000" stroke-width="1.4"/>
<text x="643.87" y="447.8" text-anchor="middle" font-size="12.6" fill="#000">3.4</text>
<path d="M438.33 350.1V345.8H506.84V350.1" fill="none" stroke="#000" stroke-width="1.4" stroke-linecap="round" stroke-linejoin="round"/>
<text x="472.585" y="342.9" text-anchor="middle" font-size="12.6" fill="#000"><tspan font-style="italic">P</tspan><tspan dx="6.2">< 0.0001</tspan></text>
<path d="M575.36 350.1V345.8H643.87V350.1" fill="none" stroke="#000" stroke-width="1.4" stroke-linecap="round" stroke-linejoin="round"/>
<text x="609.615" y="342.9" text-anchor="middle" font-size="12.6" fill="#000"><tspan font-style="italic">P</tspan><tspan dx="6.2">< 0.0001</tspan></text>
<path d="M506.84 372.7V368.4H643.87V372.7" fill="none" stroke="#000" stroke-width="1.4" stroke-linecap="round" stroke-linejoin="round"/>
<text x="575.355" y="365.5" text-anchor="middle" font-size="12.6" fill="#000"><tspan font-style="italic">P</tspan><tspan dx="6.2">< 0.0001</tspan></text>
</svg></body></html>
